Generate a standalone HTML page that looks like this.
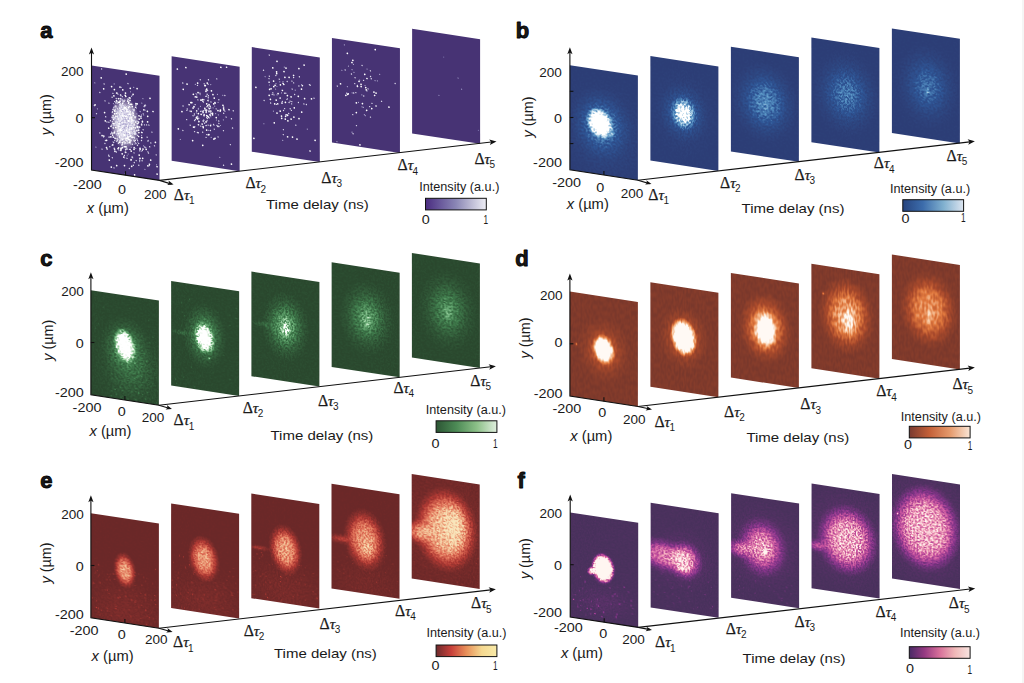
<!DOCTYPE html>
<html><head><meta charset="utf-8"><title>Figure</title>
<style>
html,body{margin:0;padding:0;background:#ffffff;}
body{width:1024px;height:683px;overflow:hidden;position:relative;font-family:"Liberation Sans", sans-serif;}
svg{position:absolute;left:0;top:0;display:block;}
svg text{font-family:"Liberation Sans", sans-serif;fill:#1a1a1a;}
svg text.ser{font-family:"Liberation Serif",serif;stroke:#1a1a1a;stroke-width:0.25px;}
svg tspan.sans{font-family:"Liberation Sans",sans-serif;stroke:none;}
.strip{position:absolute;right:0;top:0;width:2px;height:683px;background:#f5f5f5;}
</style></head><body>
<svg width="1024" height="683" viewBox="0 0 1024 683">
<defs>
<radialGradient id="acore"><stop offset="0" stop-color="#fff" stop-opacity="1"/><stop offset="0.42" stop-color="#fff" stop-opacity="0.95"/><stop offset="0.72" stop-color="#fff" stop-opacity="0.45"/><stop offset="1" stop-color="#fff" stop-opacity="0"/></radialGradient>
<clipPath id="cr"><rect x="0" y="0" width="68.0" height="104.6"/></clipPath>
<linearGradient id="ga"><stop offset="0.00" stop-color="#4a2c80"/><stop offset="0.25" stop-color="#6a5a9c"/><stop offset="0.50" stop-color="#8a86b5"/><stop offset="0.75" stop-color="#bcbad4"/><stop offset="1.00" stop-color="#eeeef5"/></linearGradient>
<filter id="fb0" filterUnits="userSpaceOnUse" x="-1" y="-1" width="70.0" height="106.6" color-interpolation-filters="sRGB"><feTurbulence type="fractalNoise" baseFrequency="0.5" numOctaves="2" seed="98" result="t"/><feColorMatrix in="t" type="matrix" values="3.0 0 0 0 -1.0  3.0 0 0 0 -1.0  3.0 0 0 0 -1.0  0 0 0 0 1" result="n0"/><feGaussianBlur in="n0" stdDeviation="0.5" result="n"/><feComposite in="SourceGraphic" in2="n" operator="arithmetic" k1="1.600" k2="1.200" k3="0.040" k4="-0.020"/><feComponentTransfer><feFuncR type="table" tableValues="0.176 0.178 0.180 0.182 0.184 0.222 0.259 0.296 0.333 0.417 0.500 0.583 0.667 0.750 0.833 0.917 1.000"/><feFuncG type="table" tableValues="0.243 0.267 0.290 0.314 0.337 0.394 0.451 0.508 0.565 0.625 0.684 0.744 0.804 0.853 0.902 0.951 1.000"/><feFuncB type="table" tableValues="0.463 0.494 0.525 0.557 0.588 0.631 0.675 0.718 0.761 0.794 0.827 0.861 0.894 0.921 0.947 0.974 1.000"/><feFuncA type="linear" slope="0" intercept="1"/></feComponentTransfer></filter>
<radialGradient id="rb00"><stop offset="0.000" stop-color="#fff" stop-opacity="0.085"/><stop offset="0.083" stop-color="#fff" stop-opacity="0.083"/><stop offset="0.167" stop-color="#fff" stop-opacity="0.077"/><stop offset="0.250" stop-color="#fff" stop-opacity="0.068"/><stop offset="0.333" stop-color="#fff" stop-opacity="0.058"/><stop offset="0.417" stop-color="#fff" stop-opacity="0.046"/><stop offset="0.500" stop-color="#fff" stop-opacity="0.035"/><stop offset="0.583" stop-color="#fff" stop-opacity="0.026"/><stop offset="0.667" stop-color="#fff" stop-opacity="0.018"/><stop offset="0.750" stop-color="#fff" stop-opacity="0.012"/><stop offset="0.833" stop-color="#fff" stop-opacity="0.007"/><stop offset="0.917" stop-color="#fff" stop-opacity="0.004"/><stop offset="1.000" stop-color="#fff" stop-opacity="0.000"/></radialGradient>
<radialGradient id="rb01"><stop offset="0.000" stop-color="#fff" stop-opacity="0.220"/><stop offset="0.083" stop-color="#fff" stop-opacity="0.215"/><stop offset="0.167" stop-color="#fff" stop-opacity="0.200"/><stop offset="0.250" stop-color="#fff" stop-opacity="0.177"/><stop offset="0.333" stop-color="#fff" stop-opacity="0.149"/><stop offset="0.417" stop-color="#fff" stop-opacity="0.120"/><stop offset="0.500" stop-color="#fff" stop-opacity="0.092"/><stop offset="0.583" stop-color="#fff" stop-opacity="0.067"/><stop offset="0.667" stop-color="#fff" stop-opacity="0.046"/><stop offset="0.750" stop-color="#fff" stop-opacity="0.031"/><stop offset="0.833" stop-color="#fff" stop-opacity="0.019"/><stop offset="0.917" stop-color="#fff" stop-opacity="0.012"/><stop offset="1.000" stop-color="#fff" stop-opacity="0.000"/></radialGradient>
<radialGradient id="rb02"><stop offset="0.000" stop-color="#fff" stop-opacity="1.000"/><stop offset="0.083" stop-color="#fff" stop-opacity="1.000"/><stop offset="0.167" stop-color="#fff" stop-opacity="1.000"/><stop offset="0.250" stop-color="#fff" stop-opacity="1.000"/><stop offset="0.333" stop-color="#fff" stop-opacity="1.000"/><stop offset="0.417" stop-color="#fff" stop-opacity="1.000"/><stop offset="0.500" stop-color="#fff" stop-opacity="0.824"/><stop offset="0.583" stop-color="#fff" stop-opacity="0.613"/><stop offset="0.667" stop-color="#fff" stop-opacity="0.426"/><stop offset="0.750" stop-color="#fff" stop-opacity="0.277"/><stop offset="0.833" stop-color="#fff" stop-opacity="0.167"/><stop offset="0.917" stop-color="#fff" stop-opacity="0.093"/><stop offset="1.000" stop-color="#fff" stop-opacity="0.000"/></radialGradient>
<radialGradient id="rb03"><stop offset="0.000" stop-color="#fff" stop-opacity="0.250"/><stop offset="0.083" stop-color="#fff" stop-opacity="0.244"/><stop offset="0.167" stop-color="#fff" stop-opacity="0.227"/><stop offset="0.250" stop-color="#fff" stop-opacity="0.201"/><stop offset="0.333" stop-color="#fff" stop-opacity="0.169"/><stop offset="0.417" stop-color="#fff" stop-opacity="0.136"/><stop offset="0.500" stop-color="#fff" stop-opacity="0.104"/><stop offset="0.583" stop-color="#fff" stop-opacity="0.076"/><stop offset="0.667" stop-color="#fff" stop-opacity="0.053"/><stop offset="0.750" stop-color="#fff" stop-opacity="0.035"/><stop offset="0.833" stop-color="#fff" stop-opacity="0.022"/><stop offset="0.917" stop-color="#fff" stop-opacity="0.013"/><stop offset="1.000" stop-color="#fff" stop-opacity="0.000"/></radialGradient>
<filter id="fb1" filterUnits="userSpaceOnUse" x="-1" y="-1" width="70.0" height="106.6" color-interpolation-filters="sRGB"><feTurbulence type="fractalNoise" baseFrequency="0.5" numOctaves="2" seed="105" result="t"/><feColorMatrix in="t" type="matrix" values="3.0 0 0 0 -1.0  3.0 0 0 0 -1.0  3.0 0 0 0 -1.0  0 0 0 0 1" result="n0"/><feGaussianBlur in="n0" stdDeviation="0.5" result="n"/><feComposite in="SourceGraphic" in2="n" operator="arithmetic" k1="1.600" k2="1.200" k3="0.040" k4="-0.020"/><feComponentTransfer><feFuncR type="table" tableValues="0.176 0.178 0.180 0.182 0.184 0.222 0.259 0.296 0.333 0.417 0.500 0.583 0.667 0.750 0.833 0.917 1.000"/><feFuncG type="table" tableValues="0.243 0.267 0.290 0.314 0.337 0.394 0.451 0.508 0.565 0.625 0.684 0.744 0.804 0.853 0.902 0.951 1.000"/><feFuncB type="table" tableValues="0.463 0.494 0.525 0.557 0.588 0.631 0.675 0.718 0.761 0.794 0.827 0.861 0.894 0.921 0.947 0.974 1.000"/><feFuncA type="linear" slope="0" intercept="1"/></feComponentTransfer></filter>
<radialGradient id="rb10"><stop offset="0.000" stop-color="#fff" stop-opacity="0.055"/><stop offset="0.083" stop-color="#fff" stop-opacity="0.054"/><stop offset="0.167" stop-color="#fff" stop-opacity="0.050"/><stop offset="0.250" stop-color="#fff" stop-opacity="0.044"/><stop offset="0.333" stop-color="#fff" stop-opacity="0.037"/><stop offset="0.417" stop-color="#fff" stop-opacity="0.030"/><stop offset="0.500" stop-color="#fff" stop-opacity="0.023"/><stop offset="0.583" stop-color="#fff" stop-opacity="0.017"/><stop offset="0.667" stop-color="#fff" stop-opacity="0.012"/><stop offset="0.750" stop-color="#fff" stop-opacity="0.008"/><stop offset="0.833" stop-color="#fff" stop-opacity="0.005"/><stop offset="0.917" stop-color="#fff" stop-opacity="0.003"/><stop offset="1.000" stop-color="#fff" stop-opacity="0.000"/></radialGradient>
<radialGradient id="rb11"><stop offset="0.000" stop-color="#fff" stop-opacity="0.200"/><stop offset="0.083" stop-color="#fff" stop-opacity="0.195"/><stop offset="0.167" stop-color="#fff" stop-opacity="0.181"/><stop offset="0.250" stop-color="#fff" stop-opacity="0.161"/><stop offset="0.333" stop-color="#fff" stop-opacity="0.136"/><stop offset="0.417" stop-color="#fff" stop-opacity="0.109"/><stop offset="0.500" stop-color="#fff" stop-opacity="0.083"/><stop offset="0.583" stop-color="#fff" stop-opacity="0.061"/><stop offset="0.667" stop-color="#fff" stop-opacity="0.042"/><stop offset="0.750" stop-color="#fff" stop-opacity="0.028"/><stop offset="0.833" stop-color="#fff" stop-opacity="0.018"/><stop offset="0.917" stop-color="#fff" stop-opacity="0.011"/><stop offset="1.000" stop-color="#fff" stop-opacity="0.000"/></radialGradient>
<radialGradient id="rb12"><stop offset="0.000" stop-color="#fff" stop-opacity="0.625"/><stop offset="0.083" stop-color="#fff" stop-opacity="0.616"/><stop offset="0.167" stop-color="#fff" stop-opacity="0.584"/><stop offset="0.250" stop-color="#fff" stop-opacity="0.530"/><stop offset="0.333" stop-color="#fff" stop-opacity="0.457"/><stop offset="0.417" stop-color="#fff" stop-opacity="0.375"/><stop offset="0.500" stop-color="#fff" stop-opacity="0.292"/><stop offset="0.583" stop-color="#fff" stop-opacity="0.215"/><stop offset="0.667" stop-color="#fff" stop-opacity="0.149"/><stop offset="0.750" stop-color="#fff" stop-opacity="0.097"/><stop offset="0.833" stop-color="#fff" stop-opacity="0.060"/><stop offset="0.917" stop-color="#fff" stop-opacity="0.035"/><stop offset="1.000" stop-color="#fff" stop-opacity="0.000"/></radialGradient>
<filter id="fb2" filterUnits="userSpaceOnUse" x="-1" y="-1" width="70.0" height="106.6" color-interpolation-filters="sRGB"><feTurbulence type="fractalNoise" baseFrequency="0.5" numOctaves="2" seed="112" result="t"/><feColorMatrix in="t" type="matrix" values="3.0 0 0 0 -1.0  3.0 0 0 0 -1.0  3.0 0 0 0 -1.0  0 0 0 0 1" result="n0"/><feGaussianBlur in="n0" stdDeviation="0.5" result="n"/><feComposite in="SourceGraphic" in2="n" operator="arithmetic" k1="1.600" k2="1.200" k3="0.040" k4="-0.020"/><feComponentTransfer><feFuncR type="table" tableValues="0.176 0.178 0.180 0.182 0.184 0.222 0.259 0.296 0.333 0.417 0.500 0.583 0.667 0.750 0.833 0.917 1.000"/><feFuncG type="table" tableValues="0.243 0.267 0.290 0.314 0.337 0.394 0.451 0.508 0.565 0.625 0.684 0.744 0.804 0.853 0.902 0.951 1.000"/><feFuncB type="table" tableValues="0.463 0.494 0.525 0.557 0.588 0.631 0.675 0.718 0.761 0.794 0.827 0.861 0.894 0.921 0.947 0.974 1.000"/><feFuncA type="linear" slope="0" intercept="1"/></feComponentTransfer></filter>
<radialGradient id="rb20"><stop offset="0.000" stop-color="#fff" stop-opacity="0.025"/><stop offset="0.083" stop-color="#fff" stop-opacity="0.024"/><stop offset="0.167" stop-color="#fff" stop-opacity="0.023"/><stop offset="0.250" stop-color="#fff" stop-opacity="0.020"/><stop offset="0.333" stop-color="#fff" stop-opacity="0.017"/><stop offset="0.417" stop-color="#fff" stop-opacity="0.014"/><stop offset="0.500" stop-color="#fff" stop-opacity="0.010"/><stop offset="0.583" stop-color="#fff" stop-opacity="0.008"/><stop offset="0.667" stop-color="#fff" stop-opacity="0.005"/><stop offset="0.750" stop-color="#fff" stop-opacity="0.003"/><stop offset="0.833" stop-color="#fff" stop-opacity="0.002"/><stop offset="0.917" stop-color="#fff" stop-opacity="0.001"/><stop offset="1.000" stop-color="#fff" stop-opacity="0.000"/></radialGradient>
<radialGradient id="rb21"><stop offset="0.000" stop-color="#fff" stop-opacity="0.210"/><stop offset="0.083" stop-color="#fff" stop-opacity="0.207"/><stop offset="0.167" stop-color="#fff" stop-opacity="0.196"/><stop offset="0.250" stop-color="#fff" stop-opacity="0.178"/><stop offset="0.333" stop-color="#fff" stop-opacity="0.154"/><stop offset="0.417" stop-color="#fff" stop-opacity="0.126"/><stop offset="0.500" stop-color="#fff" stop-opacity="0.098"/><stop offset="0.583" stop-color="#fff" stop-opacity="0.072"/><stop offset="0.667" stop-color="#fff" stop-opacity="0.050"/><stop offset="0.750" stop-color="#fff" stop-opacity="0.033"/><stop offset="0.833" stop-color="#fff" stop-opacity="0.020"/><stop offset="0.917" stop-color="#fff" stop-opacity="0.012"/><stop offset="1.000" stop-color="#fff" stop-opacity="0.000"/></radialGradient>
<filter id="fb3" filterUnits="userSpaceOnUse" x="-1" y="-1" width="70.0" height="106.6" color-interpolation-filters="sRGB"><feTurbulence type="fractalNoise" baseFrequency="0.5" numOctaves="2" seed="119" result="t"/><feColorMatrix in="t" type="matrix" values="3.0 0 0 0 -1.0  3.0 0 0 0 -1.0  3.0 0 0 0 -1.0  0 0 0 0 1" result="n0"/><feGaussianBlur in="n0" stdDeviation="0.5" result="n"/><feComposite in="SourceGraphic" in2="n" operator="arithmetic" k1="1.600" k2="1.200" k3="0.040" k4="-0.020"/><feComponentTransfer><feFuncR type="table" tableValues="0.176 0.178 0.180 0.182 0.184 0.222 0.259 0.296 0.333 0.417 0.500 0.583 0.667 0.750 0.833 0.917 1.000"/><feFuncG type="table" tableValues="0.243 0.267 0.290 0.314 0.337 0.394 0.451 0.508 0.565 0.625 0.684 0.744 0.804 0.853 0.902 0.951 1.000"/><feFuncB type="table" tableValues="0.463 0.494 0.525 0.557 0.588 0.631 0.675 0.718 0.761 0.794 0.827 0.861 0.894 0.921 0.947 0.974 1.000"/><feFuncA type="linear" slope="0" intercept="1"/></feComponentTransfer></filter>
<radialGradient id="rb30"><stop offset="0.000" stop-color="#fff" stop-opacity="0.025"/><stop offset="0.083" stop-color="#fff" stop-opacity="0.024"/><stop offset="0.167" stop-color="#fff" stop-opacity="0.023"/><stop offset="0.250" stop-color="#fff" stop-opacity="0.020"/><stop offset="0.333" stop-color="#fff" stop-opacity="0.017"/><stop offset="0.417" stop-color="#fff" stop-opacity="0.014"/><stop offset="0.500" stop-color="#fff" stop-opacity="0.010"/><stop offset="0.583" stop-color="#fff" stop-opacity="0.008"/><stop offset="0.667" stop-color="#fff" stop-opacity="0.005"/><stop offset="0.750" stop-color="#fff" stop-opacity="0.003"/><stop offset="0.833" stop-color="#fff" stop-opacity="0.002"/><stop offset="0.917" stop-color="#fff" stop-opacity="0.001"/><stop offset="1.000" stop-color="#fff" stop-opacity="0.000"/></radialGradient>
<radialGradient id="rb31"><stop offset="0.000" stop-color="#fff" stop-opacity="0.175"/><stop offset="0.083" stop-color="#fff" stop-opacity="0.172"/><stop offset="0.167" stop-color="#fff" stop-opacity="0.164"/><stop offset="0.250" stop-color="#fff" stop-opacity="0.148"/><stop offset="0.333" stop-color="#fff" stop-opacity="0.128"/><stop offset="0.417" stop-color="#fff" stop-opacity="0.105"/><stop offset="0.500" stop-color="#fff" stop-opacity="0.082"/><stop offset="0.583" stop-color="#fff" stop-opacity="0.060"/><stop offset="0.667" stop-color="#fff" stop-opacity="0.042"/><stop offset="0.750" stop-color="#fff" stop-opacity="0.027"/><stop offset="0.833" stop-color="#fff" stop-opacity="0.017"/><stop offset="0.917" stop-color="#fff" stop-opacity="0.010"/><stop offset="1.000" stop-color="#fff" stop-opacity="0.000"/></radialGradient>
<filter id="fb4" filterUnits="userSpaceOnUse" x="-1" y="-1" width="70.0" height="106.6" color-interpolation-filters="sRGB"><feTurbulence type="fractalNoise" baseFrequency="0.5" numOctaves="2" seed="126" result="t"/><feColorMatrix in="t" type="matrix" values="3.0 0 0 0 -1.0  3.0 0 0 0 -1.0  3.0 0 0 0 -1.0  0 0 0 0 1" result="n0"/><feGaussianBlur in="n0" stdDeviation="0.5" result="n"/><feComposite in="SourceGraphic" in2="n" operator="arithmetic" k1="1.600" k2="1.200" k3="0.040" k4="-0.020"/><feComponentTransfer><feFuncR type="table" tableValues="0.176 0.178 0.180 0.182 0.184 0.222 0.259 0.296 0.333 0.417 0.500 0.583 0.667 0.750 0.833 0.917 1.000"/><feFuncG type="table" tableValues="0.243 0.267 0.290 0.314 0.337 0.394 0.451 0.508 0.565 0.625 0.684 0.744 0.804 0.853 0.902 0.951 1.000"/><feFuncB type="table" tableValues="0.463 0.494 0.525 0.557 0.588 0.631 0.675 0.718 0.761 0.794 0.827 0.861 0.894 0.921 0.947 0.974 1.000"/><feFuncA type="linear" slope="0" intercept="1"/></feComponentTransfer></filter>
<radialGradient id="rb40"><stop offset="0.000" stop-color="#fff" stop-opacity="0.025"/><stop offset="0.083" stop-color="#fff" stop-opacity="0.024"/><stop offset="0.167" stop-color="#fff" stop-opacity="0.023"/><stop offset="0.250" stop-color="#fff" stop-opacity="0.020"/><stop offset="0.333" stop-color="#fff" stop-opacity="0.017"/><stop offset="0.417" stop-color="#fff" stop-opacity="0.014"/><stop offset="0.500" stop-color="#fff" stop-opacity="0.010"/><stop offset="0.583" stop-color="#fff" stop-opacity="0.008"/><stop offset="0.667" stop-color="#fff" stop-opacity="0.005"/><stop offset="0.750" stop-color="#fff" stop-opacity="0.003"/><stop offset="0.833" stop-color="#fff" stop-opacity="0.002"/><stop offset="0.917" stop-color="#fff" stop-opacity="0.001"/><stop offset="1.000" stop-color="#fff" stop-opacity="0.000"/></radialGradient>
<radialGradient id="rb41"><stop offset="0.000" stop-color="#fff" stop-opacity="0.150"/><stop offset="0.083" stop-color="#fff" stop-opacity="0.148"/><stop offset="0.167" stop-color="#fff" stop-opacity="0.140"/><stop offset="0.250" stop-color="#fff" stop-opacity="0.127"/><stop offset="0.333" stop-color="#fff" stop-opacity="0.110"/><stop offset="0.417" stop-color="#fff" stop-opacity="0.090"/><stop offset="0.500" stop-color="#fff" stop-opacity="0.070"/><stop offset="0.583" stop-color="#fff" stop-opacity="0.051"/><stop offset="0.667" stop-color="#fff" stop-opacity="0.036"/><stop offset="0.750" stop-color="#fff" stop-opacity="0.023"/><stop offset="0.833" stop-color="#fff" stop-opacity="0.014"/><stop offset="0.917" stop-color="#fff" stop-opacity="0.008"/><stop offset="1.000" stop-color="#fff" stop-opacity="0.000"/></radialGradient>
<radialGradient id="rb42"><stop offset="0.000" stop-color="#fff" stop-opacity="0.175"/><stop offset="0.083" stop-color="#fff" stop-opacity="0.171"/><stop offset="0.167" stop-color="#fff" stop-opacity="0.159"/><stop offset="0.250" stop-color="#fff" stop-opacity="0.141"/><stop offset="0.333" stop-color="#fff" stop-opacity="0.119"/><stop offset="0.417" stop-color="#fff" stop-opacity="0.095"/><stop offset="0.500" stop-color="#fff" stop-opacity="0.073"/><stop offset="0.583" stop-color="#fff" stop-opacity="0.053"/><stop offset="0.667" stop-color="#fff" stop-opacity="0.037"/><stop offset="0.750" stop-color="#fff" stop-opacity="0.024"/><stop offset="0.833" stop-color="#fff" stop-opacity="0.015"/><stop offset="0.917" stop-color="#fff" stop-opacity="0.009"/><stop offset="1.000" stop-color="#fff" stop-opacity="0.000"/></radialGradient>
<linearGradient id="gb"><stop offset="0.00" stop-color="#26447f"/><stop offset="0.33" stop-color="#3c6cab"/><stop offset="0.67" stop-color="#80b0cf"/><stop offset="1.00" stop-color="#dde5f0"/></linearGradient>
<filter id="fc0" filterUnits="userSpaceOnUse" x="-1" y="-1" width="70.0" height="106.6" color-interpolation-filters="sRGB"><feTurbulence type="fractalNoise" baseFrequency="0.55" numOctaves="2" seed="99" result="t"/><feColorMatrix in="t" type="matrix" values="3.0 0 0 0 -1.0  3.0 0 0 0 -1.0  3.0 0 0 0 -1.0  0 0 0 0 1" result="n0"/><feGaussianBlur in="n0" stdDeviation="0.45" result="n"/><feComposite in="SourceGraphic" in2="n" operator="arithmetic" k1="2.000" k2="1.000" k3="0.050" k4="-0.025"/><feComponentTransfer><feFuncR type="table" tableValues="0.165 0.184 0.204 0.224 0.243 0.282 0.322 0.361 0.400 0.473 0.545 0.618 0.690 0.768 0.845 0.923 1.000"/><feFuncG type="table" tableValues="0.282 0.329 0.376 0.424 0.471 0.518 0.565 0.612 0.659 0.710 0.761 0.812 0.863 0.897 0.931 0.966 1.000"/><feFuncB type="table" tableValues="0.180 0.208 0.235 0.263 0.290 0.329 0.369 0.408 0.447 0.512 0.576 0.641 0.706 0.779 0.853 0.926 1.000"/><feFuncA type="linear" slope="0" intercept="1"/></feComponentTransfer></filter>
<radialGradient id="rc00"><stop offset="0.000" stop-color="#fff" stop-opacity="0.085"/><stop offset="0.083" stop-color="#fff" stop-opacity="0.083"/><stop offset="0.167" stop-color="#fff" stop-opacity="0.077"/><stop offset="0.250" stop-color="#fff" stop-opacity="0.068"/><stop offset="0.333" stop-color="#fff" stop-opacity="0.058"/><stop offset="0.417" stop-color="#fff" stop-opacity="0.046"/><stop offset="0.500" stop-color="#fff" stop-opacity="0.035"/><stop offset="0.583" stop-color="#fff" stop-opacity="0.026"/><stop offset="0.667" stop-color="#fff" stop-opacity="0.018"/><stop offset="0.750" stop-color="#fff" stop-opacity="0.012"/><stop offset="0.833" stop-color="#fff" stop-opacity="0.007"/><stop offset="0.917" stop-color="#fff" stop-opacity="0.004"/><stop offset="1.000" stop-color="#fff" stop-opacity="0.000"/></radialGradient>
<radialGradient id="rc01"><stop offset="0.000" stop-color="#fff" stop-opacity="0.180"/><stop offset="0.083" stop-color="#fff" stop-opacity="0.176"/><stop offset="0.167" stop-color="#fff" stop-opacity="0.163"/><stop offset="0.250" stop-color="#fff" stop-opacity="0.145"/><stop offset="0.333" stop-color="#fff" stop-opacity="0.122"/><stop offset="0.417" stop-color="#fff" stop-opacity="0.098"/><stop offset="0.500" stop-color="#fff" stop-opacity="0.075"/><stop offset="0.583" stop-color="#fff" stop-opacity="0.055"/><stop offset="0.667" stop-color="#fff" stop-opacity="0.038"/><stop offset="0.750" stop-color="#fff" stop-opacity="0.025"/><stop offset="0.833" stop-color="#fff" stop-opacity="0.016"/><stop offset="0.917" stop-color="#fff" stop-opacity="0.010"/><stop offset="1.000" stop-color="#fff" stop-opacity="0.000"/></radialGradient>
<radialGradient id="rc02"><stop offset="0.000" stop-color="#fff" stop-opacity="1.000"/><stop offset="0.083" stop-color="#fff" stop-opacity="1.000"/><stop offset="0.167" stop-color="#fff" stop-opacity="1.000"/><stop offset="0.250" stop-color="#fff" stop-opacity="1.000"/><stop offset="0.333" stop-color="#fff" stop-opacity="1.000"/><stop offset="0.417" stop-color="#fff" stop-opacity="1.000"/><stop offset="0.500" stop-color="#fff" stop-opacity="0.898"/><stop offset="0.583" stop-color="#fff" stop-opacity="0.676"/><stop offset="0.667" stop-color="#fff" stop-opacity="0.473"/><stop offset="0.750" stop-color="#fff" stop-opacity="0.305"/><stop offset="0.833" stop-color="#fff" stop-opacity="0.181"/><stop offset="0.917" stop-color="#fff" stop-opacity="0.098"/><stop offset="1.000" stop-color="#fff" stop-opacity="0.000"/></radialGradient>
<filter id="fc1" filterUnits="userSpaceOnUse" x="-1" y="-1" width="70.0" height="106.6" color-interpolation-filters="sRGB"><feTurbulence type="fractalNoise" baseFrequency="0.55" numOctaves="2" seed="106" result="t"/><feColorMatrix in="t" type="matrix" values="3.0 0 0 0 -1.0  3.0 0 0 0 -1.0  3.0 0 0 0 -1.0  0 0 0 0 1" result="n0"/><feGaussianBlur in="n0" stdDeviation="0.45" result="n"/><feComposite in="SourceGraphic" in2="n" operator="arithmetic" k1="2.000" k2="1.000" k3="0.050" k4="-0.025"/><feComponentTransfer><feFuncR type="table" tableValues="0.165 0.184 0.204 0.224 0.243 0.282 0.322 0.361 0.400 0.473 0.545 0.618 0.690 0.768 0.845 0.923 1.000"/><feFuncG type="table" tableValues="0.282 0.329 0.376 0.424 0.471 0.518 0.565 0.612 0.659 0.710 0.761 0.812 0.863 0.897 0.931 0.966 1.000"/><feFuncB type="table" tableValues="0.180 0.208 0.235 0.263 0.290 0.329 0.369 0.408 0.447 0.512 0.576 0.641 0.706 0.779 0.853 0.926 1.000"/><feFuncA type="linear" slope="0" intercept="1"/></feComponentTransfer></filter>
<radialGradient id="rc10"><stop offset="0.000" stop-color="#fff" stop-opacity="0.080"/><stop offset="0.083" stop-color="#fff" stop-opacity="0.078"/><stop offset="0.167" stop-color="#fff" stop-opacity="0.073"/><stop offset="0.250" stop-color="#fff" stop-opacity="0.064"/><stop offset="0.333" stop-color="#fff" stop-opacity="0.054"/><stop offset="0.417" stop-color="#fff" stop-opacity="0.044"/><stop offset="0.500" stop-color="#fff" stop-opacity="0.033"/><stop offset="0.583" stop-color="#fff" stop-opacity="0.024"/><stop offset="0.667" stop-color="#fff" stop-opacity="0.017"/><stop offset="0.750" stop-color="#fff" stop-opacity="0.011"/><stop offset="0.833" stop-color="#fff" stop-opacity="0.007"/><stop offset="0.917" stop-color="#fff" stop-opacity="0.004"/><stop offset="1.000" stop-color="#fff" stop-opacity="0.000"/></radialGradient>
<radialGradient id="rc11"><stop offset="0.000" stop-color="#fff" stop-opacity="0.260"/><stop offset="0.083" stop-color="#fff" stop-opacity="0.254"/><stop offset="0.167" stop-color="#fff" stop-opacity="0.236"/><stop offset="0.250" stop-color="#fff" stop-opacity="0.209"/><stop offset="0.333" stop-color="#fff" stop-opacity="0.176"/><stop offset="0.417" stop-color="#fff" stop-opacity="0.142"/><stop offset="0.500" stop-color="#fff" stop-opacity="0.108"/><stop offset="0.583" stop-color="#fff" stop-opacity="0.079"/><stop offset="0.667" stop-color="#fff" stop-opacity="0.055"/><stop offset="0.750" stop-color="#fff" stop-opacity="0.036"/><stop offset="0.833" stop-color="#fff" stop-opacity="0.023"/><stop offset="0.917" stop-color="#fff" stop-opacity="0.014"/><stop offset="1.000" stop-color="#fff" stop-opacity="0.000"/></radialGradient>
<radialGradient id="rc12"><stop offset="0.000" stop-color="#fff" stop-opacity="1.000"/><stop offset="0.083" stop-color="#fff" stop-opacity="1.000"/><stop offset="0.167" stop-color="#fff" stop-opacity="1.000"/><stop offset="0.250" stop-color="#fff" stop-opacity="1.000"/><stop offset="0.333" stop-color="#fff" stop-opacity="1.000"/><stop offset="0.417" stop-color="#fff" stop-opacity="0.847"/><stop offset="0.500" stop-color="#fff" stop-opacity="0.670"/><stop offset="0.583" stop-color="#fff" stop-opacity="0.498"/><stop offset="0.667" stop-color="#fff" stop-opacity="0.346"/><stop offset="0.750" stop-color="#fff" stop-opacity="0.225"/><stop offset="0.833" stop-color="#fff" stop-opacity="0.136"/><stop offset="0.917" stop-color="#fff" stop-opacity="0.076"/><stop offset="1.000" stop-color="#fff" stop-opacity="0.000"/></radialGradient>
<radialGradient id="rc13"><stop offset="0.000" stop-color="#fff" stop-opacity="0.450"/><stop offset="0.083" stop-color="#fff" stop-opacity="0.439"/><stop offset="0.167" stop-color="#fff" stop-opacity="0.408"/><stop offset="0.250" stop-color="#fff" stop-opacity="0.362"/><stop offset="0.333" stop-color="#fff" stop-opacity="0.305"/><stop offset="0.417" stop-color="#fff" stop-opacity="0.245"/><stop offset="0.500" stop-color="#fff" stop-opacity="0.188"/><stop offset="0.583" stop-color="#fff" stop-opacity="0.137"/><stop offset="0.667" stop-color="#fff" stop-opacity="0.095"/><stop offset="0.750" stop-color="#fff" stop-opacity="0.063"/><stop offset="0.833" stop-color="#fff" stop-opacity="0.040"/><stop offset="0.917" stop-color="#fff" stop-opacity="0.024"/><stop offset="1.000" stop-color="#fff" stop-opacity="0.000"/></radialGradient>
<filter id="fc2" filterUnits="userSpaceOnUse" x="-1" y="-1" width="70.0" height="106.6" color-interpolation-filters="sRGB"><feTurbulence type="fractalNoise" baseFrequency="0.55" numOctaves="2" seed="113" result="t"/><feColorMatrix in="t" type="matrix" values="3.0 0 0 0 -1.0  3.0 0 0 0 -1.0  3.0 0 0 0 -1.0  0 0 0 0 1" result="n0"/><feGaussianBlur in="n0" stdDeviation="0.45" result="n"/><feComposite in="SourceGraphic" in2="n" operator="arithmetic" k1="2.000" k2="1.000" k3="0.050" k4="-0.025"/><feComponentTransfer><feFuncR type="table" tableValues="0.165 0.184 0.204 0.224 0.243 0.282 0.322 0.361 0.400 0.473 0.545 0.618 0.690 0.768 0.845 0.923 1.000"/><feFuncG type="table" tableValues="0.282 0.329 0.376 0.424 0.471 0.518 0.565 0.612 0.659 0.710 0.761 0.812 0.863 0.897 0.931 0.966 1.000"/><feFuncB type="table" tableValues="0.180 0.208 0.235 0.263 0.290 0.329 0.369 0.408 0.447 0.512 0.576 0.641 0.706 0.779 0.853 0.926 1.000"/><feFuncA type="linear" slope="0" intercept="1"/></feComponentTransfer></filter>
<radialGradient id="rc20"><stop offset="0.000" stop-color="#fff" stop-opacity="0.070"/><stop offset="0.083" stop-color="#fff" stop-opacity="0.068"/><stop offset="0.167" stop-color="#fff" stop-opacity="0.064"/><stop offset="0.250" stop-color="#fff" stop-opacity="0.056"/><stop offset="0.333" stop-color="#fff" stop-opacity="0.047"/><stop offset="0.417" stop-color="#fff" stop-opacity="0.038"/><stop offset="0.500" stop-color="#fff" stop-opacity="0.029"/><stop offset="0.583" stop-color="#fff" stop-opacity="0.021"/><stop offset="0.667" stop-color="#fff" stop-opacity="0.015"/><stop offset="0.750" stop-color="#fff" stop-opacity="0.010"/><stop offset="0.833" stop-color="#fff" stop-opacity="0.006"/><stop offset="0.917" stop-color="#fff" stop-opacity="0.004"/><stop offset="1.000" stop-color="#fff" stop-opacity="0.000"/></radialGradient>
<radialGradient id="rc21"><stop offset="0.000" stop-color="#fff" stop-opacity="0.260"/><stop offset="0.083" stop-color="#fff" stop-opacity="0.254"/><stop offset="0.167" stop-color="#fff" stop-opacity="0.236"/><stop offset="0.250" stop-color="#fff" stop-opacity="0.209"/><stop offset="0.333" stop-color="#fff" stop-opacity="0.176"/><stop offset="0.417" stop-color="#fff" stop-opacity="0.142"/><stop offset="0.500" stop-color="#fff" stop-opacity="0.108"/><stop offset="0.583" stop-color="#fff" stop-opacity="0.079"/><stop offset="0.667" stop-color="#fff" stop-opacity="0.055"/><stop offset="0.750" stop-color="#fff" stop-opacity="0.036"/><stop offset="0.833" stop-color="#fff" stop-opacity="0.023"/><stop offset="0.917" stop-color="#fff" stop-opacity="0.014"/><stop offset="1.000" stop-color="#fff" stop-opacity="0.000"/></radialGradient>
<radialGradient id="rc22"><stop offset="0.000" stop-color="#fff" stop-opacity="0.300"/><stop offset="0.083" stop-color="#fff" stop-opacity="0.293"/><stop offset="0.167" stop-color="#fff" stop-opacity="0.272"/><stop offset="0.250" stop-color="#fff" stop-opacity="0.241"/><stop offset="0.333" stop-color="#fff" stop-opacity="0.203"/><stop offset="0.417" stop-color="#fff" stop-opacity="0.163"/><stop offset="0.500" stop-color="#fff" stop-opacity="0.125"/><stop offset="0.583" stop-color="#fff" stop-opacity="0.091"/><stop offset="0.667" stop-color="#fff" stop-opacity="0.063"/><stop offset="0.750" stop-color="#fff" stop-opacity="0.042"/><stop offset="0.833" stop-color="#fff" stop-opacity="0.026"/><stop offset="0.917" stop-color="#fff" stop-opacity="0.016"/><stop offset="1.000" stop-color="#fff" stop-opacity="0.000"/></radialGradient>
<filter id="fc3" filterUnits="userSpaceOnUse" x="-1" y="-1" width="70.0" height="106.6" color-interpolation-filters="sRGB"><feTurbulence type="fractalNoise" baseFrequency="0.55" numOctaves="2" seed="120" result="t"/><feColorMatrix in="t" type="matrix" values="3.0 0 0 0 -1.0  3.0 0 0 0 -1.0  3.0 0 0 0 -1.0  0 0 0 0 1" result="n0"/><feGaussianBlur in="n0" stdDeviation="0.45" result="n"/><feComposite in="SourceGraphic" in2="n" operator="arithmetic" k1="2.000" k2="1.000" k3="0.050" k4="-0.025"/><feComponentTransfer><feFuncR type="table" tableValues="0.165 0.184 0.204 0.224 0.243 0.282 0.322 0.361 0.400 0.473 0.545 0.618 0.690 0.768 0.845 0.923 1.000"/><feFuncG type="table" tableValues="0.282 0.329 0.376 0.424 0.471 0.518 0.565 0.612 0.659 0.710 0.761 0.812 0.863 0.897 0.931 0.966 1.000"/><feFuncB type="table" tableValues="0.180 0.208 0.235 0.263 0.290 0.329 0.369 0.408 0.447 0.512 0.576 0.641 0.706 0.779 0.853 0.926 1.000"/><feFuncA type="linear" slope="0" intercept="1"/></feComponentTransfer></filter>
<radialGradient id="rc30"><stop offset="0.000" stop-color="#fff" stop-opacity="0.200"/><stop offset="0.083" stop-color="#fff" stop-opacity="0.195"/><stop offset="0.167" stop-color="#fff" stop-opacity="0.181"/><stop offset="0.250" stop-color="#fff" stop-opacity="0.161"/><stop offset="0.333" stop-color="#fff" stop-opacity="0.136"/><stop offset="0.417" stop-color="#fff" stop-opacity="0.109"/><stop offset="0.500" stop-color="#fff" stop-opacity="0.083"/><stop offset="0.583" stop-color="#fff" stop-opacity="0.061"/><stop offset="0.667" stop-color="#fff" stop-opacity="0.042"/><stop offset="0.750" stop-color="#fff" stop-opacity="0.028"/><stop offset="0.833" stop-color="#fff" stop-opacity="0.018"/><stop offset="0.917" stop-color="#fff" stop-opacity="0.011"/><stop offset="1.000" stop-color="#fff" stop-opacity="0.000"/></radialGradient>
<radialGradient id="rc31"><stop offset="0.000" stop-color="#fff" stop-opacity="0.150"/><stop offset="0.083" stop-color="#fff" stop-opacity="0.146"/><stop offset="0.167" stop-color="#fff" stop-opacity="0.136"/><stop offset="0.250" stop-color="#fff" stop-opacity="0.121"/><stop offset="0.333" stop-color="#fff" stop-opacity="0.102"/><stop offset="0.417" stop-color="#fff" stop-opacity="0.082"/><stop offset="0.500" stop-color="#fff" stop-opacity="0.063"/><stop offset="0.583" stop-color="#fff" stop-opacity="0.046"/><stop offset="0.667" stop-color="#fff" stop-opacity="0.032"/><stop offset="0.750" stop-color="#fff" stop-opacity="0.021"/><stop offset="0.833" stop-color="#fff" stop-opacity="0.013"/><stop offset="0.917" stop-color="#fff" stop-opacity="0.008"/><stop offset="1.000" stop-color="#fff" stop-opacity="0.000"/></radialGradient>
<filter id="fc4" filterUnits="userSpaceOnUse" x="-1" y="-1" width="70.0" height="106.6" color-interpolation-filters="sRGB"><feTurbulence type="fractalNoise" baseFrequency="0.55" numOctaves="2" seed="127" result="t"/><feColorMatrix in="t" type="matrix" values="3.0 0 0 0 -1.0  3.0 0 0 0 -1.0  3.0 0 0 0 -1.0  0 0 0 0 1" result="n0"/><feGaussianBlur in="n0" stdDeviation="0.45" result="n"/><feComposite in="SourceGraphic" in2="n" operator="arithmetic" k1="2.000" k2="1.000" k3="0.050" k4="-0.025"/><feComponentTransfer><feFuncR type="table" tableValues="0.165 0.184 0.204 0.224 0.243 0.282 0.322 0.361 0.400 0.473 0.545 0.618 0.690 0.768 0.845 0.923 1.000"/><feFuncG type="table" tableValues="0.282 0.329 0.376 0.424 0.471 0.518 0.565 0.612 0.659 0.710 0.761 0.812 0.863 0.897 0.931 0.966 1.000"/><feFuncB type="table" tableValues="0.180 0.208 0.235 0.263 0.290 0.329 0.369 0.408 0.447 0.512 0.576 0.641 0.706 0.779 0.853 0.926 1.000"/><feFuncA type="linear" slope="0" intercept="1"/></feComponentTransfer></filter>
<radialGradient id="rc40"><stop offset="0.000" stop-color="#fff" stop-opacity="0.170"/><stop offset="0.083" stop-color="#fff" stop-opacity="0.166"/><stop offset="0.167" stop-color="#fff" stop-opacity="0.154"/><stop offset="0.250" stop-color="#fff" stop-opacity="0.137"/><stop offset="0.333" stop-color="#fff" stop-opacity="0.115"/><stop offset="0.417" stop-color="#fff" stop-opacity="0.093"/><stop offset="0.500" stop-color="#fff" stop-opacity="0.071"/><stop offset="0.583" stop-color="#fff" stop-opacity="0.052"/><stop offset="0.667" stop-color="#fff" stop-opacity="0.036"/><stop offset="0.750" stop-color="#fff" stop-opacity="0.024"/><stop offset="0.833" stop-color="#fff" stop-opacity="0.015"/><stop offset="0.917" stop-color="#fff" stop-opacity="0.009"/><stop offset="1.000" stop-color="#fff" stop-opacity="0.000"/></radialGradient>
<radialGradient id="rc41"><stop offset="0.000" stop-color="#fff" stop-opacity="0.150"/><stop offset="0.083" stop-color="#fff" stop-opacity="0.146"/><stop offset="0.167" stop-color="#fff" stop-opacity="0.136"/><stop offset="0.250" stop-color="#fff" stop-opacity="0.121"/><stop offset="0.333" stop-color="#fff" stop-opacity="0.102"/><stop offset="0.417" stop-color="#fff" stop-opacity="0.082"/><stop offset="0.500" stop-color="#fff" stop-opacity="0.063"/><stop offset="0.583" stop-color="#fff" stop-opacity="0.046"/><stop offset="0.667" stop-color="#fff" stop-opacity="0.032"/><stop offset="0.750" stop-color="#fff" stop-opacity="0.021"/><stop offset="0.833" stop-color="#fff" stop-opacity="0.013"/><stop offset="0.917" stop-color="#fff" stop-opacity="0.008"/><stop offset="1.000" stop-color="#fff" stop-opacity="0.000"/></radialGradient>
<linearGradient id="gc"><stop offset="0.00" stop-color="#2c5534"/><stop offset="0.33" stop-color="#4c8a55"/><stop offset="0.67" stop-color="#8cc088"/><stop offset="1.00" stop-color="#e0efde"/></linearGradient>
<filter id="fd0" filterUnits="userSpaceOnUse" x="-1" y="-1" width="70.0" height="106.6" color-interpolation-filters="sRGB"><feTurbulence type="fractalNoise" baseFrequency="0.55 0.2" numOctaves="1" seed="100" result="t"/><feColorMatrix in="t" type="matrix" values="3.0 0 0 0 -1.0  3.0 0 0 0 -1.0  3.0 0 0 0 -1.0  0 0 0 0 1" result="n0"/><feGaussianBlur in="n0" stdDeviation="0.5" result="n"/><feComposite in="SourceGraphic" in2="n" operator="arithmetic" k1="0.960" k2="1.520" k3="0.050" k4="-0.025"/><feComponentTransfer><feFuncR type="table" tableValues="0.478 0.526 0.575 0.623 0.671 0.723 0.775 0.826 0.878 0.900 0.922 0.943 0.965 0.974 0.982 0.991 1.000"/><feFuncG type="table" tableValues="0.220 0.238 0.257 0.275 0.294 0.338 0.382 0.426 0.471 0.538 0.606 0.674 0.741 0.801 0.861 0.921 0.980"/><feFuncB type="table" tableValues="0.169 0.170 0.171 0.172 0.173 0.190 0.208 0.225 0.243 0.325 0.408 0.490 0.573 0.669 0.765 0.861 0.957"/><feFuncA type="linear" slope="0" intercept="1"/></feComponentTransfer></filter>
<radialGradient id="rd00"><stop offset="0.000" stop-color="#fff" stop-opacity="0.225"/><stop offset="0.083" stop-color="#fff" stop-opacity="0.220"/><stop offset="0.167" stop-color="#fff" stop-opacity="0.204"/><stop offset="0.250" stop-color="#fff" stop-opacity="0.181"/><stop offset="0.333" stop-color="#fff" stop-opacity="0.153"/><stop offset="0.417" stop-color="#fff" stop-opacity="0.123"/><stop offset="0.500" stop-color="#fff" stop-opacity="0.094"/><stop offset="0.583" stop-color="#fff" stop-opacity="0.068"/><stop offset="0.667" stop-color="#fff" stop-opacity="0.047"/><stop offset="0.750" stop-color="#fff" stop-opacity="0.031"/><stop offset="0.833" stop-color="#fff" stop-opacity="0.020"/><stop offset="0.917" stop-color="#fff" stop-opacity="0.012"/><stop offset="1.000" stop-color="#fff" stop-opacity="0.000"/></radialGradient>
<radialGradient id="rd01"><stop offset="0.000" stop-color="#fff" stop-opacity="1.000"/><stop offset="0.083" stop-color="#fff" stop-opacity="1.000"/><stop offset="0.167" stop-color="#fff" stop-opacity="1.000"/><stop offset="0.250" stop-color="#fff" stop-opacity="1.000"/><stop offset="0.333" stop-color="#fff" stop-opacity="1.000"/><stop offset="0.417" stop-color="#fff" stop-opacity="1.000"/><stop offset="0.500" stop-color="#fff" stop-opacity="0.842"/><stop offset="0.583" stop-color="#fff" stop-opacity="0.634"/><stop offset="0.667" stop-color="#fff" stop-opacity="0.443"/><stop offset="0.750" stop-color="#fff" stop-opacity="0.286"/><stop offset="0.833" stop-color="#fff" stop-opacity="0.170"/><stop offset="0.917" stop-color="#fff" stop-opacity="0.092"/><stop offset="1.000" stop-color="#fff" stop-opacity="0.000"/></radialGradient>
<radialGradient id="rd02"><stop offset="0.000" stop-color="#fff" stop-opacity="0.250"/><stop offset="0.083" stop-color="#fff" stop-opacity="0.244"/><stop offset="0.167" stop-color="#fff" stop-opacity="0.227"/><stop offset="0.250" stop-color="#fff" stop-opacity="0.201"/><stop offset="0.333" stop-color="#fff" stop-opacity="0.169"/><stop offset="0.417" stop-color="#fff" stop-opacity="0.136"/><stop offset="0.500" stop-color="#fff" stop-opacity="0.104"/><stop offset="0.583" stop-color="#fff" stop-opacity="0.076"/><stop offset="0.667" stop-color="#fff" stop-opacity="0.053"/><stop offset="0.750" stop-color="#fff" stop-opacity="0.035"/><stop offset="0.833" stop-color="#fff" stop-opacity="0.022"/><stop offset="0.917" stop-color="#fff" stop-opacity="0.013"/><stop offset="1.000" stop-color="#fff" stop-opacity="0.000"/></radialGradient>
<filter id="fd1" filterUnits="userSpaceOnUse" x="-1" y="-1" width="70.0" height="106.6" color-interpolation-filters="sRGB"><feTurbulence type="fractalNoise" baseFrequency="0.55 0.2" numOctaves="1" seed="107" result="t"/><feColorMatrix in="t" type="matrix" values="3.0 0 0 0 -1.0  3.0 0 0 0 -1.0  3.0 0 0 0 -1.0  0 0 0 0 1" result="n0"/><feGaussianBlur in="n0" stdDeviation="0.5" result="n"/><feComposite in="SourceGraphic" in2="n" operator="arithmetic" k1="0.960" k2="1.520" k3="0.050" k4="-0.025"/><feComponentTransfer><feFuncR type="table" tableValues="0.478 0.526 0.575 0.623 0.671 0.723 0.775 0.826 0.878 0.900 0.922 0.943 0.965 0.974 0.982 0.991 1.000"/><feFuncG type="table" tableValues="0.220 0.238 0.257 0.275 0.294 0.338 0.382 0.426 0.471 0.538 0.606 0.674 0.741 0.801 0.861 0.921 0.980"/><feFuncB type="table" tableValues="0.169 0.170 0.171 0.172 0.173 0.190 0.208 0.225 0.243 0.325 0.408 0.490 0.573 0.669 0.765 0.861 0.957"/><feFuncA type="linear" slope="0" intercept="1"/></feComponentTransfer></filter>
<radialGradient id="rd10"><stop offset="0.000" stop-color="#fff" stop-opacity="0.275"/><stop offset="0.083" stop-color="#fff" stop-opacity="0.268"/><stop offset="0.167" stop-color="#fff" stop-opacity="0.250"/><stop offset="0.250" stop-color="#fff" stop-opacity="0.221"/><stop offset="0.333" stop-color="#fff" stop-opacity="0.186"/><stop offset="0.417" stop-color="#fff" stop-opacity="0.150"/><stop offset="0.500" stop-color="#fff" stop-opacity="0.115"/><stop offset="0.583" stop-color="#fff" stop-opacity="0.084"/><stop offset="0.667" stop-color="#fff" stop-opacity="0.058"/><stop offset="0.750" stop-color="#fff" stop-opacity="0.038"/><stop offset="0.833" stop-color="#fff" stop-opacity="0.024"/><stop offset="0.917" stop-color="#fff" stop-opacity="0.015"/><stop offset="1.000" stop-color="#fff" stop-opacity="0.000"/></radialGradient>
<radialGradient id="rd11"><stop offset="0.000" stop-color="#fff" stop-opacity="1.000"/><stop offset="0.083" stop-color="#fff" stop-opacity="1.000"/><stop offset="0.167" stop-color="#fff" stop-opacity="1.000"/><stop offset="0.250" stop-color="#fff" stop-opacity="1.000"/><stop offset="0.333" stop-color="#fff" stop-opacity="1.000"/><stop offset="0.417" stop-color="#fff" stop-opacity="1.000"/><stop offset="0.500" stop-color="#fff" stop-opacity="0.907"/><stop offset="0.583" stop-color="#fff" stop-opacity="0.692"/><stop offset="0.667" stop-color="#fff" stop-opacity="0.487"/><stop offset="0.750" stop-color="#fff" stop-opacity="0.314"/><stop offset="0.833" stop-color="#fff" stop-opacity="0.184"/><stop offset="0.917" stop-color="#fff" stop-opacity="0.097"/><stop offset="1.000" stop-color="#fff" stop-opacity="0.000"/></radialGradient>
<filter id="fd2" filterUnits="userSpaceOnUse" x="-1" y="-1" width="70.0" height="106.6" color-interpolation-filters="sRGB"><feTurbulence type="fractalNoise" baseFrequency="0.55 0.2" numOctaves="1" seed="114" result="t"/><feColorMatrix in="t" type="matrix" values="3.0 0 0 0 -1.0  3.0 0 0 0 -1.0  3.0 0 0 0 -1.0  0 0 0 0 1" result="n0"/><feGaussianBlur in="n0" stdDeviation="0.5" result="n"/><feComposite in="SourceGraphic" in2="n" operator="arithmetic" k1="0.960" k2="1.520" k3="0.050" k4="-0.025"/><feComponentTransfer><feFuncR type="table" tableValues="0.478 0.526 0.575 0.623 0.671 0.723 0.775 0.826 0.878 0.900 0.922 0.943 0.965 0.974 0.982 0.991 1.000"/><feFuncG type="table" tableValues="0.220 0.238 0.257 0.275 0.294 0.338 0.382 0.426 0.471 0.538 0.606 0.674 0.741 0.801 0.861 0.921 0.980"/><feFuncB type="table" tableValues="0.169 0.170 0.171 0.172 0.173 0.190 0.208 0.225 0.243 0.325 0.408 0.490 0.573 0.669 0.765 0.861 0.957"/><feFuncA type="linear" slope="0" intercept="1"/></feComponentTransfer></filter>
<radialGradient id="rd20"><stop offset="0.000" stop-color="#fff" stop-opacity="0.350"/><stop offset="0.083" stop-color="#fff" stop-opacity="0.349"/><stop offset="0.167" stop-color="#fff" stop-opacity="0.342"/><stop offset="0.250" stop-color="#fff" stop-opacity="0.326"/><stop offset="0.333" stop-color="#fff" stop-opacity="0.298"/><stop offset="0.417" stop-color="#fff" stop-opacity="0.259"/><stop offset="0.500" stop-color="#fff" stop-opacity="0.212"/><stop offset="0.583" stop-color="#fff" stop-opacity="0.161"/><stop offset="0.667" stop-color="#fff" stop-opacity="0.114"/><stop offset="0.750" stop-color="#fff" stop-opacity="0.073"/><stop offset="0.833" stop-color="#fff" stop-opacity="0.043"/><stop offset="0.917" stop-color="#fff" stop-opacity="0.023"/><stop offset="1.000" stop-color="#fff" stop-opacity="0.000"/></radialGradient>
<radialGradient id="rd21"><stop offset="0.000" stop-color="#fff" stop-opacity="1.000"/><stop offset="0.083" stop-color="#fff" stop-opacity="0.991"/><stop offset="0.167" stop-color="#fff" stop-opacity="0.954"/><stop offset="0.250" stop-color="#fff" stop-opacity="0.882"/><stop offset="0.333" stop-color="#fff" stop-opacity="0.778"/><stop offset="0.417" stop-color="#fff" stop-opacity="0.652"/><stop offset="0.500" stop-color="#fff" stop-opacity="0.515"/><stop offset="0.583" stop-color="#fff" stop-opacity="0.383"/><stop offset="0.667" stop-color="#fff" stop-opacity="0.266"/><stop offset="0.750" stop-color="#fff" stop-opacity="0.173"/><stop offset="0.833" stop-color="#fff" stop-opacity="0.104"/><stop offset="0.917" stop-color="#fff" stop-opacity="0.058"/><stop offset="1.000" stop-color="#fff" stop-opacity="0.000"/></radialGradient>
<filter id="fd3" filterUnits="userSpaceOnUse" x="-1" y="-1" width="70.0" height="106.6" color-interpolation-filters="sRGB"><feTurbulence type="fractalNoise" baseFrequency="0.55 0.2" numOctaves="1" seed="121" result="t"/><feColorMatrix in="t" type="matrix" values="3.0 0 0 0 -1.0  3.0 0 0 0 -1.0  3.0 0 0 0 -1.0  0 0 0 0 1" result="n0"/><feGaussianBlur in="n0" stdDeviation="0.5" result="n"/><feComposite in="SourceGraphic" in2="n" operator="arithmetic" k1="0.960" k2="1.520" k3="0.050" k4="-0.025"/><feComponentTransfer><feFuncR type="table" tableValues="0.478 0.526 0.575 0.623 0.671 0.723 0.775 0.826 0.878 0.900 0.922 0.943 0.965 0.974 0.982 0.991 1.000"/><feFuncG type="table" tableValues="0.220 0.238 0.257 0.275 0.294 0.338 0.382 0.426 0.471 0.538 0.606 0.674 0.741 0.801 0.861 0.921 0.980"/><feFuncB type="table" tableValues="0.169 0.170 0.171 0.172 0.173 0.190 0.208 0.225 0.243 0.325 0.408 0.490 0.573 0.669 0.765 0.861 0.957"/><feFuncA type="linear" slope="0" intercept="1"/></feComponentTransfer></filter>
<radialGradient id="rd30"><stop offset="0.000" stop-color="#fff" stop-opacity="0.315"/><stop offset="0.083" stop-color="#fff" stop-opacity="0.315"/><stop offset="0.167" stop-color="#fff" stop-opacity="0.311"/><stop offset="0.250" stop-color="#fff" stop-opacity="0.302"/><stop offset="0.333" stop-color="#fff" stop-opacity="0.284"/><stop offset="0.417" stop-color="#fff" stop-opacity="0.255"/><stop offset="0.500" stop-color="#fff" stop-opacity="0.215"/><stop offset="0.583" stop-color="#fff" stop-opacity="0.169"/><stop offset="0.667" stop-color="#fff" stop-opacity="0.121"/><stop offset="0.750" stop-color="#fff" stop-opacity="0.078"/><stop offset="0.833" stop-color="#fff" stop-opacity="0.045"/><stop offset="0.917" stop-color="#fff" stop-opacity="0.022"/><stop offset="1.000" stop-color="#fff" stop-opacity="0.000"/></radialGradient>
<radialGradient id="rd31"><stop offset="0.000" stop-color="#fff" stop-opacity="0.300"/><stop offset="0.083" stop-color="#fff" stop-opacity="0.293"/><stop offset="0.167" stop-color="#fff" stop-opacity="0.272"/><stop offset="0.250" stop-color="#fff" stop-opacity="0.241"/><stop offset="0.333" stop-color="#fff" stop-opacity="0.203"/><stop offset="0.417" stop-color="#fff" stop-opacity="0.163"/><stop offset="0.500" stop-color="#fff" stop-opacity="0.125"/><stop offset="0.583" stop-color="#fff" stop-opacity="0.091"/><stop offset="0.667" stop-color="#fff" stop-opacity="0.063"/><stop offset="0.750" stop-color="#fff" stop-opacity="0.042"/><stop offset="0.833" stop-color="#fff" stop-opacity="0.026"/><stop offset="0.917" stop-color="#fff" stop-opacity="0.016"/><stop offset="1.000" stop-color="#fff" stop-opacity="0.000"/></radialGradient>
<radialGradient id="rd32"><stop offset="0.000" stop-color="#fff" stop-opacity="0.350"/><stop offset="0.083" stop-color="#fff" stop-opacity="0.342"/><stop offset="0.167" stop-color="#fff" stop-opacity="0.318"/><stop offset="0.250" stop-color="#fff" stop-opacity="0.281"/><stop offset="0.333" stop-color="#fff" stop-opacity="0.237"/><stop offset="0.417" stop-color="#fff" stop-opacity="0.191"/><stop offset="0.500" stop-color="#fff" stop-opacity="0.146"/><stop offset="0.583" stop-color="#fff" stop-opacity="0.106"/><stop offset="0.667" stop-color="#fff" stop-opacity="0.074"/><stop offset="0.750" stop-color="#fff" stop-opacity="0.049"/><stop offset="0.833" stop-color="#fff" stop-opacity="0.031"/><stop offset="0.917" stop-color="#fff" stop-opacity="0.018"/><stop offset="1.000" stop-color="#fff" stop-opacity="0.000"/></radialGradient>
<filter id="fd4" filterUnits="userSpaceOnUse" x="-1" y="-1" width="70.0" height="106.6" color-interpolation-filters="sRGB"><feTurbulence type="fractalNoise" baseFrequency="0.55 0.2" numOctaves="1" seed="128" result="t"/><feColorMatrix in="t" type="matrix" values="3.0 0 0 0 -1.0  3.0 0 0 0 -1.0  3.0 0 0 0 -1.0  0 0 0 0 1" result="n0"/><feGaussianBlur in="n0" stdDeviation="0.5" result="n"/><feComposite in="SourceGraphic" in2="n" operator="arithmetic" k1="0.960" k2="1.520" k3="0.050" k4="-0.025"/><feComponentTransfer><feFuncR type="table" tableValues="0.478 0.526 0.575 0.623 0.671 0.723 0.775 0.826 0.878 0.900 0.922 0.943 0.965 0.974 0.982 0.991 1.000"/><feFuncG type="table" tableValues="0.220 0.238 0.257 0.275 0.294 0.338 0.382 0.426 0.471 0.538 0.606 0.674 0.741 0.801 0.861 0.921 0.980"/><feFuncB type="table" tableValues="0.169 0.170 0.171 0.172 0.173 0.190 0.208 0.225 0.243 0.325 0.408 0.490 0.573 0.669 0.765 0.861 0.957"/><feFuncA type="linear" slope="0" intercept="1"/></feComponentTransfer></filter>
<radialGradient id="rd40"><stop offset="0.000" stop-color="#fff" stop-opacity="0.275"/><stop offset="0.083" stop-color="#fff" stop-opacity="0.275"/><stop offset="0.167" stop-color="#fff" stop-opacity="0.273"/><stop offset="0.250" stop-color="#fff" stop-opacity="0.266"/><stop offset="0.333" stop-color="#fff" stop-opacity="0.253"/><stop offset="0.417" stop-color="#fff" stop-opacity="0.230"/><stop offset="0.500" stop-color="#fff" stop-opacity="0.197"/><stop offset="0.583" stop-color="#fff" stop-opacity="0.157"/><stop offset="0.667" stop-color="#fff" stop-opacity="0.114"/><stop offset="0.750" stop-color="#fff" stop-opacity="0.074"/><stop offset="0.833" stop-color="#fff" stop-opacity="0.042"/><stop offset="0.917" stop-color="#fff" stop-opacity="0.020"/><stop offset="1.000" stop-color="#fff" stop-opacity="0.000"/></radialGradient>
<radialGradient id="rd41"><stop offset="0.000" stop-color="#fff" stop-opacity="0.150"/><stop offset="0.083" stop-color="#fff" stop-opacity="0.146"/><stop offset="0.167" stop-color="#fff" stop-opacity="0.136"/><stop offset="0.250" stop-color="#fff" stop-opacity="0.121"/><stop offset="0.333" stop-color="#fff" stop-opacity="0.102"/><stop offset="0.417" stop-color="#fff" stop-opacity="0.082"/><stop offset="0.500" stop-color="#fff" stop-opacity="0.063"/><stop offset="0.583" stop-color="#fff" stop-opacity="0.046"/><stop offset="0.667" stop-color="#fff" stop-opacity="0.032"/><stop offset="0.750" stop-color="#fff" stop-opacity="0.021"/><stop offset="0.833" stop-color="#fff" stop-opacity="0.013"/><stop offset="0.917" stop-color="#fff" stop-opacity="0.008"/><stop offset="1.000" stop-color="#fff" stop-opacity="0.000"/></radialGradient>
<linearGradient id="gd"><stop offset="0.00" stop-color="#7a3a30"/><stop offset="0.33" stop-color="#c46038"/><stop offset="0.67" stop-color="#e59a6c"/><stop offset="1.00" stop-color="#fae6d6"/></linearGradient>
<filter id="fe0" filterUnits="userSpaceOnUse" x="-1" y="-1" width="70.0" height="106.6" color-interpolation-filters="sRGB"><feTurbulence type="fractalNoise" baseFrequency="0.55" numOctaves="2" seed="101" result="t"/><feColorMatrix in="t" type="matrix" values="3.0 0 0 0 -1.0  3.0 0 0 0 -1.0  3.0 0 0 0 -1.0  0 0 0 0 1" result="n0"/><feGaussianBlur in="n0" stdDeviation="0.45" result="n"/><feComposite in="SourceGraphic" in2="n" operator="arithmetic" k1="1.200" k2="1.400" k3="0.030" k4="-0.015"/><feComponentTransfer><feFuncR type="table" tableValues="0.416 0.484 0.553 0.622 0.690 0.735 0.780 0.825 0.871 0.888 0.906 0.924 0.941 0.950 0.959 0.968 0.976"/><feFuncG type="table" tableValues="0.157 0.175 0.192 0.210 0.227 0.278 0.329 0.380 0.431 0.496 0.561 0.625 0.690 0.743 0.796 0.849 0.902"/><feFuncB type="table" tableValues="0.157 0.169 0.180 0.192 0.204 0.237 0.271 0.304 0.337 0.386 0.435 0.484 0.533 0.584 0.635 0.686 0.737"/><feFuncA type="linear" slope="0" intercept="1"/></feComponentTransfer></filter>
<radialGradient id="re00"><stop offset="0.000" stop-color="#fff" stop-opacity="0.030"/><stop offset="0.083" stop-color="#fff" stop-opacity="0.029"/><stop offset="0.167" stop-color="#fff" stop-opacity="0.027"/><stop offset="0.250" stop-color="#fff" stop-opacity="0.024"/><stop offset="0.333" stop-color="#fff" stop-opacity="0.020"/><stop offset="0.417" stop-color="#fff" stop-opacity="0.016"/><stop offset="0.500" stop-color="#fff" stop-opacity="0.013"/><stop offset="0.583" stop-color="#fff" stop-opacity="0.009"/><stop offset="0.667" stop-color="#fff" stop-opacity="0.006"/><stop offset="0.750" stop-color="#fff" stop-opacity="0.004"/><stop offset="0.833" stop-color="#fff" stop-opacity="0.003"/><stop offset="0.917" stop-color="#fff" stop-opacity="0.002"/><stop offset="1.000" stop-color="#fff" stop-opacity="0.000"/></radialGradient>
<radialGradient id="re01"><stop offset="0.000" stop-color="#fff" stop-opacity="0.340"/><stop offset="0.083" stop-color="#fff" stop-opacity="0.340"/><stop offset="0.167" stop-color="#fff" stop-opacity="0.338"/><stop offset="0.250" stop-color="#fff" stop-opacity="0.332"/><stop offset="0.333" stop-color="#fff" stop-opacity="0.318"/><stop offset="0.417" stop-color="#fff" stop-opacity="0.293"/><stop offset="0.500" stop-color="#fff" stop-opacity="0.255"/><stop offset="0.583" stop-color="#fff" stop-opacity="0.206"/><stop offset="0.667" stop-color="#fff" stop-opacity="0.151"/><stop offset="0.750" stop-color="#fff" stop-opacity="0.098"/><stop offset="0.833" stop-color="#fff" stop-opacity="0.055"/><stop offset="0.917" stop-color="#fff" stop-opacity="0.026"/><stop offset="1.000" stop-color="#fff" stop-opacity="0.000"/></radialGradient>
<filter id="fe1" filterUnits="userSpaceOnUse" x="-1" y="-1" width="70.0" height="106.6" color-interpolation-filters="sRGB"><feTurbulence type="fractalNoise" baseFrequency="0.55" numOctaves="2" seed="108" result="t"/><feColorMatrix in="t" type="matrix" values="3.0 0 0 0 -1.0  3.0 0 0 0 -1.0  3.0 0 0 0 -1.0  0 0 0 0 1" result="n0"/><feGaussianBlur in="n0" stdDeviation="0.45" result="n"/><feComposite in="SourceGraphic" in2="n" operator="arithmetic" k1="1.200" k2="1.400" k3="0.030" k4="-0.015"/><feComponentTransfer><feFuncR type="table" tableValues="0.416 0.484 0.553 0.622 0.690 0.735 0.780 0.825 0.871 0.888 0.906 0.924 0.941 0.950 0.959 0.968 0.976"/><feFuncG type="table" tableValues="0.157 0.175 0.192 0.210 0.227 0.278 0.329 0.380 0.431 0.496 0.561 0.625 0.690 0.743 0.796 0.849 0.902"/><feFuncB type="table" tableValues="0.157 0.169 0.180 0.192 0.204 0.237 0.271 0.304 0.337 0.386 0.435 0.484 0.533 0.584 0.635 0.686 0.737"/><feFuncA type="linear" slope="0" intercept="1"/></feComponentTransfer></filter>
<radialGradient id="re10"><stop offset="0.000" stop-color="#fff" stop-opacity="0.028"/><stop offset="0.083" stop-color="#fff" stop-opacity="0.027"/><stop offset="0.167" stop-color="#fff" stop-opacity="0.025"/><stop offset="0.250" stop-color="#fff" stop-opacity="0.022"/><stop offset="0.333" stop-color="#fff" stop-opacity="0.019"/><stop offset="0.417" stop-color="#fff" stop-opacity="0.015"/><stop offset="0.500" stop-color="#fff" stop-opacity="0.011"/><stop offset="0.583" stop-color="#fff" stop-opacity="0.008"/><stop offset="0.667" stop-color="#fff" stop-opacity="0.006"/><stop offset="0.750" stop-color="#fff" stop-opacity="0.004"/><stop offset="0.833" stop-color="#fff" stop-opacity="0.002"/><stop offset="0.917" stop-color="#fff" stop-opacity="0.001"/><stop offset="1.000" stop-color="#fff" stop-opacity="0.000"/></radialGradient>
<radialGradient id="re11"><stop offset="0.000" stop-color="#fff" stop-opacity="0.330"/><stop offset="0.083" stop-color="#fff" stop-opacity="0.330"/><stop offset="0.167" stop-color="#fff" stop-opacity="0.328"/><stop offset="0.250" stop-color="#fff" stop-opacity="0.322"/><stop offset="0.333" stop-color="#fff" stop-opacity="0.309"/><stop offset="0.417" stop-color="#fff" stop-opacity="0.284"/><stop offset="0.500" stop-color="#fff" stop-opacity="0.247"/><stop offset="0.583" stop-color="#fff" stop-opacity="0.200"/><stop offset="0.667" stop-color="#fff" stop-opacity="0.146"/><stop offset="0.750" stop-color="#fff" stop-opacity="0.095"/><stop offset="0.833" stop-color="#fff" stop-opacity="0.054"/><stop offset="0.917" stop-color="#fff" stop-opacity="0.026"/><stop offset="1.000" stop-color="#fff" stop-opacity="0.000"/></radialGradient>
<filter id="fe2" filterUnits="userSpaceOnUse" x="-1" y="-1" width="70.0" height="106.6" color-interpolation-filters="sRGB"><feTurbulence type="fractalNoise" baseFrequency="0.55" numOctaves="2" seed="115" result="t"/><feColorMatrix in="t" type="matrix" values="3.0 0 0 0 -1.0  3.0 0 0 0 -1.0  3.0 0 0 0 -1.0  0 0 0 0 1" result="n0"/><feGaussianBlur in="n0" stdDeviation="0.45" result="n"/><feComposite in="SourceGraphic" in2="n" operator="arithmetic" k1="1.200" k2="1.400" k3="0.030" k4="-0.015"/><feComponentTransfer><feFuncR type="table" tableValues="0.416 0.484 0.553 0.622 0.690 0.735 0.780 0.825 0.871 0.888 0.906 0.924 0.941 0.950 0.959 0.968 0.976"/><feFuncG type="table" tableValues="0.157 0.175 0.192 0.210 0.227 0.278 0.329 0.380 0.431 0.496 0.561 0.625 0.690 0.743 0.796 0.849 0.902"/><feFuncB type="table" tableValues="0.157 0.169 0.180 0.192 0.204 0.237 0.271 0.304 0.337 0.386 0.435 0.484 0.533 0.584 0.635 0.686 0.737"/><feFuncA type="linear" slope="0" intercept="1"/></feComponentTransfer></filter>
<radialGradient id="re20"><stop offset="0.000" stop-color="#fff" stop-opacity="0.025"/><stop offset="0.083" stop-color="#fff" stop-opacity="0.024"/><stop offset="0.167" stop-color="#fff" stop-opacity="0.023"/><stop offset="0.250" stop-color="#fff" stop-opacity="0.020"/><stop offset="0.333" stop-color="#fff" stop-opacity="0.017"/><stop offset="0.417" stop-color="#fff" stop-opacity="0.014"/><stop offset="0.500" stop-color="#fff" stop-opacity="0.010"/><stop offset="0.583" stop-color="#fff" stop-opacity="0.008"/><stop offset="0.667" stop-color="#fff" stop-opacity="0.005"/><stop offset="0.750" stop-color="#fff" stop-opacity="0.003"/><stop offset="0.833" stop-color="#fff" stop-opacity="0.002"/><stop offset="0.917" stop-color="#fff" stop-opacity="0.001"/><stop offset="1.000" stop-color="#fff" stop-opacity="0.000"/></radialGradient>
<radialGradient id="re21"><stop offset="0.000" stop-color="#fff" stop-opacity="0.110"/><stop offset="0.083" stop-color="#fff" stop-opacity="0.107"/><stop offset="0.167" stop-color="#fff" stop-opacity="0.100"/><stop offset="0.250" stop-color="#fff" stop-opacity="0.088"/><stop offset="0.333" stop-color="#fff" stop-opacity="0.075"/><stop offset="0.417" stop-color="#fff" stop-opacity="0.060"/><stop offset="0.500" stop-color="#fff" stop-opacity="0.046"/><stop offset="0.583" stop-color="#fff" stop-opacity="0.033"/><stop offset="0.667" stop-color="#fff" stop-opacity="0.023"/><stop offset="0.750" stop-color="#fff" stop-opacity="0.015"/><stop offset="0.833" stop-color="#fff" stop-opacity="0.010"/><stop offset="0.917" stop-color="#fff" stop-opacity="0.006"/><stop offset="1.000" stop-color="#fff" stop-opacity="0.000"/></radialGradient>
<radialGradient id="re22"><stop offset="0.000" stop-color="#fff" stop-opacity="0.340"/><stop offset="0.083" stop-color="#fff" stop-opacity="0.340"/><stop offset="0.167" stop-color="#fff" stop-opacity="0.338"/><stop offset="0.250" stop-color="#fff" stop-opacity="0.332"/><stop offset="0.333" stop-color="#fff" stop-opacity="0.318"/><stop offset="0.417" stop-color="#fff" stop-opacity="0.293"/><stop offset="0.500" stop-color="#fff" stop-opacity="0.255"/><stop offset="0.583" stop-color="#fff" stop-opacity="0.206"/><stop offset="0.667" stop-color="#fff" stop-opacity="0.151"/><stop offset="0.750" stop-color="#fff" stop-opacity="0.098"/><stop offset="0.833" stop-color="#fff" stop-opacity="0.055"/><stop offset="0.917" stop-color="#fff" stop-opacity="0.026"/><stop offset="1.000" stop-color="#fff" stop-opacity="0.000"/></radialGradient>
<filter id="fe3" filterUnits="userSpaceOnUse" x="-1" y="-1" width="70.0" height="106.6" color-interpolation-filters="sRGB"><feTurbulence type="fractalNoise" baseFrequency="0.55" numOctaves="2" seed="122" result="t"/><feColorMatrix in="t" type="matrix" values="3.0 0 0 0 -1.0  3.0 0 0 0 -1.0  3.0 0 0 0 -1.0  0 0 0 0 1" result="n0"/><feGaussianBlur in="n0" stdDeviation="0.45" result="n"/><feComposite in="SourceGraphic" in2="n" operator="arithmetic" k1="1.200" k2="1.400" k3="0.030" k4="-0.015"/><feComponentTransfer><feFuncR type="table" tableValues="0.416 0.484 0.553 0.622 0.690 0.735 0.780 0.825 0.871 0.888 0.906 0.924 0.941 0.950 0.959 0.968 0.976"/><feFuncG type="table" tableValues="0.157 0.175 0.192 0.210 0.227 0.278 0.329 0.380 0.431 0.496 0.561 0.625 0.690 0.743 0.796 0.849 0.902"/><feFuncB type="table" tableValues="0.157 0.169 0.180 0.192 0.204 0.237 0.271 0.304 0.337 0.386 0.435 0.484 0.533 0.584 0.635 0.686 0.737"/><feFuncA type="linear" slope="0" intercept="1"/></feComponentTransfer></filter>
<radialGradient id="re30"><stop offset="0.000" stop-color="#fff" stop-opacity="0.020"/><stop offset="0.083" stop-color="#fff" stop-opacity="0.020"/><stop offset="0.167" stop-color="#fff" stop-opacity="0.018"/><stop offset="0.250" stop-color="#fff" stop-opacity="0.016"/><stop offset="0.333" stop-color="#fff" stop-opacity="0.014"/><stop offset="0.417" stop-color="#fff" stop-opacity="0.011"/><stop offset="0.500" stop-color="#fff" stop-opacity="0.008"/><stop offset="0.583" stop-color="#fff" stop-opacity="0.006"/><stop offset="0.667" stop-color="#fff" stop-opacity="0.004"/><stop offset="0.750" stop-color="#fff" stop-opacity="0.003"/><stop offset="0.833" stop-color="#fff" stop-opacity="0.002"/><stop offset="0.917" stop-color="#fff" stop-opacity="0.001"/><stop offset="1.000" stop-color="#fff" stop-opacity="0.000"/></radialGradient>
<radialGradient id="re31"><stop offset="0.000" stop-color="#fff" stop-opacity="0.140"/><stop offset="0.083" stop-color="#fff" stop-opacity="0.137"/><stop offset="0.167" stop-color="#fff" stop-opacity="0.127"/><stop offset="0.250" stop-color="#fff" stop-opacity="0.112"/><stop offset="0.333" stop-color="#fff" stop-opacity="0.095"/><stop offset="0.417" stop-color="#fff" stop-opacity="0.076"/><stop offset="0.500" stop-color="#fff" stop-opacity="0.058"/><stop offset="0.583" stop-color="#fff" stop-opacity="0.043"/><stop offset="0.667" stop-color="#fff" stop-opacity="0.030"/><stop offset="0.750" stop-color="#fff" stop-opacity="0.020"/><stop offset="0.833" stop-color="#fff" stop-opacity="0.012"/><stop offset="0.917" stop-color="#fff" stop-opacity="0.007"/><stop offset="1.000" stop-color="#fff" stop-opacity="0.000"/></radialGradient>
<radialGradient id="re32"><stop offset="0.000" stop-color="#fff" stop-opacity="0.310"/><stop offset="0.083" stop-color="#fff" stop-opacity="0.310"/><stop offset="0.167" stop-color="#fff" stop-opacity="0.308"/><stop offset="0.250" stop-color="#fff" stop-opacity="0.303"/><stop offset="0.333" stop-color="#fff" stop-opacity="0.290"/><stop offset="0.417" stop-color="#fff" stop-opacity="0.267"/><stop offset="0.500" stop-color="#fff" stop-opacity="0.232"/><stop offset="0.583" stop-color="#fff" stop-opacity="0.188"/><stop offset="0.667" stop-color="#fff" stop-opacity="0.137"/><stop offset="0.750" stop-color="#fff" stop-opacity="0.089"/><stop offset="0.833" stop-color="#fff" stop-opacity="0.050"/><stop offset="0.917" stop-color="#fff" stop-opacity="0.024"/><stop offset="1.000" stop-color="#fff" stop-opacity="0.000"/></radialGradient>
<radialGradient id="re33"><stop offset="0.000" stop-color="#fff" stop-opacity="0.125"/><stop offset="0.083" stop-color="#fff" stop-opacity="0.122"/><stop offset="0.167" stop-color="#fff" stop-opacity="0.113"/><stop offset="0.250" stop-color="#fff" stop-opacity="0.100"/><stop offset="0.333" stop-color="#fff" stop-opacity="0.085"/><stop offset="0.417" stop-color="#fff" stop-opacity="0.068"/><stop offset="0.500" stop-color="#fff" stop-opacity="0.052"/><stop offset="0.583" stop-color="#fff" stop-opacity="0.038"/><stop offset="0.667" stop-color="#fff" stop-opacity="0.026"/><stop offset="0.750" stop-color="#fff" stop-opacity="0.017"/><stop offset="0.833" stop-color="#fff" stop-opacity="0.011"/><stop offset="0.917" stop-color="#fff" stop-opacity="0.007"/><stop offset="1.000" stop-color="#fff" stop-opacity="0.000"/></radialGradient>
<filter id="fe4" filterUnits="userSpaceOnUse" x="-1" y="-1" width="70.0" height="106.6" color-interpolation-filters="sRGB"><feTurbulence type="fractalNoise" baseFrequency="0.55" numOctaves="2" seed="129" result="t"/><feColorMatrix in="t" type="matrix" values="3.0 0 0 0 -1.0  3.0 0 0 0 -1.0  3.0 0 0 0 -1.0  0 0 0 0 1" result="n0"/><feGaussianBlur in="n0" stdDeviation="0.45" result="n"/><feComposite in="SourceGraphic" in2="n" operator="arithmetic" k1="1.200" k2="1.400" k3="0.030" k4="-0.015"/><feComponentTransfer><feFuncR type="table" tableValues="0.416 0.484 0.553 0.622 0.690 0.735 0.780 0.825 0.871 0.888 0.906 0.924 0.941 0.950 0.959 0.968 0.976"/><feFuncG type="table" tableValues="0.157 0.175 0.192 0.210 0.227 0.278 0.329 0.380 0.431 0.496 0.561 0.625 0.690 0.743 0.796 0.849 0.902"/><feFuncB type="table" tableValues="0.157 0.169 0.180 0.192 0.204 0.237 0.271 0.304 0.337 0.386 0.435 0.484 0.533 0.584 0.635 0.686 0.737"/><feFuncA type="linear" slope="0" intercept="1"/></feComponentTransfer></filter>
<radialGradient id="re40"><stop offset="0.000" stop-color="#fff" stop-opacity="0.060"/><stop offset="0.083" stop-color="#fff" stop-opacity="0.059"/><stop offset="0.167" stop-color="#fff" stop-opacity="0.054"/><stop offset="0.250" stop-color="#fff" stop-opacity="0.048"/><stop offset="0.333" stop-color="#fff" stop-opacity="0.041"/><stop offset="0.417" stop-color="#fff" stop-opacity="0.033"/><stop offset="0.500" stop-color="#fff" stop-opacity="0.025"/><stop offset="0.583" stop-color="#fff" stop-opacity="0.018"/><stop offset="0.667" stop-color="#fff" stop-opacity="0.013"/><stop offset="0.750" stop-color="#fff" stop-opacity="0.008"/><stop offset="0.833" stop-color="#fff" stop-opacity="0.005"/><stop offset="0.917" stop-color="#fff" stop-opacity="0.003"/><stop offset="1.000" stop-color="#fff" stop-opacity="0.000"/></radialGradient>
<radialGradient id="re41"><stop offset="0.000" stop-color="#fff" stop-opacity="0.275"/><stop offset="0.083" stop-color="#fff" stop-opacity="0.273"/><stop offset="0.167" stop-color="#fff" stop-opacity="0.266"/><stop offset="0.250" stop-color="#fff" stop-opacity="0.250"/><stop offset="0.333" stop-color="#fff" stop-opacity="0.225"/><stop offset="0.417" stop-color="#fff" stop-opacity="0.192"/><stop offset="0.500" stop-color="#fff" stop-opacity="0.154"/><stop offset="0.583" stop-color="#fff" stop-opacity="0.116"/><stop offset="0.667" stop-color="#fff" stop-opacity="0.081"/><stop offset="0.750" stop-color="#fff" stop-opacity="0.052"/><stop offset="0.833" stop-color="#fff" stop-opacity="0.031"/><stop offset="0.917" stop-color="#fff" stop-opacity="0.017"/><stop offset="1.000" stop-color="#fff" stop-opacity="0.000"/></radialGradient>
<radialGradient id="re42"><stop offset="0.000" stop-color="#fff" stop-opacity="0.360"/><stop offset="0.083" stop-color="#fff" stop-opacity="0.360"/><stop offset="0.167" stop-color="#fff" stop-opacity="0.359"/><stop offset="0.250" stop-color="#fff" stop-opacity="0.356"/><stop offset="0.333" stop-color="#fff" stop-opacity="0.348"/><stop offset="0.417" stop-color="#fff" stop-opacity="0.329"/><stop offset="0.500" stop-color="#fff" stop-opacity="0.298"/><stop offset="0.583" stop-color="#fff" stop-opacity="0.250"/><stop offset="0.667" stop-color="#fff" stop-opacity="0.190"/><stop offset="0.750" stop-color="#fff" stop-opacity="0.127"/><stop offset="0.833" stop-color="#fff" stop-opacity="0.071"/><stop offset="0.917" stop-color="#fff" stop-opacity="0.032"/><stop offset="1.000" stop-color="#fff" stop-opacity="0.000"/></radialGradient>
<radialGradient id="re43"><stop offset="0.000" stop-color="#fff" stop-opacity="0.250"/><stop offset="0.083" stop-color="#fff" stop-opacity="0.244"/><stop offset="0.167" stop-color="#fff" stop-opacity="0.227"/><stop offset="0.250" stop-color="#fff" stop-opacity="0.201"/><stop offset="0.333" stop-color="#fff" stop-opacity="0.169"/><stop offset="0.417" stop-color="#fff" stop-opacity="0.136"/><stop offset="0.500" stop-color="#fff" stop-opacity="0.104"/><stop offset="0.583" stop-color="#fff" stop-opacity="0.076"/><stop offset="0.667" stop-color="#fff" stop-opacity="0.053"/><stop offset="0.750" stop-color="#fff" stop-opacity="0.035"/><stop offset="0.833" stop-color="#fff" stop-opacity="0.022"/><stop offset="0.917" stop-color="#fff" stop-opacity="0.013"/><stop offset="1.000" stop-color="#fff" stop-opacity="0.000"/></radialGradient>
<linearGradient id="ge"><stop offset="0.00" stop-color="#6e2a2c"/><stop offset="0.25" stop-color="#c8403a"/><stop offset="0.50" stop-color="#e8905a"/><stop offset="0.75" stop-color="#f5d890"/><stop offset="1.00" stop-color="#f8eaa8"/></linearGradient>
<filter id="ff0" filterUnits="userSpaceOnUse" x="-1" y="-1" width="70.0" height="106.6" color-interpolation-filters="sRGB"><feTurbulence type="fractalNoise" baseFrequency="0.6" numOctaves="2" seed="102" result="t"/><feColorMatrix in="t" type="matrix" values="3.0 0 0 0 -1.0  3.0 0 0 0 -1.0  3.0 0 0 0 -1.0  0 0 0 0 1" result="n0"/><feGaussianBlur in="n0" stdDeviation="0.4" result="n"/><feComposite in="SourceGraphic" in2="n" operator="arithmetic" k1="1.600" k2="1.200" k3="0.030" k4="-0.015"/><feComponentTransfer><feFuncR type="table" tableValues="0.286 0.345 0.404 0.463 0.522 0.585 0.649 0.713 0.776 0.818 0.859 0.900 0.941 0.956 0.971 0.985 1.000"/><feFuncG type="table" tableValues="0.192 0.196 0.200 0.204 0.208 0.236 0.265 0.293 0.322 0.398 0.475 0.551 0.627 0.712 0.796 0.880 0.965"/><feFuncB type="table" tableValues="0.361 0.406 0.451 0.496 0.541 0.561 0.580 0.600 0.620 0.645 0.671 0.696 0.722 0.778 0.835 0.892 0.949"/><feFuncA type="linear" slope="0" intercept="1"/></feComponentTransfer></filter>
<radialGradient id="rf00"><stop offset="0.000" stop-color="#fff" stop-opacity="0.025"/><stop offset="0.083" stop-color="#fff" stop-opacity="0.024"/><stop offset="0.167" stop-color="#fff" stop-opacity="0.023"/><stop offset="0.250" stop-color="#fff" stop-opacity="0.020"/><stop offset="0.333" stop-color="#fff" stop-opacity="0.017"/><stop offset="0.417" stop-color="#fff" stop-opacity="0.014"/><stop offset="0.500" stop-color="#fff" stop-opacity="0.010"/><stop offset="0.583" stop-color="#fff" stop-opacity="0.008"/><stop offset="0.667" stop-color="#fff" stop-opacity="0.005"/><stop offset="0.750" stop-color="#fff" stop-opacity="0.003"/><stop offset="0.833" stop-color="#fff" stop-opacity="0.002"/><stop offset="0.917" stop-color="#fff" stop-opacity="0.001"/><stop offset="1.000" stop-color="#fff" stop-opacity="0.000"/></radialGradient>
<radialGradient id="rf01"><stop offset="0.000" stop-color="#fff" stop-opacity="0.250"/><stop offset="0.083" stop-color="#fff" stop-opacity="0.250"/><stop offset="0.167" stop-color="#fff" stop-opacity="0.249"/><stop offset="0.250" stop-color="#fff" stop-opacity="0.247"/><stop offset="0.333" stop-color="#fff" stop-opacity="0.239"/><stop offset="0.417" stop-color="#fff" stop-opacity="0.225"/><stop offset="0.500" stop-color="#fff" stop-opacity="0.201"/><stop offset="0.583" stop-color="#fff" stop-opacity="0.167"/><stop offset="0.667" stop-color="#fff" stop-opacity="0.125"/><stop offset="0.750" stop-color="#fff" stop-opacity="0.083"/><stop offset="0.833" stop-color="#fff" stop-opacity="0.046"/><stop offset="0.917" stop-color="#fff" stop-opacity="0.021"/><stop offset="1.000" stop-color="#fff" stop-opacity="0.000"/></radialGradient>
<radialGradient id="rf02"><stop offset="0.000" stop-color="#fff" stop-opacity="1.000"/><stop offset="0.083" stop-color="#fff" stop-opacity="1.000"/><stop offset="0.167" stop-color="#fff" stop-opacity="1.000"/><stop offset="0.250" stop-color="#fff" stop-opacity="1.000"/><stop offset="0.333" stop-color="#fff" stop-opacity="1.000"/><stop offset="0.417" stop-color="#fff" stop-opacity="1.000"/><stop offset="0.500" stop-color="#fff" stop-opacity="1.000"/><stop offset="0.583" stop-color="#fff" stop-opacity="0.998"/><stop offset="0.667" stop-color="#fff" stop-opacity="0.709"/><stop offset="0.750" stop-color="#fff" stop-opacity="0.457"/><stop offset="0.833" stop-color="#fff" stop-opacity="0.264"/><stop offset="0.917" stop-color="#fff" stop-opacity="0.135"/><stop offset="1.000" stop-color="#fff" stop-opacity="0.000"/></radialGradient>
<radialGradient id="rf03"><stop offset="0.000" stop-color="#fff" stop-opacity="0.750"/><stop offset="0.083" stop-color="#fff" stop-opacity="0.745"/><stop offset="0.167" stop-color="#fff" stop-opacity="0.721"/><stop offset="0.250" stop-color="#fff" stop-opacity="0.672"/><stop offset="0.333" stop-color="#fff" stop-opacity="0.599"/><stop offset="0.417" stop-color="#fff" stop-opacity="0.507"/><stop offset="0.500" stop-color="#fff" stop-opacity="0.404"/><stop offset="0.583" stop-color="#fff" stop-opacity="0.302"/><stop offset="0.667" stop-color="#fff" stop-opacity="0.211"/><stop offset="0.750" stop-color="#fff" stop-opacity="0.136"/><stop offset="0.833" stop-color="#fff" stop-opacity="0.082"/><stop offset="0.917" stop-color="#fff" stop-opacity="0.045"/><stop offset="1.000" stop-color="#fff" stop-opacity="0.000"/></radialGradient>
<filter id="ff1" filterUnits="userSpaceOnUse" x="-1" y="-1" width="70.0" height="106.6" color-interpolation-filters="sRGB"><feTurbulence type="fractalNoise" baseFrequency="0.6" numOctaves="2" seed="109" result="t"/><feColorMatrix in="t" type="matrix" values="3.0 0 0 0 -1.0  3.0 0 0 0 -1.0  3.0 0 0 0 -1.0  0 0 0 0 1" result="n0"/><feGaussianBlur in="n0" stdDeviation="0.4" result="n"/><feComposite in="SourceGraphic" in2="n" operator="arithmetic" k1="1.600" k2="1.200" k3="0.030" k4="-0.015"/><feComponentTransfer><feFuncR type="table" tableValues="0.286 0.345 0.404 0.463 0.522 0.585 0.649 0.713 0.776 0.818 0.859 0.900 0.941 0.956 0.971 0.985 1.000"/><feFuncG type="table" tableValues="0.192 0.196 0.200 0.204 0.208 0.236 0.265 0.293 0.322 0.398 0.475 0.551 0.627 0.712 0.796 0.880 0.965"/><feFuncB type="table" tableValues="0.361 0.406 0.451 0.496 0.541 0.561 0.580 0.600 0.620 0.645 0.671 0.696 0.722 0.778 0.835 0.892 0.949"/><feFuncA type="linear" slope="0" intercept="1"/></feComponentTransfer></filter>
<radialGradient id="rf10"><stop offset="0.000" stop-color="#fff" stop-opacity="0.060"/><stop offset="0.083" stop-color="#fff" stop-opacity="0.059"/><stop offset="0.167" stop-color="#fff" stop-opacity="0.054"/><stop offset="0.250" stop-color="#fff" stop-opacity="0.048"/><stop offset="0.333" stop-color="#fff" stop-opacity="0.041"/><stop offset="0.417" stop-color="#fff" stop-opacity="0.033"/><stop offset="0.500" stop-color="#fff" stop-opacity="0.025"/><stop offset="0.583" stop-color="#fff" stop-opacity="0.018"/><stop offset="0.667" stop-color="#fff" stop-opacity="0.013"/><stop offset="0.750" stop-color="#fff" stop-opacity="0.008"/><stop offset="0.833" stop-color="#fff" stop-opacity="0.005"/><stop offset="0.917" stop-color="#fff" stop-opacity="0.003"/><stop offset="1.000" stop-color="#fff" stop-opacity="0.000"/></radialGradient>
<radialGradient id="rf11"><stop offset="0.000" stop-color="#fff" stop-opacity="0.290"/><stop offset="0.083" stop-color="#fff" stop-opacity="0.289"/><stop offset="0.167" stop-color="#fff" stop-opacity="0.285"/><stop offset="0.250" stop-color="#fff" stop-opacity="0.275"/><stop offset="0.333" stop-color="#fff" stop-opacity="0.255"/><stop offset="0.417" stop-color="#fff" stop-opacity="0.225"/><stop offset="0.500" stop-color="#fff" stop-opacity="0.187"/><stop offset="0.583" stop-color="#fff" stop-opacity="0.145"/><stop offset="0.667" stop-color="#fff" stop-opacity="0.103"/><stop offset="0.750" stop-color="#fff" stop-opacity="0.066"/><stop offset="0.833" stop-color="#fff" stop-opacity="0.038"/><stop offset="0.917" stop-color="#fff" stop-opacity="0.020"/><stop offset="1.000" stop-color="#fff" stop-opacity="0.000"/></radialGradient>
<radialGradient id="rf12"><stop offset="0.000" stop-color="#fff" stop-opacity="0.360"/><stop offset="0.083" stop-color="#fff" stop-opacity="0.359"/><stop offset="0.167" stop-color="#fff" stop-opacity="0.354"/><stop offset="0.250" stop-color="#fff" stop-opacity="0.341"/><stop offset="0.333" stop-color="#fff" stop-opacity="0.316"/><stop offset="0.417" stop-color="#fff" stop-opacity="0.279"/><stop offset="0.500" stop-color="#fff" stop-opacity="0.232"/><stop offset="0.583" stop-color="#fff" stop-opacity="0.180"/><stop offset="0.667" stop-color="#fff" stop-opacity="0.128"/><stop offset="0.750" stop-color="#fff" stop-opacity="0.082"/><stop offset="0.833" stop-color="#fff" stop-opacity="0.047"/><stop offset="0.917" stop-color="#fff" stop-opacity="0.024"/><stop offset="1.000" stop-color="#fff" stop-opacity="0.000"/></radialGradient>
<radialGradient id="rf13"><stop offset="0.000" stop-color="#fff" stop-opacity="0.250"/><stop offset="0.083" stop-color="#fff" stop-opacity="0.244"/><stop offset="0.167" stop-color="#fff" stop-opacity="0.227"/><stop offset="0.250" stop-color="#fff" stop-opacity="0.201"/><stop offset="0.333" stop-color="#fff" stop-opacity="0.169"/><stop offset="0.417" stop-color="#fff" stop-opacity="0.136"/><stop offset="0.500" stop-color="#fff" stop-opacity="0.104"/><stop offset="0.583" stop-color="#fff" stop-opacity="0.076"/><stop offset="0.667" stop-color="#fff" stop-opacity="0.053"/><stop offset="0.750" stop-color="#fff" stop-opacity="0.035"/><stop offset="0.833" stop-color="#fff" stop-opacity="0.022"/><stop offset="0.917" stop-color="#fff" stop-opacity="0.013"/><stop offset="1.000" stop-color="#fff" stop-opacity="0.000"/></radialGradient>
<filter id="ff2" filterUnits="userSpaceOnUse" x="-1" y="-1" width="70.0" height="106.6" color-interpolation-filters="sRGB"><feTurbulence type="fractalNoise" baseFrequency="0.6" numOctaves="2" seed="116" result="t"/><feColorMatrix in="t" type="matrix" values="3.0 0 0 0 -1.0  3.0 0 0 0 -1.0  3.0 0 0 0 -1.0  0 0 0 0 1" result="n0"/><feGaussianBlur in="n0" stdDeviation="0.4" result="n"/><feComposite in="SourceGraphic" in2="n" operator="arithmetic" k1="1.600" k2="1.200" k3="0.030" k4="-0.015"/><feComponentTransfer><feFuncR type="table" tableValues="0.286 0.345 0.404 0.463 0.522 0.585 0.649 0.713 0.776 0.818 0.859 0.900 0.941 0.956 0.971 0.985 1.000"/><feFuncG type="table" tableValues="0.192 0.196 0.200 0.204 0.208 0.236 0.265 0.293 0.322 0.398 0.475 0.551 0.627 0.712 0.796 0.880 0.965"/><feFuncB type="table" tableValues="0.361 0.406 0.451 0.496 0.541 0.561 0.580 0.600 0.620 0.645 0.671 0.696 0.722 0.778 0.835 0.892 0.949"/><feFuncA type="linear" slope="0" intercept="1"/></feComponentTransfer></filter>
<radialGradient id="rf20"><stop offset="0.000" stop-color="#fff" stop-opacity="0.070"/><stop offset="0.083" stop-color="#fff" stop-opacity="0.068"/><stop offset="0.167" stop-color="#fff" stop-opacity="0.064"/><stop offset="0.250" stop-color="#fff" stop-opacity="0.056"/><stop offset="0.333" stop-color="#fff" stop-opacity="0.047"/><stop offset="0.417" stop-color="#fff" stop-opacity="0.038"/><stop offset="0.500" stop-color="#fff" stop-opacity="0.029"/><stop offset="0.583" stop-color="#fff" stop-opacity="0.021"/><stop offset="0.667" stop-color="#fff" stop-opacity="0.015"/><stop offset="0.750" stop-color="#fff" stop-opacity="0.010"/><stop offset="0.833" stop-color="#fff" stop-opacity="0.006"/><stop offset="0.917" stop-color="#fff" stop-opacity="0.004"/><stop offset="1.000" stop-color="#fff" stop-opacity="0.000"/></radialGradient>
<radialGradient id="rf21"><stop offset="0.000" stop-color="#fff" stop-opacity="0.250"/><stop offset="0.083" stop-color="#fff" stop-opacity="0.248"/><stop offset="0.167" stop-color="#fff" stop-opacity="0.240"/><stop offset="0.250" stop-color="#fff" stop-opacity="0.224"/><stop offset="0.333" stop-color="#fff" stop-opacity="0.200"/><stop offset="0.417" stop-color="#fff" stop-opacity="0.169"/><stop offset="0.500" stop-color="#fff" stop-opacity="0.135"/><stop offset="0.583" stop-color="#fff" stop-opacity="0.101"/><stop offset="0.667" stop-color="#fff" stop-opacity="0.070"/><stop offset="0.750" stop-color="#fff" stop-opacity="0.045"/><stop offset="0.833" stop-color="#fff" stop-opacity="0.027"/><stop offset="0.917" stop-color="#fff" stop-opacity="0.015"/><stop offset="1.000" stop-color="#fff" stop-opacity="0.000"/></radialGradient>
<radialGradient id="rf22"><stop offset="0.000" stop-color="#fff" stop-opacity="0.320"/><stop offset="0.083" stop-color="#fff" stop-opacity="0.319"/><stop offset="0.167" stop-color="#fff" stop-opacity="0.315"/><stop offset="0.250" stop-color="#fff" stop-opacity="0.303"/><stop offset="0.333" stop-color="#fff" stop-opacity="0.281"/><stop offset="0.417" stop-color="#fff" stop-opacity="0.248"/><stop offset="0.500" stop-color="#fff" stop-opacity="0.207"/><stop offset="0.583" stop-color="#fff" stop-opacity="0.160"/><stop offset="0.667" stop-color="#fff" stop-opacity="0.113"/><stop offset="0.750" stop-color="#fff" stop-opacity="0.073"/><stop offset="0.833" stop-color="#fff" stop-opacity="0.042"/><stop offset="0.917" stop-color="#fff" stop-opacity="0.022"/><stop offset="1.000" stop-color="#fff" stop-opacity="0.000"/></radialGradient>
<radialGradient id="rf23"><stop offset="0.000" stop-color="#fff" stop-opacity="0.750"/><stop offset="0.083" stop-color="#fff" stop-opacity="0.732"/><stop offset="0.167" stop-color="#fff" stop-opacity="0.681"/><stop offset="0.250" stop-color="#fff" stop-opacity="0.603"/><stop offset="0.333" stop-color="#fff" stop-opacity="0.508"/><stop offset="0.417" stop-color="#fff" stop-opacity="0.408"/><stop offset="0.500" stop-color="#fff" stop-opacity="0.313"/><stop offset="0.583" stop-color="#fff" stop-opacity="0.228"/><stop offset="0.667" stop-color="#fff" stop-opacity="0.158"/><stop offset="0.750" stop-color="#fff" stop-opacity="0.105"/><stop offset="0.833" stop-color="#fff" stop-opacity="0.066"/><stop offset="0.917" stop-color="#fff" stop-opacity="0.040"/><stop offset="1.000" stop-color="#fff" stop-opacity="0.000"/></radialGradient>
<filter id="ff3" filterUnits="userSpaceOnUse" x="-1" y="-1" width="70.0" height="106.6" color-interpolation-filters="sRGB"><feTurbulence type="fractalNoise" baseFrequency="0.6" numOctaves="2" seed="123" result="t"/><feColorMatrix in="t" type="matrix" values="3.0 0 0 0 -1.0  3.0 0 0 0 -1.0  3.0 0 0 0 -1.0  0 0 0 0 1" result="n0"/><feGaussianBlur in="n0" stdDeviation="0.4" result="n"/><feComposite in="SourceGraphic" in2="n" operator="arithmetic" k1="1.600" k2="1.200" k3="0.030" k4="-0.015"/><feComponentTransfer><feFuncR type="table" tableValues="0.286 0.345 0.404 0.463 0.522 0.585 0.649 0.713 0.776 0.818 0.859 0.900 0.941 0.956 0.971 0.985 1.000"/><feFuncG type="table" tableValues="0.192 0.196 0.200 0.204 0.208 0.236 0.265 0.293 0.322 0.398 0.475 0.551 0.627 0.712 0.796 0.880 0.965"/><feFuncB type="table" tableValues="0.361 0.406 0.451 0.496 0.541 0.561 0.580 0.600 0.620 0.645 0.671 0.696 0.722 0.778 0.835 0.892 0.949"/><feFuncA type="linear" slope="0" intercept="1"/></feComponentTransfer></filter>
<radialGradient id="rf30"><stop offset="0.000" stop-color="#fff" stop-opacity="0.080"/><stop offset="0.083" stop-color="#fff" stop-opacity="0.078"/><stop offset="0.167" stop-color="#fff" stop-opacity="0.073"/><stop offset="0.250" stop-color="#fff" stop-opacity="0.064"/><stop offset="0.333" stop-color="#fff" stop-opacity="0.054"/><stop offset="0.417" stop-color="#fff" stop-opacity="0.044"/><stop offset="0.500" stop-color="#fff" stop-opacity="0.033"/><stop offset="0.583" stop-color="#fff" stop-opacity="0.024"/><stop offset="0.667" stop-color="#fff" stop-opacity="0.017"/><stop offset="0.750" stop-color="#fff" stop-opacity="0.011"/><stop offset="0.833" stop-color="#fff" stop-opacity="0.007"/><stop offset="0.917" stop-color="#fff" stop-opacity="0.004"/><stop offset="1.000" stop-color="#fff" stop-opacity="0.000"/></radialGradient>
<radialGradient id="rf31"><stop offset="0.000" stop-color="#fff" stop-opacity="0.225"/><stop offset="0.083" stop-color="#fff" stop-opacity="0.220"/><stop offset="0.167" stop-color="#fff" stop-opacity="0.204"/><stop offset="0.250" stop-color="#fff" stop-opacity="0.181"/><stop offset="0.333" stop-color="#fff" stop-opacity="0.153"/><stop offset="0.417" stop-color="#fff" stop-opacity="0.123"/><stop offset="0.500" stop-color="#fff" stop-opacity="0.094"/><stop offset="0.583" stop-color="#fff" stop-opacity="0.068"/><stop offset="0.667" stop-color="#fff" stop-opacity="0.047"/><stop offset="0.750" stop-color="#fff" stop-opacity="0.031"/><stop offset="0.833" stop-color="#fff" stop-opacity="0.020"/><stop offset="0.917" stop-color="#fff" stop-opacity="0.012"/><stop offset="1.000" stop-color="#fff" stop-opacity="0.000"/></radialGradient>
<radialGradient id="rf32"><stop offset="0.000" stop-color="#fff" stop-opacity="0.340"/><stop offset="0.083" stop-color="#fff" stop-opacity="0.340"/><stop offset="0.167" stop-color="#fff" stop-opacity="0.339"/><stop offset="0.250" stop-color="#fff" stop-opacity="0.336"/><stop offset="0.333" stop-color="#fff" stop-opacity="0.328"/><stop offset="0.417" stop-color="#fff" stop-opacity="0.311"/><stop offset="0.500" stop-color="#fff" stop-opacity="0.281"/><stop offset="0.583" stop-color="#fff" stop-opacity="0.236"/><stop offset="0.667" stop-color="#fff" stop-opacity="0.180"/><stop offset="0.750" stop-color="#fff" stop-opacity="0.120"/><stop offset="0.833" stop-color="#fff" stop-opacity="0.067"/><stop offset="0.917" stop-color="#fff" stop-opacity="0.030"/><stop offset="1.000" stop-color="#fff" stop-opacity="0.000"/></radialGradient>
<filter id="ff4" filterUnits="userSpaceOnUse" x="-1" y="-1" width="70.0" height="106.6" color-interpolation-filters="sRGB"><feTurbulence type="fractalNoise" baseFrequency="0.6" numOctaves="2" seed="130" result="t"/><feColorMatrix in="t" type="matrix" values="3.0 0 0 0 -1.0  3.0 0 0 0 -1.0  3.0 0 0 0 -1.0  0 0 0 0 1" result="n0"/><feGaussianBlur in="n0" stdDeviation="0.4" result="n"/><feComposite in="SourceGraphic" in2="n" operator="arithmetic" k1="1.600" k2="1.200" k3="0.030" k4="-0.015"/><feComponentTransfer><feFuncR type="table" tableValues="0.286 0.345 0.404 0.463 0.522 0.585 0.649 0.713 0.776 0.818 0.859 0.900 0.941 0.956 0.971 0.985 1.000"/><feFuncG type="table" tableValues="0.192 0.196 0.200 0.204 0.208 0.236 0.265 0.293 0.322 0.398 0.475 0.551 0.627 0.712 0.796 0.880 0.965"/><feFuncB type="table" tableValues="0.361 0.406 0.451 0.496 0.541 0.561 0.580 0.600 0.620 0.645 0.671 0.696 0.722 0.778 0.835 0.892 0.949"/><feFuncA type="linear" slope="0" intercept="1"/></feComponentTransfer></filter>
<radialGradient id="rf40"><stop offset="0.000" stop-color="#fff" stop-opacity="0.090"/><stop offset="0.083" stop-color="#fff" stop-opacity="0.088"/><stop offset="0.167" stop-color="#fff" stop-opacity="0.082"/><stop offset="0.250" stop-color="#fff" stop-opacity="0.072"/><stop offset="0.333" stop-color="#fff" stop-opacity="0.061"/><stop offset="0.417" stop-color="#fff" stop-opacity="0.049"/><stop offset="0.500" stop-color="#fff" stop-opacity="0.038"/><stop offset="0.583" stop-color="#fff" stop-opacity="0.027"/><stop offset="0.667" stop-color="#fff" stop-opacity="0.019"/><stop offset="0.750" stop-color="#fff" stop-opacity="0.013"/><stop offset="0.833" stop-color="#fff" stop-opacity="0.008"/><stop offset="0.917" stop-color="#fff" stop-opacity="0.005"/><stop offset="1.000" stop-color="#fff" stop-opacity="0.000"/></radialGradient>
<radialGradient id="rf41"><stop offset="0.000" stop-color="#fff" stop-opacity="0.340"/><stop offset="0.083" stop-color="#fff" stop-opacity="0.340"/><stop offset="0.167" stop-color="#fff" stop-opacity="0.340"/><stop offset="0.250" stop-color="#fff" stop-opacity="0.339"/><stop offset="0.333" stop-color="#fff" stop-opacity="0.335"/><stop offset="0.417" stop-color="#fff" stop-opacity="0.325"/><stop offset="0.500" stop-color="#fff" stop-opacity="0.305"/><stop offset="0.583" stop-color="#fff" stop-opacity="0.268"/><stop offset="0.667" stop-color="#fff" stop-opacity="0.214"/><stop offset="0.750" stop-color="#fff" stop-opacity="0.148"/><stop offset="0.833" stop-color="#fff" stop-opacity="0.083"/><stop offset="0.917" stop-color="#fff" stop-opacity="0.035"/><stop offset="1.000" stop-color="#fff" stop-opacity="0.000"/></radialGradient>
<radialGradient id="rf42"><stop offset="0.000" stop-color="#fff" stop-opacity="0.750"/><stop offset="0.083" stop-color="#fff" stop-opacity="0.732"/><stop offset="0.167" stop-color="#fff" stop-opacity="0.681"/><stop offset="0.250" stop-color="#fff" stop-opacity="0.603"/><stop offset="0.333" stop-color="#fff" stop-opacity="0.508"/><stop offset="0.417" stop-color="#fff" stop-opacity="0.408"/><stop offset="0.500" stop-color="#fff" stop-opacity="0.313"/><stop offset="0.583" stop-color="#fff" stop-opacity="0.228"/><stop offset="0.667" stop-color="#fff" stop-opacity="0.158"/><stop offset="0.750" stop-color="#fff" stop-opacity="0.105"/><stop offset="0.833" stop-color="#fff" stop-opacity="0.066"/><stop offset="0.917" stop-color="#fff" stop-opacity="0.040"/><stop offset="1.000" stop-color="#fff" stop-opacity="0.000"/></radialGradient>
<linearGradient id="gf"><stop offset="0.00" stop-color="#4a2a66"/><stop offset="0.25" stop-color="#963a82"/><stop offset="0.50" stop-color="#d8709a"/><stop offset="0.75" stop-color="#f0b8b8"/><stop offset="1.00" stop-color="#f8e4e0"/></linearGradient>
</defs>
<g transform="matrix(1 0.1529 0 1 91.50 65.40)" clip-path="url(#cr)">
<rect x="-1" y="-1" width="70.0" height="106.6" fill="#473374"/>
<ellipse cx="33.5" cy="53" rx="15" ry="27" fill="url(#acore)"/>
<path d="M36.7 61.6h0M30.3 51.8h0M38.3 57.9h0M28.7 38.7h0M30.6 60.1h0M29.1 60.2h0M41.3 40.2h0M37.9 39.7h0M34.7 57.7h0M37.9 62.0h0M38.6 51.9h0M36.4 47.1h0M28.1 32.5h0M37.2 55.0h0M31.1 33.2h0M38.1 43.2h0M29.2 61.5h0M22.9 55.1h0M32.6 46.9h0M38.2 68.7h0M45.8 51.3h0M35.5 55.4h0M29.6 62.1h0M34.3 47.9h0M42.8 52.3h0M31.5 62.7h0M34.5 67.5h0M27.8 72.7h0M32.5 45.0h0M37.0 40.5h0M33.3 51.4h0M31.1 39.5h0M26.5 64.1h0M28.4 56.4h0M36.2 52.8h0M31.3 43.5h0M23.1 44.9h0M32.6 41.3h0M34.6 76.2h0M26.1 51.4h0M23.0 49.0h0M31.4 40.2h0M36.3 49.1h0M37.2 56.7h0M31.8 57.8h0M24.3 58.4h0M32.5 30.8h0M34.8 59.8h0M33.4 65.3h0M31.6 50.0h0M30.9 56.9h0M32.8 38.5h0M24.7 54.5h0M22.1 50.7h0M39.4 47.2h0M32.5 36.6h0M24.3 36.9h0M28.1 50.1h0M30.5 41.1h0M24.3 53.2h0M35.9 50.4h0M38.3 61.5h0M41.9 55.7h0M27.6 51.4h0M32.3 65.2h0M34.1 72.4h0M36.2 30.2h0M32.8 55.1h0M26.0 43.1h0M37.1 32.2h0M47.5 43.1h0M28.2 37.1h0M36.5 40.7h0M28.5 17.4h0M29.9 60.7h0M23.3 41.3h0M32.4 47.6h0M30.7 69.2h0M25.0 44.5h0M32.9 38.6h0M33.0 45.0h0M32.7 39.1h0M27.3 60.6h0M31.5 68.5h0M33.9 59.5h0M25.0 31.5h0M28.7 47.1h0M32.3 39.0h0M35.2 40.7h0M30.1 37.6h0M27.4 65.4h0M30.4 53.7h0M37.8 56.3h0M35.2 49.2h0M43.1 61.8h0M28.6 46.2h0M44.1 61.4h0M41.6 41.7h0M38.3 54.6h0M34.5 55.3h0M25.1 53.2h0M33.9 55.5h0M31.2 69.4h0M29.8 43.0h0M43.1 60.8h0M32.8 39.3h0M37.7 35.5h0M31.3 35.2h0M36.4 57.8h0M32.6 38.0h0M32.2 52.1h0M33.0 60.2h0M33.2 61.5h0M35.6 70.1h0M38.5 70.9h0M34.3 37.5h0M34.6 53.1h0M32.2 44.5h0M37.4 62.7h0M33.6 45.9h0M37.3 44.2h0M39.4 56.2h0M34.1 59.3h0M27.0 32.8h0M32.1 48.8h0M40.7 65.7h0M30.0 42.5h0M40.2 32.8h0M27.3 56.5h0M38.5 65.1h0M32.3 56.7h0M33.8 49.8h0M30.9 74.3h0M45.4 58.2h0M32.5 56.7h0M30.3 57.7h0M31.6 45.9h0M39.1 43.0h0M32.3 64.8h0M27.0 29.2h0M35.4 38.5h0M32.6 71.5h0M32.1 57.9h0M41.9 48.7h0M39.6 55.7h0M34.5 57.7h0M34.8 45.5h0M40.0 45.8h0M24.2 47.3h0M44.4 31.4h0M35.8 54.1h0M27.6 56.6h0M34.9 46.0h0M30.7 83.8h0M34.0 37.0h0M29.2 56.0h0M36.8 57.2h0M31.7 39.3h0M40.6 49.7h0M36.8 68.0h0M30.9 46.3h0M32.0 50.6h0M32.4 55.8h0M34.2 46.7h0M30.5 36.3h0M38.4 40.4h0M40.8 34.9h0M40.4 48.2h0M29.8 46.3h0M28.5 38.9h0M32.5 41.2h0M34.5 40.2h0M30.6 65.6h0M35.5 67.7h0M27.6 50.1h0M31.0 51.9h0M42.5 61.3h0M30.5 58.5h0M25.0 32.4h0M31.8 39.6h0M38.0 51.3h0M34.3 53.1h0M31.2 47.1h0M48.6 75.5h0M28.7 59.8h0M38.0 54.7h0M30.6 38.4h0M30.2 51.9h0M35.9 56.2h0M35.4 62.3h0M31.0 77.5h0M37.9 58.6h0M32.3 56.4h0M36.3 41.8h0M35.9 60.5h0M37.4 62.1h0M28.4 40.9h0M31.6 57.9h0M38.9 56.0h0M22.6 55.0h0M26.7 47.0h0M25.4 52.1h0M23.4 42.4h0M37.0 36.8h0M43.6 45.5h0M29.6 40.1h0M33.7 57.9h0M23.4 48.8h0M29.6 64.8h0M36.2 64.3h0M30.4 36.0h0M36.2 43.1h0M34.7 54.3h0M40.1 57.4h0M28.6 71.2h0M29.2 41.1h0M26.1 61.9h0M33.4 59.7h0M45.3 54.7h0M34.8 62.6h0M23.1 80.3h0M31.3 52.8h0M33.9 42.2h0M31.1 56.5h0M35.1 48.3h0M28.5 45.8h0M38.6 40.6h0M33.8 42.4h0M21.6 55.0h0M26.3 57.0h0M44.1 35.1h0M30.9 72.4h0M23.6 69.3h0M36.5 66.4h0M35.5 55.6h0M36.7 39.7h0M35.5 44.4h0M37.1 49.8h0M41.6 65.5h0M36.6 63.3h0M37.1 63.8h0M25.7 47.2h0M37.3 68.8h0M34.2 81.8h0M26.5 79.3h0M35.1 60.4h0M56.1 47.8h0M47.2 57.5h0M27.6 51.6h0M38.6 26.7h0M39.1 55.8h0M10.6 68.7h0M41.7 43.5h0M40.8 85.6h0M47.1 63.9h0M15.0 79.8h0M47.1 49.6h0M50.9 48.1h0M34.0 76.3h0M43.6 68.3h0M29.1 25.2h0M34.7 54.8h0M21.1 66.4h0M34.3 25.8h0M36.2 40.2h0M55.9 37.4h0M37.2 31.4h0M50.2 59.4h0M27.4 59.7h0M31.3 19.7h0M33.0 95.1h0M38.3 59.9h0M46.6 55.0h0M39.7 79.6h0M51.5 75.9h0M42.5 77.4h0M13.1 45.3h0M53.2 32.1h0M28.0 66.5h0M30.9 40.5h0M39.5 65.6h0M32.3 86.7h0M43.4 60.6h0M35.1 63.8h0M49.5 45.1h0M47.4 59.9h0M48.5 75.7h0M46.3 54.0h0M32.6 39.8h0M39.3 64.5h0M29.5 45.4h0M33.6 47.2h0M15.6 81.2h0M12.3 68.9h0M42.4 38.5h0M19.5 57.9h0M27.6 44.8h0M56.2 42.4h0M31.7 51.6h0M32.9 76.3h0M36.8 54.3h0M22.9 63.4h0M42.4 59.3h0M38.4 70.6h0M34.2 69.4h0M45.6 16.3h0M39.6 88.1h0M33.7 24.9h0M29.2 45.0h0M63.9 67.3h0M40.0 50.5h0M29.7 47.0h0M21.8 59.1h0M36.4 65.9h0M44.1 49.4h0M21.6 47.1h0M19.4 68.6h0M39.3 69.1h0M35.1 50.8h0M42.7 75.6h0M51.2 85.2h0M20.5 64.6h0M33.1 61.3h0M43.9 55.7h0M33.1 64.8h0M22.9 20.8h0M38.2 56.6h0M22.4 27.0h0M25.7 69.6h0M31.2 42.6h0M22.8 64.1h0M23.5 82.4h0M29.5 79.7h0M37.8 26.7h0M50.3 64.5h0M31.9 60.3h0M32.3 55.1h0M28.1 67.9h0M28.4 53.1h0M9.7 11.0h0M28.2 61.7h0M29.4 68.7h0M29.7 78.5h0M44.2 50.0h0M37.6 71.6h0M50.1 51.7h0M37.4 41.5h0M40.2 94.9h0M27.1 48.3h0M34.1 52.5h0M21.8 68.3h0M29.2 65.4h0M17.2 60.2h0M21.3 76.2h0M39.2 32.9h0M33.5 41.9h0M41.6 22.6h0M31.5 40.3h0M28.6 31.3h0M20.1 18.2h0M54.7 75.7h0M34.0 22.5h0M35.5 58.8h0M36.2 38.8h0M28.3 49.4h0M39.6 52.1h0M48.6 76.5h0M12.2 21.7h0M29.0 28.9h0M50.9 48.7h0M56.4 91.9h0M27.1 78.2h0M33.8 67.5h0M15.1 72.6h0M47.7 82.5h0M27.7 64.2h0M34.7 67.3h0M59.2 85.6h0M43.1 102.9h0M35.3 51.9h0M57.9 90.0h0M48.5 85.5h0M65.6 98.6h0M48.1 54.4h0M29.4 42.5h0M61.5 36.7h0M38.5 29.1h0M47.7 46.5h0M58.5 24.0h0M34.7 3.5h0M38.8 17.0h0M45.7 31.4h0M29.4 80.5h0M25.2 96.3h0M17.8 92.1h0M52.4 36.4h0M25.4 23.8h0M3.6 39.0h0M13.8 53.3h0M65.6 91.3h0M29.6 61.7h0M19.8 98.7h0" stroke="#ffffff" stroke-width="1.7" stroke-linecap="round" fill="none"/>
<path d="M30.5 34.8h0M35.9 50.5h0M28.0 59.0h0M36.5 47.8h0M36.8 28.3h0M31.1 35.6h0M28.0 50.2h0M37.5 30.7h0M32.8 73.3h0M33.7 38.9h0M32.3 44.6h0M27.1 41.1h0M34.4 50.8h0M34.5 54.9h0M38.6 54.7h0M24.5 38.5h0M35.3 58.0h0M53.3 73.5h0M38.5 50.7h0M38.5 51.9h0M39.2 35.7h0M40.5 54.2h0M28.8 49.3h0M37.0 41.7h0M33.9 62.8h0M43.9 62.2h0M40.9 72.7h0M29.1 42.0h0M42.1 68.3h0M36.8 47.4h0M21.8 56.4h0M29.3 62.1h0M37.0 58.9h0M36.4 58.4h0M29.3 72.8h0M35.0 57.9h0M34.9 64.8h0M36.0 41.7h0M39.4 52.6h0M36.2 51.5h0M38.3 48.8h0M32.9 54.6h0M31.7 47.9h0M40.1 65.2h0M34.0 78.8h0M33.8 49.4h0M25.2 72.0h0M32.2 43.1h0M32.6 42.0h0M29.9 46.4h0M34.2 43.4h0M35.6 78.2h0M31.6 53.9h0M22.2 73.7h0M32.5 52.4h0M35.0 44.1h0M39.1 49.3h0M25.3 52.4h0M34.0 56.4h0M39.5 51.0h0M32.1 59.1h0M29.3 53.3h0M32.0 53.6h0M38.0 33.6h0M30.6 64.5h0M27.6 61.6h0M35.1 52.6h0M33.1 41.5h0M30.4 59.2h0M31.3 65.3h0M33.5 34.7h0M28.0 58.2h0M27.7 41.7h0M23.0 48.5h0M36.3 29.2h0M27.1 46.0h0M31.1 60.9h0M32.7 58.4h0M33.5 61.9h0M30.0 53.1h0M30.1 46.6h0M30.4 75.4h0M40.8 50.5h0M28.6 47.3h0M27.9 42.2h0M37.9 51.5h0M31.1 62.4h0M37.3 57.5h0M31.2 30.6h0M38.0 52.2h0M29.6 44.7h0M41.5 37.6h0M24.9 54.3h0M31.7 49.2h0M42.5 65.5h0M25.6 42.0h0M33.9 61.9h0M25.5 32.3h0M36.6 46.0h0M17.4 54.2h0M24.7 56.0h0M26.0 43.2h0M33.7 49.2h0M40.9 55.7h0M33.8 51.0h0M31.6 68.0h0M36.5 52.6h0M38.3 44.9h0M30.8 26.5h0M39.1 61.3h0M30.4 46.6h0M34.0 48.3h0M34.4 44.3h0M39.2 72.5h0M30.7 47.1h0M27.2 55.4h0M35.0 46.6h0M43.0 53.3h0M26.1 57.1h0M33.8 60.5h0M23.2 56.4h0M27.7 48.1h0M36.6 52.9h0M34.3 54.6h0M31.6 59.8h0M33.9 44.6h0M23.6 49.1h0M33.8 67.1h0M35.5 53.4h0M38.9 57.6h0M22.4 49.3h0M34.7 52.0h0M36.3 59.4h0M31.7 51.0h0M30.5 54.0h0M29.7 55.0h0M34.1 79.3h0M35.5 49.6h0M24.9 23.9h0M32.3 57.9h0M28.2 52.5h0M35.2 55.5h0M27.9 46.6h0M32.3 48.5h0M44.2 59.1h0M32.7 47.4h0M33.8 61.5h0M44.4 31.9h0M20.8 43.8h0M28.9 43.2h0M33.4 41.8h0M29.1 35.5h0M35.7 44.5h0M42.6 57.6h0M49.9 43.1h0M35.1 36.0h0M31.1 61.4h0M37.0 46.2h0M40.6 52.9h0M40.6 42.4h0M29.7 56.0h0M33.5 50.7h0M37.6 59.4h0M39.0 47.9h0M36.9 46.6h0M26.5 47.5h0M40.5 44.8h0M30.2 53.7h0M25.9 66.3h0M34.2 55.6h0M33.7 60.8h0M38.7 51.9h0M33.8 60.1h0M37.4 41.4h0M29.2 34.3h0M34.1 62.4h0M29.0 48.5h0M36.1 72.1h0M35.8 69.4h0M28.4 51.2h0M31.3 55.9h0M32.9 46.8h0M38.5 54.3h0M33.7 66.2h0M20.0 63.7h0M34.1 47.3h0M32.2 50.7h0M42.7 37.3h0M39.4 68.7h0M29.1 33.9h0M27.7 49.4h0M34.0 50.9h0M21.4 48.7h0M36.5 63.1h0M41.5 53.3h0M34.9 78.3h0M37.7 39.7h0M36.8 57.1h0M26.1 61.4h0M28.4 36.3h0M27.3 62.1h0M33.4 41.3h0M36.1 62.6h0M34.5 41.6h0M30.3 66.1h0M36.8 56.4h0M36.0 52.0h0M30.4 67.0h0M30.7 63.3h0M25.6 33.9h0M27.3 41.1h0M25.4 52.2h0M33.3 29.7h0M21.4 24.7h0M28.2 35.2h0M36.0 62.6h0M26.4 47.9h0M33.4 42.5h0M50.7 59.5h0M28.8 64.3h0M37.8 40.5h0M26.8 52.9h0M36.6 34.9h0M25.9 71.2h0M30.2 38.3h0M36.7 60.6h0M25.9 39.0h0M31.5 43.9h0M32.7 39.1h0M29.0 48.8h0M35.7 53.7h0M25.7 51.9h0M23.1 50.0h0M29.2 65.7h0M36.5 47.7h0M28.2 55.8h0M29.8 62.4h0M37.3 53.2h0M29.3 49.4h0M22.8 38.0h0M36.7 37.6h0M26.4 40.4h0M24.1 33.8h0M32.5 40.1h0M33.7 59.2h0M21.0 43.1h0M36.3 52.3h0M31.3 51.6h0M31.6 31.8h0M30.5 36.7h0M30.0 51.4h0M20.9 53.1h0M30.7 30.1h0M27.9 62.2h0M13.5 33.4h0M51.7 40.6h0M36.3 39.7h0M35.5 64.6h0M41.5 49.4h0M43.8 60.8h0M32.8 39.3h0M28.9 78.9h0M30.0 57.1h0M45.6 48.9h0M28.1 34.5h0M42.8 90.6h0M54.0 31.5h0M51.6 56.4h0M53.0 51.4h0M38.9 78.2h0M46.0 72.8h0M42.0 50.0h0M32.4 57.4h0M38.1 63.8h0M48.2 78.1h0M41.4 53.7h0M39.5 61.5h0M30.3 70.4h0M32.2 36.2h0M31.1 36.0h0M34.9 55.9h0M20.1 56.7h0M37.9 78.2h0M29.1 25.5h0M28.6 43.4h0M44.5 33.4h0M26.9 60.1h0M23.1 32.7h0M45.9 73.0h0M31.6 42.3h0M50.9 77.3h0M18.6 68.6h0M27.8 49.2h0M23.8 40.2h0M32.8 61.7h0M29.7 77.9h0M10.5 82.1h0M30.7 34.6h0M35.7 43.0h0M31.2 50.4h0M22.5 99.0h0M21.2 49.3h0M44.2 44.6h0M24.7 29.3h0M33.0 58.1h0M37.8 59.8h0M21.9 64.4h0M30.5 67.7h0M39.7 62.8h0M13.9 72.9h0M24.9 82.8h0M17.4 69.1h0M46.8 50.7h0M50.2 50.9h0M33.0 41.0h0M32.4 61.9h0M23.2 62.3h0M20.5 48.8h0M50.0 67.5h0M15.4 54.2h0M18.9 52.4h0M18.3 78.5h0M19.2 65.7h0M13.4 76.0h0M46.1 62.9h0M29.1 55.1h0M43.1 66.2h0M63.0 70.8h0M52.6 33.2h0M55.1 51.1h0M22.7 79.4h0M28.0 64.4h0M23.2 82.3h0M20.8 89.1h0M26.9 73.8h0M43.0 65.5h0M41.3 37.4h0M40.9 72.6h0M38.5 69.9h0M29.3 28.9h0M25.1 64.8h0M14.2 49.2h0M47.3 92.6h0M32.6 57.3h0M17.6 88.2h0M34.6 66.5h0M23.2 71.7h0M42.7 48.5h0M20.7 76.7h0M22.1 39.1h0M38.0 55.4h0M36.4 27.9h0M17.4 35.1h0M41.9 61.2h0M42.6 58.6h0M46.1 68.2h0M2.9 39.7h0M32.7 59.4h0M25.9 64.2h0M33.9 40.9h0M35.5 87.5h0M43.1 44.4h0M42.9 60.7h0M41.1 55.7h0M24.7 52.6h0M57.4 50.9h0M44.1 70.7h0M48.7 43.6h0M26.4 24.7h0M22.0 41.1h0M31.2 49.3h0M59.3 68.5h0M42.8 69.5h0M57.0 79.0h0M35.2 77.1h0M48.1 87.5h0M57.8 91.2h0M47.2 70.9h0M44.6 71.4h0M32.9 85.1h0M33.6 81.6h0M29.5 69.3h0M42.0 61.3h0M30.5 74.6h0M64.7 79.6h0M37.8 97.3h0M50.6 87.6h0M39.5 88.8h0M56.4 77.9h0M40.6 62.4h0M42.9 76.4h0M44.7 88.4h0M53.7 74.0h0M28.6 69.2h0M35.4 58.3h0M41.8 93.5h0M41.5 61.0h0M10.1 2.0h0M55.6 63.3h0M8.3 25.8h0M21.4 40.9h0M5.0 47.5h0M45.5 66.7h0M17.1 87.2h0M20.6 28.7h0M36.5 12.6h0M30.5 66.8h0M58.2 72.5h0M56.4 67.0h0M60.4 57.5h0M12.6 16.6h0M8.3 66.3h0M42.5 81.0h0" stroke="#dcd9ec" stroke-width="1.4" stroke-linecap="round" fill="none"/>
<path d="M38.5 52.4h0M26.2 40.9h0M27.7 37.2h0M48.8 38.7h0M33.8 58.3h0M31.0 47.6h0M34.9 55.8h0M38.9 66.3h0M44.4 59.0h0M31.9 50.6h0M32.4 49.1h0M37.1 64.3h0M26.5 65.8h0M34.0 40.0h0M35.0 54.1h0M30.2 61.8h0M29.2 55.3h0M32.8 53.5h0M40.2 39.7h0M37.9 44.3h0M38.5 52.8h0M33.6 55.7h0M24.4 53.8h0M27.1 52.5h0M41.2 59.7h0M37.2 56.8h0M39.7 55.0h0M31.4 41.0h0M31.7 41.4h0M35.2 62.5h0M33.6 47.1h0M31.2 37.9h0M37.6 45.6h0M31.2 50.6h0M34.1 53.9h0M31.7 76.1h0M33.8 53.1h0M31.3 58.3h0M24.4 64.6h0M38.3 53.3h0M25.6 41.6h0M31.5 40.4h0M25.1 45.7h0M41.1 39.4h0M33.1 44.0h0M35.2 61.3h0M40.8 53.0h0M23.9 50.2h0M27.0 45.3h0M33.4 43.5h0M31.3 36.1h0M23.3 50.3h0M32.5 70.2h0M33.2 57.1h0M32.7 46.6h0M42.6 47.6h0M29.4 30.0h0M36.7 56.7h0M22.7 68.5h0M35.4 63.1h0M34.0 49.0h0M21.9 34.9h0M33.4 34.6h0M30.1 42.9h0M30.3 42.7h0M31.9 60.1h0M39.1 59.4h0M24.7 43.1h0M34.9 49.1h0M37.3 51.6h0M26.7 41.0h0M41.7 58.7h0M40.7 23.9h0M27.2 47.2h0M31.7 54.2h0M33.2 87.3h0M29.3 25.9h0M28.5 57.9h0M25.4 51.4h0M24.6 48.0h0M34.8 65.4h0M34.8 50.3h0M37.5 34.1h0M31.7 53.1h0M37.2 55.6h0M34.7 43.3h0M29.4 38.2h0M26.0 68.6h0M40.2 43.7h0M36.4 44.7h0M24.3 60.2h0M36.6 47.1h0M45.0 35.8h0M25.9 51.4h0M35.5 53.1h0M39.2 55.4h0M27.9 36.8h0M23.9 50.7h0M33.4 56.7h0M24.9 48.6h0M37.2 39.0h0M36.3 37.8h0M33.8 48.6h0M30.6 54.4h0M28.7 56.1h0M42.1 61.1h0M37.5 64.1h0M34.3 73.1h0M26.2 65.4h0M34.9 43.1h0M29.9 38.8h0M39.0 20.4h0M31.1 29.2h0M36.4 48.5h0M33.9 54.1h0M44.9 48.5h0M28.9 52.9h0M28.5 57.9h0M46.3 56.6h0M29.9 51.1h0M28.3 68.6h0M37.2 54.8h0M25.3 33.2h0M45.9 52.1h0M43.1 76.4h0M30.6 40.3h0M33.7 102.7h0M21.9 58.0h0M5.9 42.5h0M23.5 51.3h0M23.4 36.1h0M29.8 17.5h0M29.3 44.9h0M32.7 63.1h0M22.7 15.1h0M47.4 55.6h0M32.8 66.6h0M45.0 53.1h0M27.3 45.3h0M42.0 39.3h0M34.6 63.4h0M45.3 41.6h0M32.5 56.8h0M43.4 49.6h0M36.8 69.8h0M42.5 39.8h0M51.4 25.4h0M35.7 84.9h0M46.3 69.7h0M35.2 51.0h0M30.9 30.0h0M28.3 40.2h0M12.1 70.0h0M37.1 62.5h0M50.0 41.8h0M52.1 72.5h0M53.5 32.3h0M32.6 57.7h0M27.4 80.5h0M36.4 42.6h0M44.3 76.1h0M34.6 77.1h0M48.5 38.5h0M44.8 62.3h0M44.8 55.2h0M33.4 70.2h0M21.5 73.1h0M36.7 83.0h0M27.1 70.0h0M37.0 48.1h0M27.6 65.2h0M53.6 36.6h0M23.5 55.5h0M43.4 72.0h0M57.0 66.2h0M39.7 75.8h0M48.3 88.2h0M39.9 62.9h0M49.9 78.2h0M53.4 95.8h0M50.1 62.3h0M54.4 74.0h0M41.2 86.1h0M65.1 89.4h0M50.3 30.1h0M3.3 16.9h0M48.0 88.9h0M47.2 54.7h0M26.5 51.2h0M42.2 15.5h0M4.4 81.1h0M52.2 41.6h0M27.1 41.2h0M40.5 58.7h0M40.0 24.8h0" stroke="#b0aad0" stroke-width="1.2" stroke-linecap="round" fill="none"/>
</g>
<g transform="matrix(1 0.1529 0 1 171.65 56.25)" clip-path="url(#cr)">
<rect x="-1" y="-1" width="70.0" height="106.6" fill="#473374"/>
<path d="M37.4 49.1h0M35.4 54.3h0M43.3 39.8h0M33.6 48.7h0M51.3 41.2h0M39.8 28.5h0M26.0 22.8h0M57.4 44.7h0M30.9 38.8h0M34.3 60.5h0M34.5 60.4h0M38.7 53.0h0M36.8 55.2h0M21.4 48.5h0M48.8 46.5h0M46.3 47.2h0M33.7 24.3h0M36.4 38.7h0M37.3 72.7h0M48.5 47.5h0M43.4 75.5h0M31.6 51.1h0M37.6 46.6h0M34.3 29.8h0M31.4 65.5h0M42.1 41.2h0M34.7 28.2h0M15.4 25.6h0M26.7 53.2h0M29.4 39.4h0M34.6 50.3h0M25.1 50.9h0M31.1 84.3h0M44.6 54.6h0M25.1 37.1h0M27.2 61.2h0M46.3 63.1h0M35.8 54.5h0M35.6 21.5h0M21.9 67.5h0M40.9 50.8h0M22.3 46.9h0M20.2 43.2h0M35.0 53.9h0M36.1 44.2h0M10.3 53.8h0M40.9 52.4h0M39.2 48.8h0M33.7 48.1h0M17.5 45.8h0M35.0 48.6h0M23.7 36.9h0M35.1 42.2h0M38.9 63.5h0M30.5 63.1h0M25.5 56.7h0M31.2 38.7h0M32.4 54.4h0M36.7 72.9h0M37.4 42.7h0M33.2 47.1h0M31.6 66.5h0M24.7 57.8h0M22.4 67.6h0M35.1 27.4h0M52.2 45.7h0M40.3 51.0h0M26.0 58.6h0M19.2 43.5h0M29.5 53.7h0M21.0 81.2h0M33.2 24.4h0M41.3 32.0h0M26.8 64.4h0M26.4 32.3h0M38.5 44.1h0M19.5 52.2h0M21.7 34.7h0M59.8 98.8h0M42.2 76.4h0M35.0 68.6h0M5.7 11.9h0M42.6 35.3h0M54.9 2.6h0M49.2 3.5h0M14.2 9.1h0M6.7 71.6h0M11.6 31.3h0M51.9 43.9h0" stroke="#ffffff" stroke-width="1.7" stroke-linecap="round" fill="none"/>
<path d="M35.4 59.0h0M18.3 52.1h0M27.2 60.9h0M35.1 73.0h0M36.5 63.3h0M28.3 32.6h0M27.1 57.8h0M47.2 60.0h0M47.3 63.0h0M45.1 15.7h0M11.2 72.5h0M15.6 50.3h0M32.6 22.6h0M52.0 42.8h0M38.8 68.3h0M51.8 66.5h0M53.2 46.7h0M22.7 54.3h0M23.5 44.8h0M38.8 50.8h0M25.8 25.2h0M21.4 56.2h0M41.9 61.7h0M31.6 60.5h0M34.6 63.9h0M60.9 62.5h0M28.6 19.1h0M54.5 52.5h0M36.8 17.9h0M42.6 66.4h0M34.8 50.9h0M43.7 40.3h0M11.1 25.1h0M32.1 59.1h0M29.1 39.5h0M31.8 40.9h0M23.8 59.6h0M15.0 61.1h0M32.8 53.2h0M31.7 49.5h0M23.1 66.9h0M39.3 39.7h0M39.0 45.8h0M31.0 40.3h0M37.5 55.9h0M34.1 34.9h0M35.9 28.7h0M37.2 49.9h0M32.9 61.9h0M11.4 48.0h0M22.6 47.0h0M37.4 55.9h0M30.9 50.5h0M35.2 45.2h0M34.4 51.1h0M52.0 49.1h0M34.4 75.9h0M46.4 73.6h0M22.9 71.9h0M29.1 65.4h0M44.5 45.8h0M35.1 55.9h0M47.2 36.3h0M26.2 39.6h0M47.1 57.6h0M36.8 33.9h0M28.9 50.7h0M36.6 35.9h0M45.3 62.3h0M31.1 51.9h0M31.5 59.7h0M18.5 66.1h0M32.3 38.5h0M37.9 52.6h0M31.0 71.2h0M38.7 53.5h0M22.9 60.8h0M35.0 34.5h0M59.8 53.4h0M36.4 22.4h0M51.9 101.1h0M58.7 79.4h0M35.5 32.6h0M25.7 72.3h0M26.7 72.4h0M53.2 31.1h0M61.6 45.1h0M15.2 51.8h0M35.7 56.8h0" stroke="#dcd9ec" stroke-width="1.4" stroke-linecap="round" fill="none"/>
<path d="M28.8 45.8h0M43.0 43.3h0M39.2 62.0h0M37.1 68.4h0M44.0 50.6h0M33.7 48.3h0M37.8 43.9h0M44.8 56.9h0M28.5 34.1h0M31.8 53.2h0M24.7 52.9h0M46.7 51.4h0M24.4 33.6h0M31.3 51.6h0M51.7 55.8h0M25.1 34.8h0M51.1 31.2h0M37.1 45.8h0M41.4 45.3h0M22.9 55.4h0M42.3 62.6h0M32.1 59.0h0M45.8 31.1h0M33.9 64.1h0M8.7 81.9h0M39.5 75.0h0M36.7 38.2h0M26.7 48.9h0M23.7 37.6h0M26.7 48.1h0M29.7 50.4h0M39.1 22.3h0M39.2 54.5h0M26.2 55.9h0M23.7 24.6h0M48.8 61.8h0M46.4 39.1h0M48.1 93.7h0" stroke="#b0aad0" stroke-width="1.2" stroke-linecap="round" fill="none"/>
</g>
<g transform="matrix(1 0.1529 0 1 251.80 47.10)" clip-path="url(#cr)">
<rect x="-1" y="-1" width="70.0" height="106.6" fill="#473374"/>
<path d="M42.1 63.6h0M17.8 39.6h0M23.3 34.6h0M32.0 32.5h0M28.4 46.6h0M21.8 30.7h0M22.9 53.3h0M30.2 51.4h0M28.6 33.4h0M39.3 43.8h0M31.3 31.6h0M35.8 62.9h0M35.1 62.3h0M22.0 36.1h0M42.5 54.2h0M47.2 64.3h0M25.9 52.7h0M24.8 20.9h0M26.3 42.6h0M36.1 68.3h0M25.2 10.5h0M30.6 38.7h0M35.6 43.1h0M21.0 17.5h0M24.9 22.8h0M58.2 95.0h0M49.9 57.3h0M18.6 49.4h0M24.4 49.2h0M46.5 42.2h0M37.3 24.6h0M33.1 25.3h0M49.7 34.4h0M33.8 64.2h0M25.2 62.2h0M4.1 39.7h0M59.7 42.7h0M32.2 19.5h0M29.7 64.5h0M33.6 50.2h0M41.8 22.0h0M33.5 66.9h0M35.8 84.2h0M17.4 45.7h0M22.5 72.3h0M29.9 66.8h0M50.6 30.9h0M2.1 90.9h0M28.4 59.7h0M52.8 43.4h0M52.3 10.0h0M63.3 83.6h0M19.3 38.7h0M47.1 14.4h0M45.2 85.2h0M34.2 15.8h0M39.3 66.0h0M40.7 83.8h0" stroke="#ffffff" stroke-width="1.7" stroke-linecap="round" fill="none"/>
<path d="M27.4 27.9h0M20.4 44.2h0M17.2 28.9h0M11.7 21.4h0M40.1 27.9h0M44.0 71.4h0M22.1 44.4h0M35.4 29.0h0M24.6 53.5h0M40.0 48.4h0M31.5 82.7h0M24.0 24.7h0M38.4 55.8h0M12.3 51.5h0M18.8 53.1h0M32.7 41.1h0M21.1 42.5h0M40.4 35.8h0M39.6 57.2h0M31.7 58.5h0M30.5 49.7h0M17.5 32.4h0M35.1 46.9h0M38.3 48.2h0M58.4 29.2h0M39.8 50.7h0M32.8 56.5h0M41.8 29.4h0M47.6 22.4h0M62.2 41.6h0M46.6 48.2h0M33.9 62.6h0M57.6 28.8h0M34.0 40.9h0M47.1 31.7h0M54.6 49.1h0M36.9 60.8h0M42.8 40.8h0M31.6 77.7h0M41.8 24.0h0M52.1 48.9h0M37.3 49.7h0M17.5 5.3h0M17.1 32.6h0M17.5 26.4h0" stroke="#dcd9ec" stroke-width="1.4" stroke-linecap="round" fill="none"/>
<path d="M21.6 60.8h0M17.6 35.2h0M49.8 30.0h0M28.0 30.4h0M25.1 35.3h0M24.2 32.8h0M13.3 27.4h0M30.9 88.6h0M35.7 46.0h0M29.7 41.2h0M25.2 44.0h0M23.8 38.4h0M31.2 29.8h0M43.4 36.3h0M28.4 46.9h0M32.5 15.1h0M30.2 51.7h0M55.5 73.5h0M12.1 74.8h0" stroke="#b0aad0" stroke-width="1.2" stroke-linecap="round" fill="none"/>
</g>
<g transform="matrix(1 0.1529 0 1 331.95 37.95)" clip-path="url(#cr)">
<rect x="-1" y="-1" width="70.0" height="106.6" fill="#473374"/>
<path d="M42.0 47.8h0M20.9 19.3h0M33.8 44.6h0M39.8 64.6h0M57.0 60.5h0M34.7 67.1h0M34.3 46.7h0M24.4 70.9h0M44.1 48.4h0M35.0 35.2h0M30.5 61.0h0M44.1 61.3h0M24.4 61.1h0M42.7 51.0h0M13.9 55.4h0M32.8 31.4h0M25.5 44.6h0M8.6 44.5h0M27.1 39.3h0M15.6 54.1h0M15.4 13.1h0M43.3 5.0h0M20.0 21.5h0M28.0 102.7h0M29.2 44.1h0M16.3 53.4h0M29.1 42.0h0" stroke="#ffffff" stroke-width="1.7" stroke-linecap="round" fill="none"/>
<path d="M23.1 36.2h0M22.8 42.2h0M39.3 34.8h0M21.7 51.8h0M23.9 51.0h0M5.4 47.3h0M14.8 53.0h0M38.5 73.3h0M31.8 53.2h0M40.0 59.3h0M36.1 45.4h0M19.5 33.1h0M38.6 32.7h0M25.4 43.6h0M38.5 27.0h0M49.6 55.8h0M20.8 73.5h0M37.7 62.9h0M30.1 22.9h0M31.6 37.6h0M34.9 47.5h0M24.5 83.9h0M13.2 30.0h0M21.1 92.5h0M63.2 35.9h0" stroke="#dcd9ec" stroke-width="1.4" stroke-linecap="round" fill="none"/>
<path d="M32.4 71.7h0M30.1 64.4h0M33.3 72.6h0M45.4 36.0h0M47.7 29.2h0M27.7 38.0h0M16.5 25.7h0M31.4 64.7h0M20.2 51.9h0M21.5 23.2h0M15.4 46.3h0M9.9 30.8h0M26.5 60.4h0M43.1 36.1h0M20.1 28.6h0M33.1 42.5h0M29.9 52.3h0M35.1 25.7h0M22.0 31.1h0M12.4 5.0h0M20.1 91.2h0M5.0 102.9h0" stroke="#b0aad0" stroke-width="1.2" stroke-linecap="round" fill="none"/>
</g>
<g transform="matrix(1 0.1529 0 1 412.10 28.80)" clip-path="url(#cr)">
<rect x="-1" y="-1" width="70.0" height="106.6" fill="#473374"/>
<path d="M49.5 52.9h0M46.0 42.2h0M26.8 62.4h0" stroke="#8f88b8" stroke-width="1.3" stroke-linecap="round" fill="none"/>
<path d="M31.6 23.4h0M66.3 91.5h0" stroke="#7a70aa" stroke-width="1.2" stroke-linecap="round" fill="none"/>
</g>
<g stroke="#111" stroke-width="1.1" fill="none">
<path d="M91.5 51.4 L91.5 170.0 L159.5 180.4 L171.6 184.1"/>
<path d="M159.5 180.4 L493.5 141.8"/>
<path d="M91.5 117.7 h3.5"/>
<path d="M125.5 175.2 v-4"/>
</g>
<path d="M91.5 47.4 l-2.6 7 l2.6 -1.6 l2.6 1.6 z" fill="#111"/>
<path d="M0 0 l-7 -2.7 l1.6 2.7 l-1.6 2.7 z" fill="#111" transform="translate(496.5 141.4) rotate(-6.60)"/>
<path d="M0 0 l-6 -2.3 l1.4 2.3 l-1.4 2.3 z" fill="#111" transform="translate(173.6 184.5) rotate(16.21)"/>
<text x="40.2" y="37.8" font-size="22" font-weight="bold" stroke="#000" stroke-width="0.9" stroke-linejoin="round" fill="#000">a</text>
<text x="60.9" y="76.4" font-size="12.3" textLength="22.6" lengthAdjust="spacingAndGlyphs">200</text>
<text x="75.5" y="122.8" font-size="12.3" textLength="8.0" lengthAdjust="spacingAndGlyphs">0</text>
<text x="54.7" y="167.4" font-size="12.3" textLength="28.8" lengthAdjust="spacingAndGlyphs">-200</text>
<text font-size="14.3" textLength="41" lengthAdjust="spacingAndGlyphs" transform="translate(47.4 114.8) rotate(-90) translate(-20.5 3.6)"><tspan font-style="italic">y</tspan> (&#181;m)</text>
<text x="72.9" y="188.5" font-size="12.3" textLength="28.8" lengthAdjust="spacingAndGlyphs">-200</text>
<text x="118.0" y="193.7" font-size="12.3" textLength="8.0" lengthAdjust="spacingAndGlyphs">0</text>
<text x="143.9" y="198.6" font-size="12.3" textLength="22.6" lengthAdjust="spacingAndGlyphs">200</text>
<text x="86.8" y="213.0" font-size="14.3" textLength="42" lengthAdjust="spacingAndGlyphs"><tspan font-style="italic">x</tspan> (&#181;m)</text>
<text x="173.8" y="199.9" class="ser" font-size="15.8">&#916;<tspan font-style="italic" font-size="15.4" dx="0">&#964;</tspan><tspan class="sans" font-size="10" dy="4.5" dx="-0.6">1</tspan></text>
<text x="245.4" y="188.1" class="ser" font-size="15.8">&#916;<tspan font-style="italic" font-size="15.4" dx="0">&#964;</tspan><tspan class="sans" font-size="10" dy="4.5" dx="-0.6">2</tspan></text>
<text x="321.3" y="182.8" class="ser" font-size="15.8">&#916;<tspan font-style="italic" font-size="15.4" dx="0">&#964;</tspan><tspan class="sans" font-size="10" dy="4.5" dx="-0.6">3</tspan></text>
<text x="397.5" y="170.3" class="ser" font-size="15.8">&#916;<tspan font-style="italic" font-size="15.4" dx="0">&#964;</tspan><tspan class="sans" font-size="10" dy="4.5" dx="-0.6">4</tspan></text>
<text x="474.4" y="163.5" class="ser" font-size="15.8">&#916;<tspan font-style="italic" font-size="15.4" dx="0">&#964;</tspan><tspan class="sans" font-size="10" dy="4.5" dx="-0.6">5</tspan></text>
<text x="266.0" y="209.0" font-size="13.6" textLength="102.8" lengthAdjust="spacingAndGlyphs">Time delay (ns)</text>
<rect x="425.5" y="198.3" width="60.8" height="11.6" fill="url(#ga)" stroke="#111" stroke-width="1"/>
<text x="419.2" y="191.1" font-size="12.3" textLength="80.2" lengthAdjust="spacingAndGlyphs">Intensity (a.u.)</text>
<text x="421.7" y="223.5" font-size="12.3" textLength="8.0" lengthAdjust="spacingAndGlyphs">0</text>
<text x="483.6" y="223.5" font-size="12.3" textLength="4.6" lengthAdjust="spacingAndGlyphs">1</text>
<g transform="matrix(1 0.1529 0 1 569.90 65.20)" clip-path="url(#cr)">
<g filter="url(#fb0)">
<rect x="-1" y="-1" width="70.0" height="106.6" fill="#000000"/>
<ellipse cx="34.0" cy="62.0" rx="46.0" ry="54.0" fill="url(#rb00)"/>
<ellipse cx="31.0" cy="54.0" rx="31.0" ry="36.0" fill="url(#rb01)"/>
<ellipse cx="30.0" cy="53.5" rx="13.5" ry="16.5" fill="url(#rb02)" transform="rotate(-25.0 30.0 53.5)"/>
<ellipse cx="42.0" cy="62.0" rx="3.0" ry="3.0" fill="url(#rb03)"/>
</g>
</g>
<g transform="matrix(1 0.1529 0 1 650.40 56.00)" clip-path="url(#cr)">
<g filter="url(#fb1)">
<rect x="-1" y="-1" width="70.0" height="106.6" fill="#000000"/>
<ellipse cx="33.0" cy="52.0" rx="38.0" ry="46.0" fill="url(#rb10)"/>
<ellipse cx="33.2" cy="52.4" rx="25.0" ry="30.0" fill="url(#rb11)"/>
<ellipse cx="33.2" cy="52.4" rx="13.5" ry="17.0" fill="url(#rb12)"/>
</g>
</g>
<g transform="matrix(1 0.1529 0 1 730.90 46.80)" clip-path="url(#cr)">
<g filter="url(#fb2)">
<rect x="-1" y="-1" width="70.0" height="106.6" fill="#000000"/>
<ellipse cx="34.0" cy="50.5" rx="44.0" ry="54.0" fill="url(#rb20)"/>
<ellipse cx="34.0" cy="50.5" rx="33.0" ry="40.0" fill="url(#rb21)"/>
</g>
</g>
<g transform="matrix(1 0.1529 0 1 811.40 37.60)" clip-path="url(#cr)">
<g filter="url(#fb3)">
<rect x="-1" y="-1" width="70.0" height="106.6" fill="#000000"/>
<ellipse cx="35.0" cy="51.5" rx="44.0" ry="54.0" fill="url(#rb30)"/>
<ellipse cx="35.0" cy="51.5" rx="33.0" ry="41.0" fill="url(#rb31)"/>
</g>
</g>
<g transform="matrix(1 0.1529 0 1 891.90 28.40)" clip-path="url(#cr)">
<g filter="url(#fb4)">
<rect x="-1" y="-1" width="70.0" height="106.6" fill="#000000"/>
<ellipse cx="35.7" cy="53.0" rx="44.0" ry="54.0" fill="url(#rb40)"/>
<ellipse cx="35.7" cy="53.0" rx="31.0" ry="42.0" fill="url(#rb41)"/>
<ellipse cx="35.5" cy="57.0" rx="3.5" ry="6.0" fill="url(#rb42)"/>
</g>
</g>
<g stroke="#111" stroke-width="1.1" fill="none">
<path d="M569.9 51.2 L569.9 169.8 L637.9 180.2 L649.5 183.6"/>
<path d="M637.9 180.2 L971.9 141.6"/>
<path d="M569.9 91.3 h3.5"/>
<path d="M569.9 117.5 h3.5"/>
<path d="M569.9 143.6 h3.5"/>
<path d="M603.9 175.0 v-4"/>
</g>
<path d="M569.9 47.2 l-2.6 7 l2.6 -1.6 l2.6 1.6 z" fill="#111"/>
<path d="M0 0 l-7 -2.7 l1.6 2.7 l-1.6 2.7 z" fill="#111" transform="translate(974.9 141.2) rotate(-6.60)"/>
<path d="M0 0 l-6 -2.3 l1.4 2.3 l-1.4 2.3 z" fill="#111" transform="translate(651.5 184.0) rotate(15.61)"/>
<text x="515.8" y="37.7" font-size="22" font-weight="bold" stroke="#000" stroke-width="0.9" stroke-linejoin="round" fill="#000">b</text>
<text x="539.3" y="77.0" font-size="12.3" textLength="22.6" lengthAdjust="spacingAndGlyphs">200</text>
<text x="553.9" y="123.1" font-size="12.3" textLength="8.0" lengthAdjust="spacingAndGlyphs">0</text>
<text x="533.1" y="167.0" font-size="12.3" textLength="28.8" lengthAdjust="spacingAndGlyphs">-200</text>
<text font-size="14.3" textLength="41" lengthAdjust="spacingAndGlyphs" transform="translate(529.4 116.9) rotate(-90) translate(-20.5 3.6)"><tspan font-style="italic">y</tspan> (&#181;m)</text>
<text x="552.3" y="187.1" font-size="12.3" textLength="28.8" lengthAdjust="spacingAndGlyphs">-200</text>
<text x="596.2" y="192.1" font-size="12.3" textLength="8.0" lengthAdjust="spacingAndGlyphs">0</text>
<text x="620.7" y="198.3" font-size="12.3" textLength="22.6" lengthAdjust="spacingAndGlyphs">200</text>
<text x="566.8" y="208.6" font-size="14.3" textLength="42" lengthAdjust="spacingAndGlyphs"><tspan font-style="italic">x</tspan> (&#181;m)</text>
<text x="648.3" y="199.9" class="ser" font-size="15.8">&#916;<tspan font-style="italic" font-size="15.4" dx="0">&#964;</tspan><tspan class="sans" font-size="10" dy="4.5" dx="-0.6">1</tspan></text>
<text x="720.0" y="187.5" class="ser" font-size="15.8">&#916;<tspan font-style="italic" font-size="15.4" dx="0">&#964;</tspan><tspan class="sans" font-size="10" dy="4.5" dx="-0.6">2</tspan></text>
<text x="794.5" y="179.6" class="ser" font-size="15.8">&#916;<tspan font-style="italic" font-size="15.4" dx="0">&#964;</tspan><tspan class="sans" font-size="10" dy="4.5" dx="-0.6">3</tspan></text>
<text x="873.8" y="168.3" class="ser" font-size="15.8">&#916;<tspan font-style="italic" font-size="15.4" dx="0">&#964;</tspan><tspan class="sans" font-size="10" dy="4.5" dx="-0.6">4</tspan></text>
<text x="946.6" y="160.8" class="ser" font-size="15.8">&#916;<tspan font-style="italic" font-size="15.4" dx="0">&#964;</tspan><tspan class="sans" font-size="10" dy="4.5" dx="-0.6">5</tspan></text>
<text x="741.6" y="212.8" font-size="13.6" textLength="102.8" lengthAdjust="spacingAndGlyphs">Time delay (ns)</text>
<rect x="902.8" y="199.7" width="60.8" height="11.6" fill="url(#gb)" stroke="#111" stroke-width="1"/>
<text x="890.0" y="193.0" font-size="12.3" textLength="80.2" lengthAdjust="spacingAndGlyphs">Intensity (a.u.)</text>
<text x="901.5" y="223.3" font-size="12.3" textLength="8.0" lengthAdjust="spacingAndGlyphs">0</text>
<text x="961.1" y="221.9" font-size="12.3" textLength="4.6" lengthAdjust="spacingAndGlyphs">1</text>
<g transform="matrix(1 0.1529 0 1 90.90 290.20)" clip-path="url(#cr)">
<g filter="url(#fc0)">
<rect x="-1" y="-1" width="70.0" height="106.6" fill="#010101"/>
<ellipse cx="40.0" cy="72.0" rx="38.0" ry="46.0" fill="url(#rc00)"/>
<ellipse cx="34.0" cy="51.0" rx="25.0" ry="31.0" fill="url(#rc01)"/>
<ellipse cx="33.9" cy="50.4" rx="11.0" ry="18.0" fill="url(#rc02)" transform="rotate(-12.0 33.9 50.4)"/>
<path d="M28.7 73.6h0M20.8 97.4h0M54.6 100.4h0M38.3 65.5h0M48.6 74.8h0M29.5 92.5h0M46.0 55.5h0M24.2 58.5h0M22.4 64.5h0M25.1 59.0h0M44.0 66.4h0M20.4 102.3h0M50.0 65.4h0M31.6 95.9h0M36.9 80.5h0M41.9 83.6h0M50.4 68.2h0M25.1 82.9h0M45.3 61.0h0M47.5 78.6h0M21.0 84.9h0M24.5 89.3h0M51.9 84.9h0M48.1 95.7h0M34.0 91.9h0M48.1 89.4h0M31.2 86.0h0M24.3 58.1h0M45.4 61.4h0M59.3 99.9h0M44.8 102.6h0M66.5 90.9h0M20.8 72.9h0M59.1 67.8h0M30.2 102.7h0M25.2 100.2h0M53.7 68.2h0M56.1 81.7h0M24.1 95.4h0M50.6 86.1h0M52.9 70.0h0M66.9 100.2h0M25.8 84.4h0M45.3 75.0h0M37.5 69.4h0M33.7 84.3h0M55.7 62.3h0M45.4 91.8h0M54.8 66.2h0M51.6 96.6h0M36.6 61.2h0M38.5 92.4h0M25.0 102.2h0M56.5 72.2h0M55.5 63.2h0M46.2 79.9h0M31.6 100.8h0M26.8 84.8h0M20.5 56.2h0M50.6 78.1h0M34.8 92.9h0M37.1 102.8h0M56.5 93.5h0M47.9 74.7h0M37.1 55.2h0M43.5 81.6h0M60.4 87.0h0M51.4 66.0h0M40.9 95.0h0M20.7 80.6h0" stroke="#fff" stroke-opacity="0.110" stroke-width="1.2" stroke-linecap="round" fill="none"/>
<path d="M53.5 55.7h0M12.3 38.9h0M42.8 44.2h0M47.6 78.8h0M20.1 19.5h0M60.9 95.8h0M4.2 36.9h0M12.7 15.0h0M46.0 27.7h0M28.3 60.9h0M55.4 54.1h0M34.4 41.6h0M65.8 102.6h0M45.1 94.5h0M38.8 12.3h0M48.0 95.3h0M8.3 46.3h0M16.7 46.8h0M22.1 30.2h0M24.6 89.6h0M24.1 51.3h0M40.9 74.9h0M17.4 66.4h0M65.2 77.5h0M62.0 98.2h0M61.3 67.5h0M17.9 68.2h0M62.1 37.6h0M57.2 28.0h0M41.9 41.7h0M37.5 29.6h0M2.9 23.9h0M61.4 67.8h0M50.8 37.7h0M57.7 21.7h0M59.2 43.5h0M62.2 84.0h0M7.6 32.3h0M39.3 67.6h0M20.7 66.2h0" stroke="#fff" stroke-opacity="0.075" stroke-width="1.2" stroke-linecap="round" fill="none"/>
</g>
</g>
<g transform="matrix(1 0.1529 0 1 171.15 280.90)" clip-path="url(#cr)">
<g filter="url(#fc1)">
<rect x="-1" y="-1" width="70.0" height="106.6" fill="#010101"/>
<ellipse cx="10.0" cy="50.0" rx="14.0" ry="3.5" fill="url(#rc10)"/>
<ellipse cx="33.4" cy="50.0" rx="22.0" ry="33.0" fill="url(#rc11)"/>
<ellipse cx="33.4" cy="52.3" rx="10.5" ry="16.5" fill="url(#rc12)" transform="rotate(-10.0 33.4 52.3)"/>
<ellipse cx="38.0" cy="71.5" rx="1.5" ry="1.8" fill="url(#rc13)"/>
<path d="M41.7 85.7h0M61.0 18.8h0M27.2 88.0h0M10.3 43.2h0M23.0 102.9h0M20.0 83.1h0M58.7 89.9h0M17.9 37.0h0M16.0 63.7h0M15.8 51.7h0M47.6 42.3h0M13.4 32.7h0M58.6 25.1h0M5.3 101.7h0M10.8 19.4h0M66.3 21.0h0M10.9 93.3h0M22.4 87.6h0M18.2 15.3h0M24.9 27.8h0M12.3 93.9h0M52.4 66.5h0M28.4 49.7h0M37.5 64.2h0M8.7 36.7h0M58.5 35.4h0M10.4 20.6h0M49.6 40.1h0M45.0 23.1h0M11.2 29.6h0M65.1 27.4h0M4.5 97.7h0M46.7 24.4h0M35.6 52.8h0M17.9 17.6h0M29.4 90.2h0M65.1 17.5h0M26.3 57.0h0M49.1 45.6h0M26.6 77.9h0" stroke="#fff" stroke-opacity="0.075" stroke-width="1.2" stroke-linecap="round" fill="none"/>
</g>
</g>
<g transform="matrix(1 0.1529 0 1 251.40 271.60)" clip-path="url(#cr)">
<g filter="url(#fc2)">
<rect x="-1" y="-1" width="70.0" height="106.6" fill="#010101"/>
<ellipse cx="12.0" cy="51.0" rx="16.0" ry="4.5" fill="url(#rc20)"/>
<ellipse cx="34.0" cy="50.0" rx="24.0" ry="35.0" fill="url(#rc21)"/>
<ellipse cx="34.1" cy="52.0" rx="6.5" ry="12.0" fill="url(#rc22)"/>
</g>
</g>
<g transform="matrix(1 0.1529 0 1 331.65 262.30)" clip-path="url(#cr)">
<g filter="url(#fc3)">
<rect x="-1" y="-1" width="70.0" height="106.6" fill="#010101"/>
<ellipse cx="35.2" cy="50.3" rx="28.0" ry="38.0" fill="url(#rc30)"/>
<ellipse cx="35.5" cy="54.0" rx="7.0" ry="12.0" fill="url(#rc31)"/>
</g>
</g>
<g transform="matrix(1 0.1529 0 1 411.90 253.00)" clip-path="url(#cr)">
<g filter="url(#fc4)">
<rect x="-1" y="-1" width="70.0" height="106.6" fill="#010101"/>
<ellipse cx="35.8" cy="52.0" rx="30.0" ry="41.0" fill="url(#rc40)"/>
<ellipse cx="36.0" cy="54.0" rx="4.5" ry="10.0" fill="url(#rc41)"/>
</g>
</g>
<g stroke="#111" stroke-width="1.1" fill="none">
<path d="M90.9 276.2 L90.9 394.8 L158.9 405.2 L170.0 408.5"/>
<path d="M158.9 405.2 L492.9 366.5"/>
<path d="M90.9 342.5 h3.5"/>
<path d="M124.9 400.0 v-4"/>
</g>
<path d="M90.9 272.2 l-2.6 7 l2.6 -1.6 l2.6 1.6 z" fill="#111"/>
<path d="M0 0 l-7 -2.7 l1.6 2.7 l-1.6 2.7 z" fill="#111" transform="translate(495.9 366.2) rotate(-6.60)"/>
<path d="M0 0 l-6 -2.3 l1.4 2.3 l-1.4 2.3 z" fill="#111" transform="translate(172.0 408.9) rotate(15.77)"/>
<text x="40.3" y="266.0" font-size="22" font-weight="bold" stroke="#000" stroke-width="0.9" stroke-linejoin="round" fill="#000">c</text>
<text x="61.2" y="296.2" font-size="12.3" textLength="22.6" lengthAdjust="spacingAndGlyphs">200</text>
<text x="75.8" y="347.5" font-size="12.3" textLength="8.0" lengthAdjust="spacingAndGlyphs">0</text>
<text x="55.0" y="397.4" font-size="12.3" textLength="28.8" lengthAdjust="spacingAndGlyphs">-200</text>
<text font-size="14.3" textLength="41" lengthAdjust="spacingAndGlyphs" transform="translate(49.3 340.3) rotate(-90) translate(-20.5 3.6)"><tspan font-style="italic">y</tspan> (&#181;m)</text>
<text x="72.6" y="412.3" font-size="12.3" textLength="28.8" lengthAdjust="spacingAndGlyphs">-200</text>
<text x="117.7" y="415.5" font-size="12.3" textLength="8.0" lengthAdjust="spacingAndGlyphs">0</text>
<text x="141.8" y="422.2" font-size="12.3" textLength="22.6" lengthAdjust="spacingAndGlyphs">200</text>
<text x="89.5" y="436.3" font-size="14.3" textLength="42" lengthAdjust="spacingAndGlyphs"><tspan font-style="italic">x</tspan> (&#181;m)</text>
<text x="173.6" y="425.3" class="ser" font-size="15.8">&#916;<tspan font-style="italic" font-size="15.4" dx="0">&#964;</tspan><tspan class="sans" font-size="10" dy="4.5" dx="-0.6">1</tspan></text>
<text x="242.7" y="412.5" class="ser" font-size="15.8">&#916;<tspan font-style="italic" font-size="15.4" dx="0">&#964;</tspan><tspan class="sans" font-size="10" dy="4.5" dx="-0.6">2</tspan></text>
<text x="317.9" y="405.6" class="ser" font-size="15.8">&#916;<tspan font-style="italic" font-size="15.4" dx="0">&#964;</tspan><tspan class="sans" font-size="10" dy="4.5" dx="-0.6">3</tspan></text>
<text x="393.4" y="392.6" class="ser" font-size="15.8">&#916;<tspan font-style="italic" font-size="15.4" dx="0">&#964;</tspan><tspan class="sans" font-size="10" dy="4.5" dx="-0.6">4</tspan></text>
<text x="470.3" y="385.8" class="ser" font-size="15.8">&#916;<tspan font-style="italic" font-size="15.4" dx="0">&#964;</tspan><tspan class="sans" font-size="10" dy="4.5" dx="-0.6">5</tspan></text>
<text x="270.5" y="439.7" font-size="13.6" textLength="102.8" lengthAdjust="spacingAndGlyphs">Time delay (ns)</text>
<rect x="436.1" y="420.8" width="60.8" height="11.6" fill="url(#gc)" stroke="#111" stroke-width="1"/>
<text x="425.8" y="413.9" font-size="12.3" textLength="80.2" lengthAdjust="spacingAndGlyphs">Intensity (a.u.)</text>
<text x="431.6" y="447.6" font-size="12.3" textLength="8.0" lengthAdjust="spacingAndGlyphs">0</text>
<text x="493.0" y="447.6" font-size="12.3" textLength="4.6" lengthAdjust="spacingAndGlyphs">1</text>
<g transform="matrix(1 0.1529 0 1 569.90 291.50)" clip-path="url(#cr)">
<g filter="url(#fd0)">
<rect x="-1" y="-1" width="70.0" height="106.6" fill="#040404"/>
<ellipse cx="34.0" cy="54.0" rx="27.0" ry="33.0" fill="url(#rd00)"/>
<ellipse cx="33.7" cy="52.9" rx="11.5" ry="15.5" fill="url(#rd01)" transform="rotate(-10.0 33.7 52.9)"/>
<ellipse cx="6.5" cy="51.5" rx="1.6" ry="2.2" fill="url(#rd02)"/>
</g>
</g>
<g transform="matrix(1 0.1529 0 1 650.40 282.25)" clip-path="url(#cr)">
<g filter="url(#fd1)">
<rect x="-1" y="-1" width="70.0" height="106.6" fill="#040404"/>
<ellipse cx="33.2" cy="50.5" rx="25.0" ry="32.0" fill="url(#rd10)"/>
<ellipse cx="33.2" cy="50.0" rx="13.5" ry="20.0" fill="url(#rd11)" transform="rotate(-10.0 33.2 50.0)"/>
</g>
</g>
<g transform="matrix(1 0.1529 0 1 730.90 273.00)" clip-path="url(#cr)">
<g filter="url(#fd2)">
<rect x="-1" y="-1" width="70.0" height="106.6" fill="#040404"/>
<ellipse cx="34.4" cy="50.0" rx="27.0" ry="36.0" fill="url(#rd20)"/>
<ellipse cx="34.4" cy="52.0" rx="12.5" ry="20.0" fill="url(#rd21)"/>
</g>
</g>
<g transform="matrix(1 0.1529 0 1 811.40 263.75)" clip-path="url(#cr)">
<g filter="url(#fd3)">
<rect x="-1" y="-1" width="70.0" height="106.6" fill="#040404"/>
<ellipse cx="35.1" cy="46.5" rx="28.5" ry="39.5" fill="url(#rd30)"/>
<ellipse cx="37.4" cy="52.5" rx="10.0" ry="18.0" fill="url(#rd31)"/>
<ellipse cx="12.0" cy="28.0" rx="1.6" ry="2.0" fill="url(#rd32)"/>
</g>
</g>
<g transform="matrix(1 0.1529 0 1 891.90 254.50)" clip-path="url(#cr)">
<g filter="url(#fd4)">
<rect x="-1" y="-1" width="70.0" height="106.6" fill="#040404"/>
<ellipse cx="36.8" cy="49.8" rx="30.0" ry="39.0" fill="url(#rd40)"/>
<ellipse cx="37.5" cy="56.0" rx="5.0" ry="11.0" fill="url(#rd41)"/>
</g>
</g>
<g stroke="#111" stroke-width="1.1" fill="none">
<path d="M569.9 277.5 L569.9 396.1 L637.9 406.5 L650.0 409.0"/>
<path d="M637.9 406.5 L971.9 367.9"/>
<path d="M569.9 343.8 h3.5"/>
<path d="M603.9 401.3 v-4"/>
</g>
<path d="M569.9 273.5 l-2.6 7 l2.6 -1.6 l2.6 1.6 z" fill="#111"/>
<path d="M0 0 l-7 -2.7 l1.6 2.7 l-1.6 2.7 z" fill="#111" transform="translate(974.9 367.5) rotate(-6.60)"/>
<path d="M0 0 l-6 -2.3 l1.4 2.3 l-1.4 2.3 z" fill="#111" transform="translate(652.0 409.4) rotate(11.62)"/>
<text x="515.3" y="265.7" font-size="22" font-weight="bold" stroke="#000" stroke-width="0.9" stroke-linejoin="round" fill="#000">d</text>
<text x="539.9" y="299.6" font-size="12.3" textLength="22.6" lengthAdjust="spacingAndGlyphs">200</text>
<text x="554.5" y="346.7" font-size="12.3" textLength="8.0" lengthAdjust="spacingAndGlyphs">0</text>
<text x="533.7" y="398.2" font-size="12.3" textLength="28.8" lengthAdjust="spacingAndGlyphs">-200</text>
<text font-size="14.3" textLength="41" lengthAdjust="spacingAndGlyphs" transform="translate(526.0 337.9) rotate(-90) translate(-20.5 3.6)"><tspan font-style="italic">y</tspan> (&#181;m)</text>
<text x="552.4" y="412.9" font-size="12.3" textLength="28.8" lengthAdjust="spacingAndGlyphs">-200</text>
<text x="598.3" y="417.4" font-size="12.3" textLength="8.0" lengthAdjust="spacingAndGlyphs">0</text>
<text x="623.0" y="423.5" font-size="12.3" textLength="22.6" lengthAdjust="spacingAndGlyphs">200</text>
<text x="570.3" y="441.4" font-size="14.3" textLength="42" lengthAdjust="spacingAndGlyphs"><tspan font-style="italic">x</tspan> (&#181;m)</text>
<text x="654.4" y="426.8" class="ser" font-size="15.8">&#916;<tspan font-style="italic" font-size="15.4" dx="0">&#964;</tspan><tspan class="sans" font-size="10" dy="4.5" dx="-0.6">1</tspan></text>
<text x="724.1" y="416.6" class="ser" font-size="15.8">&#916;<tspan font-style="italic" font-size="15.4" dx="0">&#964;</tspan><tspan class="sans" font-size="10" dy="4.5" dx="-0.6">2</tspan></text>
<text x="800.3" y="409.0" class="ser" font-size="15.8">&#916;<tspan font-style="italic" font-size="15.4" dx="0">&#964;</tspan><tspan class="sans" font-size="10" dy="4.5" dx="-0.6">3</tspan></text>
<text x="876.2" y="396.1" class="ser" font-size="15.8">&#916;<tspan font-style="italic" font-size="15.4" dx="0">&#964;</tspan><tspan class="sans" font-size="10" dy="4.5" dx="-0.6">4</tspan></text>
<text x="952.4" y="389.2" class="ser" font-size="15.8">&#916;<tspan font-style="italic" font-size="15.4" dx="0">&#964;</tspan><tspan class="sans" font-size="10" dy="4.5" dx="-0.6">5</tspan></text>
<text x="746.4" y="442.2" font-size="13.6" textLength="102.8" lengthAdjust="spacingAndGlyphs">Time delay (ns)</text>
<rect x="909.3" y="426.3" width="60.8" height="11.6" fill="url(#gd)" stroke="#111" stroke-width="1"/>
<text x="900.8" y="420.8" font-size="12.3" textLength="80.2" lengthAdjust="spacingAndGlyphs">Intensity (a.u.)</text>
<text x="904.1" y="449.3" font-size="12.3" textLength="8.0" lengthAdjust="spacingAndGlyphs">0</text>
<text x="967.7" y="449.6" font-size="12.3" textLength="4.6" lengthAdjust="spacingAndGlyphs">1</text>
<g transform="matrix(1 0.1529 0 1 90.90 513.20)" clip-path="url(#cr)">
<g filter="url(#fe0)">
<rect x="-1" y="-1" width="70.0" height="106.6" fill="#000000"/>
<ellipse cx="34.0" cy="92.0" rx="60.0" ry="44.0" fill="url(#re00)"/>
<ellipse cx="33.9" cy="52.0" rx="11.5" ry="18.5" fill="url(#re01)" transform="rotate(-8.0 33.9 52.0)"/>
<path d="M41.3 101.3h0M30.2 53.6h0M38.3 90.1h0M8.3 60.1h0M16.9 100.3h0M51.3 53.1h0M27.8 81.0h0M23.9 80.1h0M60.3 100.8h0M16.1 92.5h0M53.0 55.9h0M37.7 56.2h0M4.7 58.2h0M23.6 62.4h0M25.3 89.5h0M47.8 53.4h0M22.2 57.2h0M43.8 75.9h0M64.3 76.8h0M45.2 80.6h0M65.0 73.3h0M14.5 74.5h0M4.1 59.4h0M9.3 68.3h0M6.6 56.6h0M27.3 92.7h0M63.7 77.4h0M17.9 60.9h0M3.7 69.4h0M55.9 56.6h0M23.4 57.3h0M51.0 64.2h0M3.7 53.9h0M35.1 57.1h0M6.0 99.9h0M10.6 95.1h0M44.1 52.8h0M49.9 72.3h0M61.5 61.1h0M20.5 99.4h0M51.2 84.3h0M1.4 84.4h0M47.6 99.3h0M16.0 64.0h0M18.0 77.6h0M41.6 70.2h0M5.4 86.8h0M63.1 96.0h0M43.5 55.7h0M40.6 76.1h0M16.5 95.1h0M8.0 97.3h0M16.5 58.6h0M45.6 95.8h0M60.5 89.9h0M54.1 76.5h0M10.7 96.0h0M60.4 77.4h0M28.6 72.3h0M48.2 86.9h0M2.0 70.0h0M44.4 65.4h0M54.5 78.9h0M46.2 75.9h0M19.6 58.0h0M9.0 100.2h0M34.6 73.8h0M41.8 56.2h0M54.7 59.8h0M49.8 97.3h0" stroke="#fff" stroke-opacity="0.080" stroke-width="1.3" stroke-linecap="round" fill="none"/>
<path d="M39.9 96.8h0M58.5 95.3h0M9.1 67.9h0M34.7 77.7h0M55.9 102.8h0M64.0 72.5h0M40.7 80.7h0M24.8 91.7h0M5.6 93.4h0M55.0 88.7h0M7.7 50.3h0M7.3 62.0h0M65.1 81.5h0M2.3 69.0h0M44.2 81.9h0M7.3 93.9h0M16.3 74.1h0M27.6 98.0h0M54.5 73.2h0M32.6 57.2h0M27.2 80.5h0M29.2 79.5h0M64.6 46.2h0M56.4 94.0h0M19.0 63.8h0" stroke="#fff" stroke-opacity="0.140" stroke-width="1.2" stroke-linecap="round" fill="none"/>
</g>
</g>
<g transform="matrix(1 0.1529 0 1 171.10 503.40)" clip-path="url(#cr)">
<g filter="url(#fe1)">
<rect x="-1" y="-1" width="70.0" height="106.6" fill="#000000"/>
<ellipse cx="34.0" cy="92.0" rx="60.0" ry="44.0" fill="url(#re10)"/>
<ellipse cx="32.7" cy="50.5" rx="16.0" ry="24.0" fill="url(#re11)" transform="rotate(-8.0 32.7 50.5)"/>
<path d="M27.1 64.5h0M66.7 78.6h0M57.6 64.1h0M1.1 76.4h0M54.2 89.3h0M4.7 90.6h0M14.2 61.5h0M45.9 83.8h0M45.3 86.9h0M41.1 62.4h0M18.8 55.6h0M2.4 58.9h0M21.1 102.6h0M60.1 79.5h0M1.1 83.2h0M22.3 66.9h0M14.7 62.6h0M28.2 101.4h0M46.5 75.9h0M15.8 92.2h0M54.5 100.1h0M55.8 68.6h0M44.3 72.3h0M52.4 72.2h0M64.4 98.7h0M64.8 70.2h0M28.6 82.2h0M61.6 82.3h0M47.5 78.1h0M62.0 96.8h0M1.8 83.7h0M17.0 86.9h0M58.8 59.4h0M37.7 71.5h0M38.6 58.3h0M60.2 91.1h0M9.7 89.1h0M45.0 99.4h0M43.3 97.7h0M52.2 82.8h0M7.7 67.3h0M45.5 90.0h0M7.1 68.8h0M28.0 65.5h0M60.5 82.4h0M20.6 83.6h0M51.8 97.1h0M44.2 90.4h0M21.2 75.8h0M56.9 99.3h0M47.6 59.2h0M35.7 70.6h0M6.1 75.1h0M23.6 65.4h0M62.3 55.7h0M37.5 59.8h0M62.2 63.8h0M10.2 101.8h0M32.4 91.0h0M60.6 80.7h0" stroke="#fff" stroke-opacity="0.075" stroke-width="1.3" stroke-linecap="round" fill="none"/>
<path d="M6.9 73.6h0M8.5 51.1h0M2.2 102.8h0M12.3 51.8h0M52.8 74.8h0M13.5 102.6h0M18.3 58.7h0M35.7 62.6h0M54.6 76.0h0M5.7 91.3h0M36.3 53.6h0M33.0 86.2h0M26.7 91.7h0M5.3 80.7h0M21.3 87.7h0M32.9 61.7h0M20.5 75.6h0M44.3 79.6h0" stroke="#fff" stroke-opacity="0.125" stroke-width="1.2" stroke-linecap="round" fill="none"/>
</g>
</g>
<g transform="matrix(1 0.1529 0 1 251.30 493.60)" clip-path="url(#cr)">
<g filter="url(#fe2)">
<rect x="-1" y="-1" width="70.0" height="106.6" fill="#000000"/>
<ellipse cx="34.0" cy="92.0" rx="60.0" ry="44.0" fill="url(#re20)"/>
<ellipse cx="8.0" cy="53.0" rx="14.0" ry="3.4" fill="url(#re21)"/>
<ellipse cx="34.1" cy="51.0" rx="17.0" ry="26.0" fill="url(#re22)" transform="rotate(-8.0 34.1 51.0)"/>
<path d="M2.8 73.2h0M28.7 88.1h0M63.9 95.1h0M41.9 96.4h0M21.2 67.3h0M18.8 86.0h0M48.1 81.8h0M37.1 89.8h0M36.3 80.1h0M35.1 78.4h0M24.9 85.4h0M45.9 59.5h0M11.5 59.7h0M49.1 102.0h0M45.1 81.4h0M64.6 90.4h0M58.5 83.3h0M30.4 101.9h0M37.0 64.7h0M65.8 94.7h0M34.4 76.1h0M43.9 87.0h0M65.5 84.9h0M28.9 63.5h0M52.9 73.6h0M53.8 98.1h0M47.6 64.5h0M1.5 100.3h0M37.9 68.3h0M9.1 81.2h0M8.1 63.7h0M62.1 70.4h0M54.0 83.0h0M4.5 90.9h0M46.5 94.0h0M19.0 90.1h0M14.3 86.1h0M38.7 75.2h0M10.2 61.1h0M18.2 68.5h0M12.3 89.2h0M53.6 65.8h0M2.3 62.7h0M14.9 76.2h0M31.7 94.7h0M2.1 77.0h0M3.3 100.3h0M9.4 81.1h0M54.1 98.0h0M11.7 78.8h0M53.2 94.8h0M50.1 64.6h0M8.1 88.8h0M49.9 78.7h0M26.6 64.5h0" stroke="#fff" stroke-opacity="0.070" stroke-width="1.3" stroke-linecap="round" fill="none"/>
<path d="M10.1 57.6h0M5.9 59.6h0M29.0 83.7h0M16.4 101.6h0M30.4 79.2h0M29.3 78.5h0M4.2 93.0h0M35.2 68.8h0M65.4 94.8h0M14.4 98.2h0M4.2 76.6h0M14.9 80.1h0M38.9 62.8h0M61.5 88.8h0" stroke="#fff" stroke-opacity="0.125" stroke-width="1.2" stroke-linecap="round" fill="none"/>
</g>
</g>
<g transform="matrix(1 0.1529 0 1 331.50 483.80)" clip-path="url(#cr)">
<g filter="url(#fe3)">
<rect x="-1" y="-1" width="70.0" height="106.6" fill="#000000"/>
<ellipse cx="34.0" cy="95.0" rx="60.0" ry="40.0" fill="url(#re30)"/>
<ellipse cx="9.0" cy="53.5" rx="16.0" ry="6.0" fill="url(#re31)"/>
<ellipse cx="33.5" cy="51.0" rx="22.0" ry="32.0" fill="url(#re32)" transform="rotate(-6.0 33.5 51.0)"/>
<ellipse cx="36.0" cy="60.0" rx="12.0" ry="16.0" fill="url(#re33)"/>
<path d="M54.8 63.7h0M53.0 69.9h0M36.2 64.3h0M55.7 88.9h0M10.7 80.0h0M29.1 80.3h0M34.7 62.5h0M53.7 80.7h0M20.9 100.0h0M56.3 76.3h0M36.8 101.4h0M37.7 71.3h0M8.4 86.1h0M63.0 100.8h0M15.8 70.5h0M25.9 62.3h0M65.5 87.6h0M25.7 90.2h0M21.2 76.4h0M12.2 87.7h0M27.4 65.5h0M24.5 101.0h0M39.8 66.4h0M37.8 88.1h0M55.2 96.3h0M15.8 76.7h0M27.3 75.0h0M47.3 83.9h0M18.3 89.3h0M38.4 83.4h0M34.9 68.4h0M61.4 70.9h0M57.8 97.7h0M6.5 77.0h0M44.9 91.4h0M50.2 72.7h0M58.8 76.0h0M6.4 84.4h0M60.0 102.0h0M12.4 83.1h0" stroke="#fff" stroke-opacity="0.060" stroke-width="1.3" stroke-linecap="round" fill="none"/>
</g>
</g>
<g transform="matrix(1 0.1529 0 1 411.70 474.00)" clip-path="url(#cr)">
<g filter="url(#fe4)">
<rect x="-1" y="-1" width="70.0" height="106.6" fill="#030303"/>
<ellipse cx="34.0" cy="50.0" rx="44.0" ry="54.0" fill="url(#re40)"/>
<ellipse cx="7.0" cy="57.0" rx="16.0" ry="14.0" fill="url(#re41)"/>
<ellipse cx="34.5" cy="50.5" rx="32.5" ry="43.0" fill="url(#re42)"/>
<ellipse cx="42.5" cy="46.0" rx="16.0" ry="30.0" fill="url(#re43)"/>
<path d="M66.2 88.9h0M38.5 89.5h0M34.0 100.8h0M22.5 89.5h0M2.5 87.4h0M36.9 88.1h0M62.2 93.6h0M66.4 74.1h0M50.5 102.4h0M1.6 98.1h0M64.6 79.5h0M36.6 91.5h0M46.8 87.3h0M11.1 76.4h0M46.7 70.1h0M34.8 94.1h0M47.1 82.7h0M52.6 73.5h0M2.9 89.5h0M20.2 70.8h0M41.7 76.2h0M19.6 75.3h0M65.5 98.6h0M26.2 72.2h0M4.5 73.3h0M46.3 73.4h0M45.5 101.2h0M19.2 102.5h0M10.6 82.7h0M13.5 90.5h0" stroke="#fff" stroke-opacity="0.060" stroke-width="1.3" stroke-linecap="round" fill="none"/>
</g>
</g>
<g stroke="#111" stroke-width="1.1" fill="none">
<path d="M90.9 499.2 L90.9 617.8 L158.9 628.2 L170.6 631.5"/>
<path d="M158.9 628.2 L492.9 589.6"/>
<path d="M90.9 565.5 h3.5"/>
<path d="M124.9 623.0 v-4"/>
</g>
<path d="M90.9 495.2 l-2.6 7 l2.6 -1.6 l2.6 1.6 z" fill="#111"/>
<path d="M0 0 l-7 -2.7 l1.6 2.7 l-1.6 2.7 z" fill="#111" transform="translate(495.9 589.2) rotate(-6.60)"/>
<path d="M0 0 l-6 -2.3 l1.4 2.3 l-1.4 2.3 z" fill="#111" transform="translate(172.6 631.9) rotate(15.11)"/>
<text x="40.3" y="488.3" font-size="22" font-weight="bold" stroke="#000" stroke-width="0.9" stroke-linejoin="round" fill="#000">e</text>
<text x="61.2" y="519.2" font-size="12.3" textLength="22.6" lengthAdjust="spacingAndGlyphs">200</text>
<text x="75.8" y="570.5" font-size="12.3" textLength="8.0" lengthAdjust="spacingAndGlyphs">0</text>
<text x="55.0" y="619.1" font-size="12.3" textLength="28.8" lengthAdjust="spacingAndGlyphs">-200</text>
<text font-size="14.3" textLength="41" lengthAdjust="spacingAndGlyphs" transform="translate(47.3 562.9) rotate(-90) translate(-20.5 3.6)"><tspan font-style="italic">y</tspan> (&#181;m)</text>
<text x="69.7" y="635.3" font-size="12.3" textLength="28.8" lengthAdjust="spacingAndGlyphs">-200</text>
<text x="117.7" y="638.5" font-size="12.3" textLength="8.0" lengthAdjust="spacingAndGlyphs">0</text>
<text x="145.0" y="643.9" font-size="12.3" textLength="22.6" lengthAdjust="spacingAndGlyphs">200</text>
<text x="91.6" y="661.2" font-size="14.3" textLength="42" lengthAdjust="spacingAndGlyphs"><tspan font-style="italic">x</tspan> (&#181;m)</text>
<text x="173.0" y="647.4" class="ser" font-size="15.8">&#916;<tspan font-style="italic" font-size="15.4" dx="0">&#964;</tspan><tspan class="sans" font-size="10" dy="4.5" dx="-0.6">1</tspan></text>
<text x="243.7" y="635.5" class="ser" font-size="15.8">&#916;<tspan font-style="italic" font-size="15.4" dx="0">&#964;</tspan><tspan class="sans" font-size="10" dy="4.5" dx="-0.6">2</tspan></text>
<text x="319.6" y="628.6" class="ser" font-size="15.8">&#916;<tspan font-style="italic" font-size="15.4" dx="0">&#964;</tspan><tspan class="sans" font-size="10" dy="4.5" dx="-0.6">3</tspan></text>
<text x="395.1" y="615.6" class="ser" font-size="15.8">&#916;<tspan font-style="italic" font-size="15.4" dx="0">&#964;</tspan><tspan class="sans" font-size="10" dy="4.5" dx="-0.6">4</tspan></text>
<text x="471.0" y="608.1" class="ser" font-size="15.8">&#916;<tspan font-style="italic" font-size="15.4" dx="0">&#964;</tspan><tspan class="sans" font-size="10" dy="4.5" dx="-0.6">5</tspan></text>
<text x="274.0" y="658.2" font-size="13.6" textLength="102.8" lengthAdjust="spacingAndGlyphs">Time delay (ns)</text>
<rect x="436.1" y="645.0" width="60.8" height="11.6" fill="url(#ge)" stroke="#111" stroke-width="1"/>
<text x="426.4" y="637.0" font-size="12.3" textLength="80.2" lengthAdjust="spacingAndGlyphs">Intensity (a.u.)</text>
<text x="431.6" y="670.0" font-size="12.3" textLength="8.0" lengthAdjust="spacingAndGlyphs">0</text>
<text x="493.0" y="670.0" font-size="12.3" textLength="4.6" lengthAdjust="spacingAndGlyphs">1</text>
<g transform="matrix(1 0.1529 0 1 570.20 512.40)" clip-path="url(#cr)">
<g filter="url(#ff0)">
<rect x="-1" y="-1" width="70.0" height="106.6" fill="#010101"/>
<ellipse cx="34.0" cy="85.0" rx="40.0" ry="22.0" fill="url(#rf00)"/>
<ellipse cx="32.6" cy="51.4" rx="13.0" ry="17.0" fill="url(#rf01)"/>
<ellipse cx="33.0" cy="51.0" rx="11.5" ry="15.0" fill="url(#rf02)" transform="rotate(-5.0 33.0 51.0)"/>
<ellipse cx="22.0" cy="55.0" rx="6.0" ry="4.5" fill="url(#rf03)" transform="rotate(-30.0 22.0 55.0)"/>
<path d="M15.0 66.9h0M21.2 85.6h0M7.7 92.9h0M17.0 93.4h0M44.7 74.9h0M20.7 93.6h0M39.5 69.4h0M49.5 84.2h0M31.6 99.3h0M53.9 66.5h0M61.0 83.8h0M42.6 77.0h0M3.4 86.3h0M28.1 88.8h0M61.1 78.9h0M45.9 97.2h0M12.9 85.4h0M58.5 70.8h0M46.6 95.0h0M24.8 97.3h0M20.6 98.2h0M33.3 94.7h0" stroke="#fff" stroke-opacity="0.225" stroke-width="1.3" stroke-linecap="round" fill="none"/>
<path d="M5.2 81.4h0M10.5 62.8h0M41.0 85.8h0M3.0 81.9h0M27.3 82.8h0M15.8 100.2h0M33.0 60.8h0M10.1 86.4h0M26.4 88.0h0M18.8 84.8h0M7.3 91.0h0M45.9 98.7h0M10.5 96.3h0M14.8 68.0h0M21.9 90.7h0M24.5 97.3h0M54.0 80.9h0M21.0 73.7h0M62.2 91.9h0M62.6 86.5h0M15.7 76.8h0M12.7 74.0h0M27.7 62.2h0M9.3 76.9h0M47.3 67.4h0M10.8 91.7h0M47.0 76.2h0M26.8 90.8h0M28.5 89.4h0M15.6 87.1h0" stroke="#fff" stroke-opacity="0.100" stroke-width="1.3" stroke-linecap="round" fill="none"/>
</g>
</g>
<g transform="matrix(1 0.1529 0 1 650.65 502.80)" clip-path="url(#cr)">
<g filter="url(#ff1)">
<rect x="-1" y="-1" width="70.0" height="106.6" fill="#010101"/>
<ellipse cx="30.0" cy="52.0" rx="40.0" ry="34.0" fill="url(#rf10)"/>
<ellipse cx="13.0" cy="50.5" rx="30.0" ry="18.0" fill="url(#rf11)" transform="rotate(8.0 13.0 50.5)"/>
<ellipse cx="34.5" cy="52.5" rx="18.5" ry="21.0" fill="url(#rf12)"/>
<ellipse cx="33.0" cy="61.0" rx="11.0" ry="6.5" fill="url(#rf13)"/>
<path d="M21.9 88.0h0M29.7 94.8h0M37.0 84.2h0M22.5 80.9h0M60.8 75.3h0M4.9 76.4h0M24.6 69.5h0M46.7 97.1h0M40.8 82.0h0M54.3 83.4h0M7.2 90.2h0M43.1 99.6h0M20.8 82.6h0M3.6 88.8h0M25.9 89.7h0M39.3 71.9h0M38.5 92.3h0M20.0 67.9h0M28.5 91.1h0M12.6 67.6h0M39.1 77.3h0M37.4 87.9h0M40.4 66.2h0M60.2 96.0h0M22.9 96.9h0M61.9 94.5h0M16.8 90.8h0M37.9 79.2h0M35.0 68.4h0M27.0 68.6h0M31.0 78.8h0M17.2 74.5h0M16.8 100.8h0M11.1 69.4h0M50.2 80.9h0M38.1 77.8h0M8.5 82.0h0M13.9 87.6h0M57.4 70.5h0M32.0 67.9h0" stroke="#fff" stroke-opacity="0.090" stroke-width="1.3" stroke-linecap="round" fill="none"/>
</g>
</g>
<g transform="matrix(1 0.1529 0 1 731.10 493.20)" clip-path="url(#cr)">
<g filter="url(#ff2)">
<rect x="-1" y="-1" width="70.0" height="106.6" fill="#010101"/>
<ellipse cx="32.0" cy="50.0" rx="42.0" ry="46.0" fill="url(#rf20)"/>
<ellipse cx="9.0" cy="54.0" rx="17.0" ry="11.0" fill="url(#rf21)"/>
<ellipse cx="31.0" cy="49.5" rx="26.0" ry="31.0" fill="url(#rf22)"/>
<ellipse cx="34.0" cy="53.0" rx="3.2" ry="4.2" fill="url(#rf23)"/>
<path d="M54.0 89.7h0M8.9 81.3h0M55.4 85.4h0M8.4 91.4h0M47.5 87.1h0M38.1 87.0h0M35.8 76.0h0M46.6 93.9h0M55.7 101.4h0M55.6 85.8h0M60.3 91.4h0M7.9 95.5h0M45.7 75.1h0M24.4 84.8h0M50.4 97.4h0M33.3 85.4h0M48.2 97.1h0M29.5 86.5h0M27.3 80.6h0M36.5 75.5h0M23.8 96.2h0M24.1 83.3h0M6.7 84.7h0M12.5 92.9h0M17.5 93.7h0M50.7 99.7h0M29.6 79.7h0M61.4 86.6h0M42.7 91.5h0M60.7 83.6h0" stroke="#fff" stroke-opacity="0.075" stroke-width="1.3" stroke-linecap="round" fill="none"/>
</g>
</g>
<g transform="matrix(1 0.1529 0 1 811.55 483.60)" clip-path="url(#cr)">
<g filter="url(#ff3)">
<rect x="-1" y="-1" width="70.0" height="106.6" fill="#010101"/>
<ellipse cx="34.0" cy="50.0" rx="46.0" ry="52.0" fill="url(#rf30)"/>
<ellipse cx="6.0" cy="61.0" rx="13.0" ry="8.0" fill="url(#rf31)"/>
<ellipse cx="35.9" cy="51.0" rx="31.5" ry="36.5" fill="url(#rf32)"/>
</g>
</g>
<g transform="matrix(1 0.1529 0 1 892.00 474.00)" clip-path="url(#cr)">
<g filter="url(#ff4)">
<rect x="-1" y="-1" width="70.0" height="106.6" fill="#010101"/>
<ellipse cx="34.0" cy="50.0" rx="50.0" ry="60.0" fill="url(#rf40)"/>
<ellipse cx="33.5" cy="49.0" rx="36.5" ry="44.5" fill="url(#rf41)"/>
<ellipse cx="5.5" cy="38.5" rx="1.2" ry="1.6" fill="url(#rf42)"/>
</g>
</g>
<g stroke="#111" stroke-width="1.1" fill="none">
<path d="M570.2 498.4 L570.2 617.0 L638.2 627.4 L650.0 629.6"/>
<path d="M638.2 627.4 L972.2 588.8"/>
<path d="M570.2 564.7 h3.5"/>
<path d="M604.2 622.2 v-4"/>
</g>
<path d="M570.2 494.4 l-2.6 7 l2.6 -1.6 l2.6 1.6 z" fill="#111"/>
<path d="M0 0 l-7 -2.7 l1.6 2.7 l-1.6 2.7 z" fill="#111" transform="translate(975.2 588.4) rotate(-6.60)"/>
<path d="M0 0 l-6 -2.3 l1.4 2.3 l-1.4 2.3 z" fill="#111" transform="translate(652.0 630.0) rotate(10.67)"/>
<text x="517.6" y="487.7" font-size="22" font-weight="bold" stroke="#000" stroke-width="0.9" stroke-linejoin="round" fill="#000">f</text>
<text x="539.4" y="517.8" font-size="12.3" textLength="22.6" lengthAdjust="spacingAndGlyphs">200</text>
<text x="554.0" y="569.7" font-size="12.3" textLength="8.0" lengthAdjust="spacingAndGlyphs">0</text>
<text x="533.2" y="617.2" font-size="12.3" textLength="28.8" lengthAdjust="spacingAndGlyphs">-200</text>
<text font-size="14.3" textLength="41" lengthAdjust="spacingAndGlyphs" transform="translate(526.0 558.6) rotate(-90) translate(-20.5 3.6)"><tspan font-style="italic">y</tspan> (&#181;m)</text>
<text x="554.0" y="631.9" font-size="12.3" textLength="28.8" lengthAdjust="spacingAndGlyphs">-200</text>
<text x="599.3" y="637.7" font-size="12.3" textLength="8.0" lengthAdjust="spacingAndGlyphs">0</text>
<text x="622.2" y="643.9" font-size="12.3" textLength="22.6" lengthAdjust="spacingAndGlyphs">200</text>
<text x="560.9" y="658.0" font-size="14.3" textLength="42" lengthAdjust="spacingAndGlyphs"><tspan font-style="italic">x</tspan> (&#181;m)</text>
<text x="655.0" y="647.2" class="ser" font-size="15.8">&#916;<tspan font-style="italic" font-size="15.4" dx="0">&#964;</tspan><tspan class="sans" font-size="10" dy="4.5" dx="-0.6">1</tspan></text>
<text x="725.8" y="633.9" class="ser" font-size="15.8">&#916;<tspan font-style="italic" font-size="15.4" dx="0">&#964;</tspan><tspan class="sans" font-size="10" dy="4.5" dx="-0.6">2</tspan></text>
<text x="794.5" y="626.6" class="ser" font-size="15.8">&#916;<tspan font-style="italic" font-size="15.4" dx="0">&#964;</tspan><tspan class="sans" font-size="10" dy="4.5" dx="-0.6">3</tspan></text>
<text x="875.6" y="616.6" class="ser" font-size="15.8">&#916;<tspan font-style="italic" font-size="15.4" dx="0">&#964;</tspan><tspan class="sans" font-size="10" dy="4.5" dx="-0.6">4</tspan></text>
<text x="948.8" y="608.1" class="ser" font-size="15.8">&#916;<tspan font-style="italic" font-size="15.4" dx="0">&#964;</tspan><tspan class="sans" font-size="10" dy="4.5" dx="-0.6">5</tspan></text>
<text x="742.6" y="663.0" font-size="13.6" textLength="102.8" lengthAdjust="spacingAndGlyphs">Time delay (ns)</text>
<rect x="909.3" y="646.7" width="60.8" height="11.6" fill="url(#gf)" stroke="#111" stroke-width="1"/>
<text x="899.9" y="636.5" font-size="12.3" textLength="80.2" lengthAdjust="spacingAndGlyphs">Intensity (a.u.)</text>
<text x="905.9" y="673.0" font-size="12.3" textLength="8.0" lengthAdjust="spacingAndGlyphs">0</text>
<text x="967.6" y="673.5" font-size="12.3" textLength="4.6" lengthAdjust="spacingAndGlyphs">1</text>
</svg>
<div class="strip"></div>
</body></html>
